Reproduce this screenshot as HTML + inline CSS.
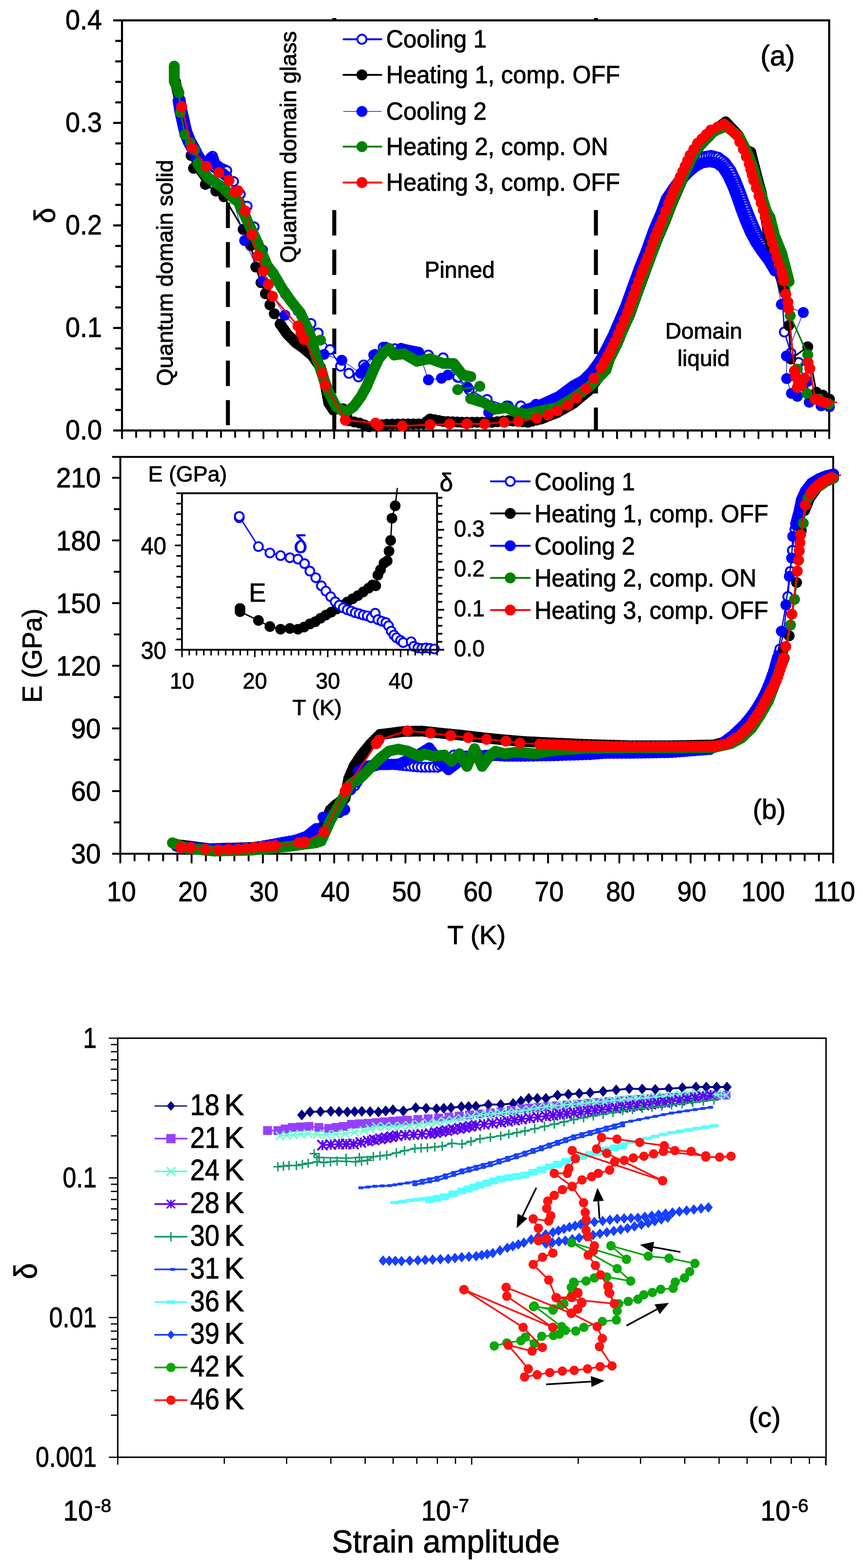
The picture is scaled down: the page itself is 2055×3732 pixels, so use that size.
<!DOCTYPE html>
<html><head><meta charset="utf-8"><title>Figure</title><style>
html,body{margin:0;padding:0;background:#fff;}
svg{display:block;}
text{font-family:'Liberation Sans',Arial,Helvetica,sans-serif;}
</style></head><body>
<svg xmlns="http://www.w3.org/2000/svg" width="2055" height="3732" viewBox="0 0 2055 3732">
<rect width="2055" height="3732" fill="#fff"/>
<line x1="269.5" y1="1024.6" x2="290.5" y2="1024.6" stroke="#000" stroke-width="5" />
<line x1="274.5" y1="975.8" x2="290.5" y2="975.8" stroke="#000" stroke-width="5" />
<line x1="274.5" y1="927.0" x2="290.5" y2="927.0" stroke="#000" stroke-width="5" />
<line x1="274.5" y1="878.2" x2="290.5" y2="878.2" stroke="#000" stroke-width="5" />
<line x1="274.5" y1="829.4" x2="290.5" y2="829.4" stroke="#000" stroke-width="5" />
<line x1="269.5" y1="780.6" x2="290.5" y2="780.6" stroke="#000" stroke-width="5" />
<line x1="274.5" y1="731.8" x2="290.5" y2="731.8" stroke="#000" stroke-width="5" />
<line x1="274.5" y1="683.0" x2="290.5" y2="683.0" stroke="#000" stroke-width="5" />
<line x1="274.5" y1="634.2" x2="290.5" y2="634.2" stroke="#000" stroke-width="5" />
<line x1="274.5" y1="585.4" x2="290.5" y2="585.4" stroke="#000" stroke-width="5" />
<line x1="269.5" y1="536.5" x2="290.5" y2="536.5" stroke="#000" stroke-width="5" />
<line x1="274.5" y1="487.7" x2="290.5" y2="487.7" stroke="#000" stroke-width="5" />
<line x1="274.5" y1="438.9" x2="290.5" y2="438.9" stroke="#000" stroke-width="5" />
<line x1="274.5" y1="390.1" x2="290.5" y2="390.1" stroke="#000" stroke-width="5" />
<line x1="274.5" y1="341.3" x2="290.5" y2="341.3" stroke="#000" stroke-width="5" />
<line x1="269.5" y1="292.5" x2="290.5" y2="292.5" stroke="#000" stroke-width="5" />
<line x1="274.5" y1="243.7" x2="290.5" y2="243.7" stroke="#000" stroke-width="5" />
<line x1="274.5" y1="194.9" x2="290.5" y2="194.9" stroke="#000" stroke-width="5" />
<line x1="274.5" y1="146.1" x2="290.5" y2="146.1" stroke="#000" stroke-width="5" />
<line x1="274.5" y1="97.3" x2="290.5" y2="97.3" stroke="#000" stroke-width="5" />
<line x1="269.5" y1="48.5" x2="290.5" y2="48.5" stroke="#000" stroke-width="5" />
<line x1="290.5" y1="1024.6" x2="290.5" y2="1043.0" stroke="#000" stroke-width="4.5" stroke-linecap="round"/>
<line x1="324.2" y1="1024.6" x2="324.2" y2="1040.0" stroke="#000" stroke-width="4.5" stroke-linecap="round"/>
<line x1="357.9" y1="1024.6" x2="357.9" y2="1040.0" stroke="#000" stroke-width="4.5" stroke-linecap="round"/>
<line x1="391.5" y1="1024.6" x2="391.5" y2="1040.0" stroke="#000" stroke-width="4.5" stroke-linecap="round"/>
<line x1="425.2" y1="1024.6" x2="425.2" y2="1040.0" stroke="#000" stroke-width="4.5" stroke-linecap="round"/>
<line x1="458.9" y1="1024.6" x2="458.9" y2="1043.0" stroke="#000" stroke-width="4.5" stroke-linecap="round"/>
<line x1="492.6" y1="1024.6" x2="492.6" y2="1040.0" stroke="#000" stroke-width="4.5" stroke-linecap="round"/>
<line x1="526.3" y1="1024.6" x2="526.3" y2="1040.0" stroke="#000" stroke-width="4.5" stroke-linecap="round"/>
<line x1="559.9" y1="1024.6" x2="559.9" y2="1040.0" stroke="#000" stroke-width="4.5" stroke-linecap="round"/>
<line x1="593.6" y1="1024.6" x2="593.6" y2="1040.0" stroke="#000" stroke-width="4.5" stroke-linecap="round"/>
<line x1="627.3" y1="1024.6" x2="627.3" y2="1043.0" stroke="#000" stroke-width="4.5" stroke-linecap="round"/>
<line x1="661.0" y1="1024.6" x2="661.0" y2="1040.0" stroke="#000" stroke-width="4.5" stroke-linecap="round"/>
<line x1="694.7" y1="1024.6" x2="694.7" y2="1040.0" stroke="#000" stroke-width="4.5" stroke-linecap="round"/>
<line x1="728.3" y1="1024.6" x2="728.3" y2="1040.0" stroke="#000" stroke-width="4.5" stroke-linecap="round"/>
<line x1="762.0" y1="1024.6" x2="762.0" y2="1040.0" stroke="#000" stroke-width="4.5" stroke-linecap="round"/>
<line x1="795.7" y1="1024.6" x2="795.7" y2="1043.0" stroke="#000" stroke-width="4.5" stroke-linecap="round"/>
<line x1="829.4" y1="1024.6" x2="829.4" y2="1040.0" stroke="#000" stroke-width="4.5" stroke-linecap="round"/>
<line x1="863.1" y1="1024.6" x2="863.1" y2="1040.0" stroke="#000" stroke-width="4.5" stroke-linecap="round"/>
<line x1="896.7" y1="1024.6" x2="896.7" y2="1040.0" stroke="#000" stroke-width="4.5" stroke-linecap="round"/>
<line x1="930.4" y1="1024.6" x2="930.4" y2="1040.0" stroke="#000" stroke-width="4.5" stroke-linecap="round"/>
<line x1="964.1" y1="1024.6" x2="964.1" y2="1043.0" stroke="#000" stroke-width="4.5" stroke-linecap="round"/>
<line x1="997.8" y1="1024.6" x2="997.8" y2="1040.0" stroke="#000" stroke-width="4.5" stroke-linecap="round"/>
<line x1="1031.5" y1="1024.6" x2="1031.5" y2="1040.0" stroke="#000" stroke-width="4.5" stroke-linecap="round"/>
<line x1="1065.1" y1="1024.6" x2="1065.1" y2="1040.0" stroke="#000" stroke-width="4.5" stroke-linecap="round"/>
<line x1="1098.8" y1="1024.6" x2="1098.8" y2="1040.0" stroke="#000" stroke-width="4.5" stroke-linecap="round"/>
<line x1="1132.5" y1="1024.6" x2="1132.5" y2="1043.0" stroke="#000" stroke-width="4.5" stroke-linecap="round"/>
<line x1="1166.2" y1="1024.6" x2="1166.2" y2="1040.0" stroke="#000" stroke-width="4.5" stroke-linecap="round"/>
<line x1="1199.9" y1="1024.6" x2="1199.9" y2="1040.0" stroke="#000" stroke-width="4.5" stroke-linecap="round"/>
<line x1="1233.5" y1="1024.6" x2="1233.5" y2="1040.0" stroke="#000" stroke-width="4.5" stroke-linecap="round"/>
<line x1="1267.2" y1="1024.6" x2="1267.2" y2="1040.0" stroke="#000" stroke-width="4.5" stroke-linecap="round"/>
<line x1="1300.9" y1="1024.6" x2="1300.9" y2="1043.0" stroke="#000" stroke-width="4.5" stroke-linecap="round"/>
<line x1="1334.6" y1="1024.6" x2="1334.6" y2="1040.0" stroke="#000" stroke-width="4.5" stroke-linecap="round"/>
<line x1="1368.3" y1="1024.6" x2="1368.3" y2="1040.0" stroke="#000" stroke-width="4.5" stroke-linecap="round"/>
<line x1="1401.9" y1="1024.6" x2="1401.9" y2="1040.0" stroke="#000" stroke-width="4.5" stroke-linecap="round"/>
<line x1="1435.6" y1="1024.6" x2="1435.6" y2="1040.0" stroke="#000" stroke-width="4.5" stroke-linecap="round"/>
<line x1="1469.3" y1="1024.6" x2="1469.3" y2="1043.0" stroke="#000" stroke-width="4.5" stroke-linecap="round"/>
<line x1="1503.0" y1="1024.6" x2="1503.0" y2="1040.0" stroke="#000" stroke-width="4.5" stroke-linecap="round"/>
<line x1="1536.7" y1="1024.6" x2="1536.7" y2="1040.0" stroke="#000" stroke-width="4.5" stroke-linecap="round"/>
<line x1="1570.3" y1="1024.6" x2="1570.3" y2="1040.0" stroke="#000" stroke-width="4.5" stroke-linecap="round"/>
<line x1="1604.0" y1="1024.6" x2="1604.0" y2="1040.0" stroke="#000" stroke-width="4.5" stroke-linecap="round"/>
<line x1="1637.7" y1="1024.6" x2="1637.7" y2="1043.0" stroke="#000" stroke-width="4.5" stroke-linecap="round"/>
<line x1="1671.4" y1="1024.6" x2="1671.4" y2="1040.0" stroke="#000" stroke-width="4.5" stroke-linecap="round"/>
<line x1="1705.1" y1="1024.6" x2="1705.1" y2="1040.0" stroke="#000" stroke-width="4.5" stroke-linecap="round"/>
<line x1="1738.7" y1="1024.6" x2="1738.7" y2="1040.0" stroke="#000" stroke-width="4.5" stroke-linecap="round"/>
<line x1="1772.4" y1="1024.6" x2="1772.4" y2="1040.0" stroke="#000" stroke-width="4.5" stroke-linecap="round"/>
<line x1="1806.1" y1="1024.6" x2="1806.1" y2="1043.0" stroke="#000" stroke-width="4.5" stroke-linecap="round"/>
<line x1="1839.8" y1="1024.6" x2="1839.8" y2="1040.0" stroke="#000" stroke-width="4.5" stroke-linecap="round"/>
<line x1="1873.5" y1="1024.6" x2="1873.5" y2="1040.0" stroke="#000" stroke-width="4.5" stroke-linecap="round"/>
<line x1="1907.1" y1="1024.6" x2="1907.1" y2="1040.0" stroke="#000" stroke-width="4.5" stroke-linecap="round"/>
<line x1="1940.8" y1="1024.6" x2="1940.8" y2="1040.0" stroke="#000" stroke-width="4.5" stroke-linecap="round"/>
<line x1="1974.5" y1="1024.6" x2="1974.5" y2="1043.0" stroke="#000" stroke-width="4.5" stroke-linecap="round"/>
<rect x="290.5" y="48.5" width="1684.0" height="976.0999999999999" fill="none" stroke="#000" stroke-width="5"/>
<line x1="542.7" y1="482.3" x2="542.7" y2="1012.0" stroke="#000" stroke-width="9.5" stroke-dasharray="60.5 33.5"/>
<line x1="796.0" y1="500.0" x2="796.0" y2="1024.0" stroke="#000" stroke-width="9.5" stroke-dasharray="60.5 33.5"/>
<line x1="1419.0" y1="500.0" x2="1419.0" y2="1024.0" stroke="#000" stroke-width="9.5" stroke-dasharray="60.5 33.5"/>
<rect x="791" y="43" width="10" height="5" fill="#000"/>
<rect x="1414" y="43" width="10" height="5" fill="#000"/>
<g id="dataA">
<polyline points="429.0,238.0 433.0,261.0 439.0,288.0 445.0,314.0 453.0,334.0 463.0,352.0 471.0,368.0 480.0,382.0 495.0,392.0 506.0,372.0 512.0,390.0 526.0,400.0 539.9,406.2 556.0,432.0 572.0,462.0 588.2,490.8 605.0,540.0 625.0,595.0 650.0,650.0 680.0,700.0 710.0,740.0 740.5,770.0 757.5,792.6 785.7,832.0 811.0,871.6 830.8,888.5 853.4,897.0 866.0,868.8 890.0,845.0 912.6,826.5 940.0,830.0 980.0,838.0 1020.0,845.0 1055.2,851.8 1090.0,898.3 1117.2,927.4 1159.9,950.7 1206.4,966.2 1240.0,966.0 1276.3,962.3 1307.3,956.5 1346.1,939.0 1384.9,911.9 1384.9,911.9 1412.0,882.0 1429.0,858.0 1444.0,830.0 1461.0,796.0 1475.0,763.0 1490.0,728.0 1505.0,686.0 1523.0,637.0 1539.0,597.0 1556.0,549.0 1574.0,507.0 1586.0,474.0 1604.0,447.0 1622.0,423.0 1640.0,402.0 1657.0,385.0 1675.0,373.0 1693.0,370.0 1710.0,374.0 1726.0,386.0 1740.0,405.0 1752.0,430.0 1763.0,458.0 1774.0,488.0 1786.0,518.0 1798.0,546.0 1810.0,572.0 1825.0,592.0 1845.0,600.0 1856.0,590.0 1867.7,790.2 1883.2,840.3 1901.6,862.8 1930.0,945.0 1960.0,960.0" fill="none" stroke="#0000ff" stroke-width="3" stroke-linejoin="round" stroke-linecap="round"/>
<g fill="#fff" stroke="#0000ff" stroke-width="4.5"><circle cx="429.0" cy="238.0" r="10.8"/><circle cx="430.0" cy="243.8" r="10.8"/><circle cx="431.0" cy="249.5" r="10.8"/><circle cx="432.0" cy="255.2" r="10.8"/><circle cx="433.0" cy="261.0" r="10.8"/><circle cx="434.5" cy="267.8" r="10.8"/><circle cx="436.0" cy="274.5" r="10.8"/><circle cx="437.5" cy="281.2" r="10.8"/><circle cx="439.0" cy="288.0" r="10.8"/><circle cx="440.5" cy="294.5" r="10.8"/><circle cx="442.0" cy="301.0" r="10.8"/><circle cx="443.5" cy="307.5" r="10.8"/><circle cx="445.0" cy="314.0" r="10.8"/><circle cx="447.0" cy="319.0" r="10.8"/><circle cx="449.0" cy="324.0" r="10.8"/><circle cx="451.0" cy="329.0" r="10.8"/><circle cx="453.0" cy="334.0" r="10.8"/><circle cx="456.3" cy="340.0" r="10.8"/><circle cx="459.7" cy="346.0" r="10.8"/><circle cx="463.0" cy="352.0" r="10.8"/><circle cx="465.7" cy="357.3" r="10.8"/><circle cx="468.3" cy="362.7" r="10.8"/><circle cx="471.0" cy="368.0" r="10.8"/><circle cx="474.0" cy="372.7" r="10.8"/><circle cx="477.0" cy="377.3" r="10.8"/><circle cx="480.0" cy="382.0" r="10.8"/><circle cx="485.0" cy="385.3" r="10.8"/><circle cx="490.0" cy="388.7" r="10.8"/><circle cx="495.0" cy="392.0" r="10.8"/><circle cx="497.8" cy="387.0" r="10.8"/><circle cx="500.5" cy="382.0" r="10.8"/><circle cx="503.2" cy="377.0" r="10.8"/><circle cx="506.0" cy="372.0" r="10.8"/><circle cx="508.0" cy="378.0" r="10.8"/><circle cx="510.0" cy="384.0" r="10.8"/><circle cx="512.0" cy="390.0" r="10.8"/><circle cx="516.7" cy="393.3" r="10.8"/><circle cx="521.3" cy="396.7" r="10.8"/><circle cx="526.0" cy="400.0" r="10.8"/><circle cx="530.6" cy="402.1" r="10.8"/><circle cx="535.3" cy="404.1" r="10.8"/><circle cx="539.9" cy="406.2" r="10.8"/><circle cx="556.0" cy="432.0" r="10.8"/><circle cx="572.0" cy="462.0" r="10.8"/><circle cx="588.2" cy="490.8" r="10.8"/><circle cx="605.0" cy="540.0" r="10.8"/><circle cx="625.0" cy="595.0" r="10.8"/><circle cx="650.0" cy="650.0" r="10.8"/><circle cx="680.0" cy="700.0" r="10.8"/><circle cx="710.0" cy="740.0" r="10.8"/><circle cx="740.5" cy="770.0" r="10.8"/><circle cx="757.5" cy="792.6" r="10.8"/><circle cx="785.7" cy="832.0" r="10.8"/><circle cx="811.0" cy="871.6" r="10.8"/><circle cx="830.8" cy="888.5" r="10.8"/><circle cx="853.4" cy="897.0" r="10.8"/><circle cx="866.0" cy="868.8" r="10.8"/><circle cx="890.0" cy="845.0" r="10.8"/><circle cx="912.6" cy="826.5" r="10.8"/><circle cx="940.0" cy="830.0" r="10.8"/><circle cx="980.0" cy="838.0" r="10.8"/><circle cx="1020.0" cy="845.0" r="10.8"/><circle cx="1055.2" cy="851.8" r="10.8"/><circle cx="1090.0" cy="898.3" r="10.8"/><circle cx="1117.2" cy="927.4" r="10.8"/><circle cx="1159.9" cy="950.7" r="10.8"/><circle cx="1206.4" cy="966.2" r="10.8"/><circle cx="1240.0" cy="966.0" r="10.8"/><circle cx="1276.3" cy="962.3" r="10.8"/><circle cx="1307.3" cy="956.5" r="10.8"/><circle cx="1346.1" cy="939.0" r="10.8"/><circle cx="1384.9" cy="911.9" r="10.8"/><circle cx="1384.9" cy="911.9" r="10.8"/><circle cx="1389.4" cy="906.9" r="10.8"/><circle cx="1393.9" cy="901.9" r="10.8"/><circle cx="1398.5" cy="897.0" r="10.8"/><circle cx="1403.0" cy="892.0" r="10.8"/><circle cx="1407.5" cy="887.0" r="10.8"/><circle cx="1412.0" cy="882.0" r="10.8"/><circle cx="1415.4" cy="877.2" r="10.8"/><circle cx="1418.8" cy="872.4" r="10.8"/><circle cx="1422.2" cy="867.6" r="10.8"/><circle cx="1425.6" cy="862.8" r="10.8"/><circle cx="1429.0" cy="858.0" r="10.8"/><circle cx="1432.0" cy="852.4" r="10.8"/><circle cx="1435.0" cy="846.8" r="10.8"/><circle cx="1438.0" cy="841.2" r="10.8"/><circle cx="1441.0" cy="835.6" r="10.8"/><circle cx="1444.0" cy="830.0" r="10.8"/><circle cx="1446.8" cy="824.3" r="10.8"/><circle cx="1449.7" cy="818.7" r="10.8"/><circle cx="1452.5" cy="813.0" r="10.8"/><circle cx="1455.3" cy="807.3" r="10.8"/><circle cx="1458.2" cy="801.7" r="10.8"/><circle cx="1461.0" cy="796.0" r="10.8"/><circle cx="1463.3" cy="790.5" r="10.8"/><circle cx="1465.7" cy="785.0" r="10.8"/><circle cx="1468.0" cy="779.5" r="10.8"/><circle cx="1470.3" cy="774.0" r="10.8"/><circle cx="1472.7" cy="768.5" r="10.8"/><circle cx="1475.0" cy="763.0" r="10.8"/><circle cx="1477.5" cy="757.2" r="10.8"/><circle cx="1480.0" cy="751.3" r="10.8"/><circle cx="1482.5" cy="745.5" r="10.8"/><circle cx="1485.0" cy="739.7" r="10.8"/><circle cx="1487.5" cy="733.8" r="10.8"/><circle cx="1490.0" cy="728.0" r="10.8"/><circle cx="1492.1" cy="722.0" r="10.8"/><circle cx="1494.3" cy="716.0" r="10.8"/><circle cx="1496.4" cy="710.0" r="10.8"/><circle cx="1498.6" cy="704.0" r="10.8"/><circle cx="1500.7" cy="698.0" r="10.8"/><circle cx="1502.9" cy="692.0" r="10.8"/><circle cx="1505.0" cy="686.0" r="10.8"/><circle cx="1507.2" cy="679.9" r="10.8"/><circle cx="1509.5" cy="673.8" r="10.8"/><circle cx="1511.8" cy="667.6" r="10.8"/><circle cx="1514.0" cy="661.5" r="10.8"/><circle cx="1516.2" cy="655.4" r="10.8"/><circle cx="1518.5" cy="649.2" r="10.8"/><circle cx="1520.8" cy="643.1" r="10.8"/><circle cx="1523.0" cy="637.0" r="10.8"/><circle cx="1525.3" cy="631.3" r="10.8"/><circle cx="1527.6" cy="625.6" r="10.8"/><circle cx="1529.9" cy="619.9" r="10.8"/><circle cx="1532.1" cy="614.1" r="10.8"/><circle cx="1534.4" cy="608.4" r="10.8"/><circle cx="1536.7" cy="602.7" r="10.8"/><circle cx="1539.0" cy="597.0" r="10.8"/><circle cx="1541.1" cy="591.0" r="10.8"/><circle cx="1543.2" cy="585.0" r="10.8"/><circle cx="1545.4" cy="579.0" r="10.8"/><circle cx="1547.5" cy="573.0" r="10.8"/><circle cx="1549.6" cy="567.0" r="10.8"/><circle cx="1551.8" cy="561.0" r="10.8"/><circle cx="1553.9" cy="555.0" r="10.8"/><circle cx="1556.0" cy="549.0" r="10.8"/><circle cx="1558.6" cy="543.0" r="10.8"/><circle cx="1561.1" cy="537.0" r="10.8"/><circle cx="1563.7" cy="531.0" r="10.8"/><circle cx="1566.3" cy="525.0" r="10.8"/><circle cx="1568.9" cy="519.0" r="10.8"/><circle cx="1571.4" cy="513.0" r="10.8"/><circle cx="1574.0" cy="507.0" r="10.8"/><circle cx="1576.0" cy="501.5" r="10.8"/><circle cx="1578.0" cy="496.0" r="10.8"/><circle cx="1580.0" cy="490.5" r="10.8"/><circle cx="1582.0" cy="485.0" r="10.8"/><circle cx="1584.0" cy="479.5" r="10.8"/><circle cx="1586.0" cy="474.0" r="10.8"/><circle cx="1589.6" cy="468.6" r="10.8"/><circle cx="1593.2" cy="463.2" r="10.8"/><circle cx="1596.8" cy="457.8" r="10.8"/><circle cx="1600.4" cy="452.4" r="10.8"/><circle cx="1604.0" cy="447.0" r="10.8"/><circle cx="1607.6" cy="442.2" r="10.8"/><circle cx="1611.2" cy="437.4" r="10.8"/><circle cx="1614.8" cy="432.6" r="10.8"/><circle cx="1618.4" cy="427.8" r="10.8"/><circle cx="1622.0" cy="423.0" r="10.8"/><circle cx="1626.5" cy="417.8" r="10.8"/><circle cx="1631.0" cy="412.5" r="10.8"/><circle cx="1635.5" cy="407.2" r="10.8"/><circle cx="1640.0" cy="402.0" r="10.8"/><circle cx="1644.2" cy="397.8" r="10.8"/><circle cx="1648.5" cy="393.5" r="10.8"/><circle cx="1652.8" cy="389.2" r="10.8"/><circle cx="1657.0" cy="385.0" r="10.8"/><circle cx="1661.5" cy="382.0" r="10.8"/><circle cx="1666.0" cy="379.0" r="10.8"/><circle cx="1670.5" cy="376.0" r="10.8"/><circle cx="1675.0" cy="373.0" r="10.8"/><circle cx="1681.0" cy="372.0" r="10.8"/><circle cx="1687.0" cy="371.0" r="10.8"/><circle cx="1693.0" cy="370.0" r="10.8"/><circle cx="1698.7" cy="371.3" r="10.8"/><circle cx="1704.3" cy="372.7" r="10.8"/><circle cx="1710.0" cy="374.0" r="10.8"/><circle cx="1715.3" cy="378.0" r="10.8"/><circle cx="1720.7" cy="382.0" r="10.8"/><circle cx="1726.0" cy="386.0" r="10.8"/><circle cx="1729.5" cy="390.8" r="10.8"/><circle cx="1733.0" cy="395.5" r="10.8"/><circle cx="1736.5" cy="400.2" r="10.8"/><circle cx="1740.0" cy="405.0" r="10.8"/><circle cx="1743.0" cy="411.2" r="10.8"/><circle cx="1746.0" cy="417.5" r="10.8"/><circle cx="1749.0" cy="423.8" r="10.8"/><circle cx="1752.0" cy="430.0" r="10.8"/><circle cx="1754.2" cy="435.6" r="10.8"/><circle cx="1756.4" cy="441.2" r="10.8"/><circle cx="1758.6" cy="446.8" r="10.8"/><circle cx="1760.8" cy="452.4" r="10.8"/><circle cx="1763.0" cy="458.0" r="10.8"/><circle cx="1765.2" cy="464.0" r="10.8"/><circle cx="1767.4" cy="470.0" r="10.8"/><circle cx="1769.6" cy="476.0" r="10.8"/><circle cx="1771.8" cy="482.0" r="10.8"/><circle cx="1774.0" cy="488.0" r="10.8"/><circle cx="1776.4" cy="494.0" r="10.8"/><circle cx="1778.8" cy="500.0" r="10.8"/><circle cx="1781.2" cy="506.0" r="10.8"/><circle cx="1783.6" cy="512.0" r="10.8"/><circle cx="1786.0" cy="518.0" r="10.8"/><circle cx="1788.4" cy="523.6" r="10.8"/><circle cx="1790.8" cy="529.2" r="10.8"/><circle cx="1793.2" cy="534.8" r="10.8"/><circle cx="1795.6" cy="540.4" r="10.8"/><circle cx="1798.0" cy="546.0" r="10.8"/><circle cx="1800.4" cy="551.2" r="10.8"/><circle cx="1802.8" cy="556.4" r="10.8"/><circle cx="1805.2" cy="561.6" r="10.8"/><circle cx="1807.6" cy="566.8" r="10.8"/><circle cx="1810.0" cy="572.0" r="10.8"/><circle cx="1813.8" cy="577.0" r="10.8"/><circle cx="1817.5" cy="582.0" r="10.8"/><circle cx="1821.2" cy="587.0" r="10.8"/><circle cx="1825.0" cy="592.0" r="10.8"/><circle cx="1830.0" cy="594.0" r="10.8"/><circle cx="1835.0" cy="596.0" r="10.8"/><circle cx="1840.0" cy="598.0" r="10.8"/><circle cx="1845.0" cy="600.0" r="10.8"/><circle cx="1848.7" cy="596.7" r="10.8"/><circle cx="1852.3" cy="593.3" r="10.8"/><circle cx="1856.0" cy="590.0" r="10.8"/><circle cx="1867.7" cy="790.2" r="10.8"/><circle cx="1883.2" cy="840.3" r="10.8"/><circle cx="1901.6" cy="862.8" r="10.8"/><circle cx="1930.0" cy="945.0" r="10.8"/><circle cx="1960.0" cy="960.0" r="10.8"/></g>
<polyline points="418.0,195.0 421.0,210.0 424.8,226.8 440.0,310.0 455.0,370.0 460.9,400.5 489.1,438.9 514.0,454.7 533.1,468.2 579.0,546.0 596.8,584.5 609.0,635.6 621.5,672.7 632.0,699.0 642.7,725.6 653.2,746.7 667.3,771.4 667.3,771.4 684.1,795.4 703.9,815.2 723.6,829.3 743.4,846.2 763.1,874.4 774.4,913.9 782.8,959.0 794.1,976.0 816.7,973.0 830.8,1001.4 856.2,1007.0 878.8,1015.5 900.0,1012.0 921.0,1009.8 960.0,1009.0 1008.6,1008.9 1024.1,997.2 1055.2,1003.0 1100.0,1005.0 1171.5,1005.0 1210.3,1001.0 1256.9,1005.0 1287.9,997.2 1287.9,997.2 1326.7,982.0 1365.5,960.0 1404.3,927.4 1437.0,882.0 1452.0,853.0 1470.0,817.0 1484.0,783.0 1500.0,748.0 1515.0,705.0 1533.0,656.0 1548.0,615.0 1566.0,568.0 1584.0,526.0 1598.0,489.0 1614.0,452.0 1631.0,413.0 1649.0,374.0 1667.0,346.0 1698.0,314.0 1727.9,290.0 1758.0,322.0 1776.0,357.0 1787.9,362.3 1796.0,395.0 1802.0,418.7 1812.5,457.5 1821.0,500.0 1830.2,563.2 1848.0,625.0 1865.4,679.6 1870.5,699.2 1878.3,774.7 1883.2,854.4 1923.4,825.5 1943.9,933.4 1959.4,940.4 1975.0,950.0" fill="none" stroke="#000" stroke-width="4" stroke-linejoin="round" stroke-linecap="round"/>
<g fill="#000"><circle cx="418.0" cy="195.0" r="13.0"/><circle cx="419.5" cy="202.5" r="13.0"/><circle cx="421.0" cy="210.0" r="13.0"/><circle cx="422.3" cy="215.6" r="13.0"/><circle cx="423.5" cy="221.2" r="13.0"/><circle cx="424.8" cy="226.8" r="13.0"/><circle cx="440.0" cy="310.0" r="13.0"/><circle cx="455.0" cy="370.0" r="13.0"/><circle cx="460.9" cy="400.5" r="13.0"/><circle cx="489.1" cy="438.9" r="13.0"/><circle cx="514.0" cy="454.7" r="13.0"/><circle cx="533.1" cy="468.2" r="13.0"/><circle cx="579.0" cy="546.0" r="13.0"/><circle cx="596.8" cy="584.5" r="13.0"/><circle cx="609.0" cy="635.6" r="13.0"/><circle cx="621.5" cy="672.7" r="13.0"/><circle cx="632.0" cy="699.0" r="13.0"/><circle cx="642.7" cy="725.6" r="13.0"/><circle cx="653.2" cy="746.7" r="13.0"/><circle cx="667.3" cy="771.4" r="13.0"/><circle cx="667.3" cy="771.4" r="13.0"/><circle cx="671.5" cy="777.4" r="13.0"/><circle cx="675.7" cy="783.4" r="13.0"/><circle cx="679.9" cy="789.4" r="13.0"/><circle cx="684.1" cy="795.4" r="13.0"/><circle cx="689.0" cy="800.4" r="13.0"/><circle cx="694.0" cy="805.3" r="13.0"/><circle cx="699.0" cy="810.2" r="13.0"/><circle cx="703.9" cy="815.2" r="13.0"/><circle cx="708.8" cy="818.7" r="13.0"/><circle cx="713.8" cy="822.2" r="13.0"/><circle cx="718.7" cy="825.8" r="13.0"/><circle cx="723.6" cy="829.3" r="13.0"/><circle cx="728.5" cy="833.5" r="13.0"/><circle cx="733.5" cy="837.8" r="13.0"/><circle cx="738.5" cy="842.0" r="13.0"/><circle cx="743.4" cy="846.2" r="13.0"/><circle cx="747.3" cy="851.8" r="13.0"/><circle cx="751.3" cy="857.5" r="13.0"/><circle cx="755.2" cy="863.1" r="13.0"/><circle cx="759.2" cy="868.8" r="13.0"/><circle cx="763.1" cy="874.4" r="13.0"/><circle cx="765.0" cy="881.0" r="13.0"/><circle cx="766.9" cy="887.6" r="13.0"/><circle cx="768.8" cy="894.1" r="13.0"/><circle cx="770.6" cy="900.7" r="13.0"/><circle cx="772.5" cy="907.3" r="13.0"/><circle cx="774.4" cy="913.9" r="13.0"/><circle cx="775.8" cy="921.4" r="13.0"/><circle cx="777.2" cy="928.9" r="13.0"/><circle cx="778.6" cy="936.5" r="13.0"/><circle cx="780.0" cy="944.0" r="13.0"/><circle cx="781.4" cy="951.5" r="13.0"/><circle cx="782.8" cy="959.0" r="13.0"/><circle cx="786.6" cy="964.7" r="13.0"/><circle cx="790.3" cy="970.3" r="13.0"/><circle cx="794.1" cy="976.0" r="13.0"/><circle cx="816.7" cy="973.0" r="13.0"/><circle cx="821.4" cy="982.5" r="13.0"/><circle cx="826.1" cy="991.9" r="13.0"/><circle cx="830.8" cy="1001.4" r="13.0"/><circle cx="843.5" cy="1004.2" r="13.0"/><circle cx="856.2" cy="1007.0" r="13.0"/><circle cx="867.5" cy="1011.2" r="13.0"/><circle cx="878.8" cy="1015.5" r="13.0"/><circle cx="889.4" cy="1013.8" r="13.0"/><circle cx="900.0" cy="1012.0" r="13.0"/><circle cx="910.5" cy="1010.9" r="13.0"/><circle cx="921.0" cy="1009.8" r="13.0"/><circle cx="934.0" cy="1009.5" r="13.0"/><circle cx="947.0" cy="1009.3" r="13.0"/><circle cx="960.0" cy="1009.0" r="13.0"/><circle cx="972.1" cy="1009.0" r="13.0"/><circle cx="984.3" cy="1009.0" r="13.0"/><circle cx="996.5" cy="1008.9" r="13.0"/><circle cx="1008.6" cy="1008.9" r="13.0"/><circle cx="1016.3" cy="1003.0" r="13.0"/><circle cx="1024.1" cy="997.2" r="13.0"/><circle cx="1034.5" cy="999.1" r="13.0"/><circle cx="1044.8" cy="1001.1" r="13.0"/><circle cx="1055.2" cy="1003.0" r="13.0"/><circle cx="1066.4" cy="1003.5" r="13.0"/><circle cx="1077.6" cy="1004.0" r="13.0"/><circle cx="1088.8" cy="1004.5" r="13.0"/><circle cx="1100.0" cy="1005.0" r="13.0"/><circle cx="1111.9" cy="1005.0" r="13.0"/><circle cx="1123.8" cy="1005.0" r="13.0"/><circle cx="1135.8" cy="1005.0" r="13.0"/><circle cx="1147.7" cy="1005.0" r="13.0"/><circle cx="1159.6" cy="1005.0" r="13.0"/><circle cx="1171.5" cy="1005.0" r="13.0"/><circle cx="1184.4" cy="1003.7" r="13.0"/><circle cx="1197.4" cy="1002.3" r="13.0"/><circle cx="1210.3" cy="1001.0" r="13.0"/><circle cx="1222.0" cy="1002.0" r="13.0"/><circle cx="1233.6" cy="1003.0" r="13.0"/><circle cx="1245.2" cy="1004.0" r="13.0"/><circle cx="1256.9" cy="1005.0" r="13.0"/><circle cx="1267.2" cy="1002.4" r="13.0"/><circle cx="1277.6" cy="999.8" r="13.0"/><circle cx="1287.9" cy="997.2" r="13.0"/><circle cx="1287.9" cy="997.2" r="13.0"/><circle cx="1294.4" cy="994.7" r="13.0"/><circle cx="1300.8" cy="992.1" r="13.0"/><circle cx="1307.3" cy="989.6" r="13.0"/><circle cx="1313.8" cy="987.1" r="13.0"/><circle cx="1320.2" cy="984.5" r="13.0"/><circle cx="1326.7" cy="982.0" r="13.0"/><circle cx="1333.2" cy="978.3" r="13.0"/><circle cx="1339.6" cy="974.7" r="13.0"/><circle cx="1346.1" cy="971.0" r="13.0"/><circle cx="1352.6" cy="967.3" r="13.0"/><circle cx="1359.0" cy="963.7" r="13.0"/><circle cx="1365.5" cy="960.0" r="13.0"/><circle cx="1371.0" cy="955.3" r="13.0"/><circle cx="1376.6" cy="950.7" r="13.0"/><circle cx="1382.1" cy="946.0" r="13.0"/><circle cx="1387.7" cy="941.4" r="13.0"/><circle cx="1393.2" cy="936.7" r="13.0"/><circle cx="1398.8" cy="932.1" r="13.0"/><circle cx="1404.3" cy="927.4" r="13.0"/><circle cx="1409.0" cy="920.9" r="13.0"/><circle cx="1413.6" cy="914.4" r="13.0"/><circle cx="1418.3" cy="907.9" r="13.0"/><circle cx="1423.0" cy="901.5" r="13.0"/><circle cx="1427.7" cy="895.0" r="13.0"/><circle cx="1432.3" cy="888.5" r="13.0"/><circle cx="1437.0" cy="882.0" r="13.0"/><circle cx="1440.0" cy="876.2" r="13.0"/><circle cx="1443.0" cy="870.4" r="13.0"/><circle cx="1446.0" cy="864.6" r="13.0"/><circle cx="1449.0" cy="858.8" r="13.0"/><circle cx="1452.0" cy="853.0" r="13.0"/><circle cx="1455.0" cy="847.0" r="13.0"/><circle cx="1458.0" cy="841.0" r="13.0"/><circle cx="1461.0" cy="835.0" r="13.0"/><circle cx="1464.0" cy="829.0" r="13.0"/><circle cx="1467.0" cy="823.0" r="13.0"/><circle cx="1470.0" cy="817.0" r="13.0"/><circle cx="1472.8" cy="810.2" r="13.0"/><circle cx="1475.6" cy="803.4" r="13.0"/><circle cx="1478.4" cy="796.6" r="13.0"/><circle cx="1481.2" cy="789.8" r="13.0"/><circle cx="1484.0" cy="783.0" r="13.0"/><circle cx="1487.2" cy="776.0" r="13.0"/><circle cx="1490.4" cy="769.0" r="13.0"/><circle cx="1493.6" cy="762.0" r="13.0"/><circle cx="1496.8" cy="755.0" r="13.0"/><circle cx="1500.0" cy="748.0" r="13.0"/><circle cx="1502.5" cy="740.8" r="13.0"/><circle cx="1505.0" cy="733.7" r="13.0"/><circle cx="1507.5" cy="726.5" r="13.0"/><circle cx="1510.0" cy="719.3" r="13.0"/><circle cx="1512.5" cy="712.2" r="13.0"/><circle cx="1515.0" cy="705.0" r="13.0"/><circle cx="1517.6" cy="698.0" r="13.0"/><circle cx="1520.1" cy="691.0" r="13.0"/><circle cx="1522.7" cy="684.0" r="13.0"/><circle cx="1525.3" cy="677.0" r="13.0"/><circle cx="1527.9" cy="670.0" r="13.0"/><circle cx="1530.4" cy="663.0" r="13.0"/><circle cx="1533.0" cy="656.0" r="13.0"/><circle cx="1535.5" cy="649.2" r="13.0"/><circle cx="1538.0" cy="642.3" r="13.0"/><circle cx="1540.5" cy="635.5" r="13.0"/><circle cx="1543.0" cy="628.7" r="13.0"/><circle cx="1545.5" cy="621.8" r="13.0"/><circle cx="1548.0" cy="615.0" r="13.0"/><circle cx="1550.6" cy="608.3" r="13.0"/><circle cx="1553.1" cy="601.6" r="13.0"/><circle cx="1555.7" cy="594.9" r="13.0"/><circle cx="1558.3" cy="588.1" r="13.0"/><circle cx="1560.9" cy="581.4" r="13.0"/><circle cx="1563.4" cy="574.7" r="13.0"/><circle cx="1566.0" cy="568.0" r="13.0"/><circle cx="1569.0" cy="561.0" r="13.0"/><circle cx="1572.0" cy="554.0" r="13.0"/><circle cx="1575.0" cy="547.0" r="13.0"/><circle cx="1578.0" cy="540.0" r="13.0"/><circle cx="1581.0" cy="533.0" r="13.0"/><circle cx="1584.0" cy="526.0" r="13.0"/><circle cx="1586.8" cy="518.6" r="13.0"/><circle cx="1589.6" cy="511.2" r="13.0"/><circle cx="1592.4" cy="503.8" r="13.0"/><circle cx="1595.2" cy="496.4" r="13.0"/><circle cx="1598.0" cy="489.0" r="13.0"/><circle cx="1600.7" cy="482.8" r="13.0"/><circle cx="1603.3" cy="476.7" r="13.0"/><circle cx="1606.0" cy="470.5" r="13.0"/><circle cx="1608.7" cy="464.3" r="13.0"/><circle cx="1611.3" cy="458.2" r="13.0"/><circle cx="1614.0" cy="452.0" r="13.0"/><circle cx="1616.8" cy="445.5" r="13.0"/><circle cx="1619.7" cy="439.0" r="13.0"/><circle cx="1622.5" cy="432.5" r="13.0"/><circle cx="1625.3" cy="426.0" r="13.0"/><circle cx="1628.2" cy="419.5" r="13.0"/><circle cx="1631.0" cy="413.0" r="13.0"/><circle cx="1634.0" cy="406.5" r="13.0"/><circle cx="1637.0" cy="400.0" r="13.0"/><circle cx="1640.0" cy="393.5" r="13.0"/><circle cx="1643.0" cy="387.0" r="13.0"/><circle cx="1646.0" cy="380.5" r="13.0"/><circle cx="1649.0" cy="374.0" r="13.0"/><circle cx="1652.6" cy="368.4" r="13.0"/><circle cx="1656.2" cy="362.8" r="13.0"/><circle cx="1659.8" cy="357.2" r="13.0"/><circle cx="1663.4" cy="351.6" r="13.0"/><circle cx="1667.0" cy="346.0" r="13.0"/><circle cx="1672.2" cy="340.7" r="13.0"/><circle cx="1677.3" cy="335.3" r="13.0"/><circle cx="1682.5" cy="330.0" r="13.0"/><circle cx="1687.7" cy="324.7" r="13.0"/><circle cx="1692.8" cy="319.3" r="13.0"/><circle cx="1698.0" cy="314.0" r="13.0"/><circle cx="1704.0" cy="309.2" r="13.0"/><circle cx="1710.0" cy="304.4" r="13.0"/><circle cx="1715.9" cy="299.6" r="13.0"/><circle cx="1721.9" cy="294.8" r="13.0"/><circle cx="1727.9" cy="290.0" r="13.0"/><circle cx="1732.9" cy="295.3" r="13.0"/><circle cx="1737.9" cy="300.7" r="13.0"/><circle cx="1743.0" cy="306.0" r="13.0"/><circle cx="1748.0" cy="311.3" r="13.0"/><circle cx="1753.0" cy="316.7" r="13.0"/><circle cx="1758.0" cy="322.0" r="13.0"/><circle cx="1761.6" cy="329.0" r="13.0"/><circle cx="1765.2" cy="336.0" r="13.0"/><circle cx="1768.8" cy="343.0" r="13.0"/><circle cx="1772.4" cy="350.0" r="13.0"/><circle cx="1776.0" cy="357.0" r="13.0"/><circle cx="1782.0" cy="359.6" r="13.0"/><circle cx="1787.9" cy="362.3" r="13.0"/><circle cx="1789.5" cy="368.8" r="13.0"/><circle cx="1791.1" cy="375.4" r="13.0"/><circle cx="1792.8" cy="381.9" r="13.0"/><circle cx="1794.4" cy="388.5" r="13.0"/><circle cx="1796.0" cy="395.0" r="13.0"/><circle cx="1797.5" cy="400.9" r="13.0"/><circle cx="1799.0" cy="406.9" r="13.0"/><circle cx="1800.5" cy="412.8" r="13.0"/><circle cx="1802.0" cy="418.7" r="13.0"/><circle cx="1803.8" cy="425.2" r="13.0"/><circle cx="1805.5" cy="431.6" r="13.0"/><circle cx="1807.2" cy="438.1" r="13.0"/><circle cx="1809.0" cy="444.6" r="13.0"/><circle cx="1810.8" cy="451.0" r="13.0"/><circle cx="1812.5" cy="457.5" r="13.0"/><circle cx="1813.9" cy="464.6" r="13.0"/><circle cx="1815.3" cy="471.7" r="13.0"/><circle cx="1816.8" cy="478.8" r="13.0"/><circle cx="1818.2" cy="485.8" r="13.0"/><circle cx="1819.6" cy="492.9" r="13.0"/><circle cx="1821.0" cy="500.0" r="13.0"/><circle cx="1822.2" cy="507.9" r="13.0"/><circle cx="1823.3" cy="515.8" r="13.0"/><circle cx="1824.5" cy="523.7" r="13.0"/><circle cx="1825.6" cy="531.6" r="13.0"/><circle cx="1826.8" cy="539.5" r="13.0"/><circle cx="1827.9" cy="547.4" r="13.0"/><circle cx="1829.0" cy="555.3" r="13.0"/><circle cx="1830.2" cy="563.2" r="13.0"/><circle cx="1832.2" cy="570.1" r="13.0"/><circle cx="1834.2" cy="576.9" r="13.0"/><circle cx="1836.1" cy="583.8" r="13.0"/><circle cx="1838.1" cy="590.7" r="13.0"/><circle cx="1840.1" cy="597.5" r="13.0"/><circle cx="1842.1" cy="604.4" r="13.0"/><circle cx="1844.0" cy="611.3" r="13.0"/><circle cx="1846.0" cy="618.1" r="13.0"/><circle cx="1848.0" cy="625.0" r="13.0"/><circle cx="1850.2" cy="631.8" r="13.0"/><circle cx="1852.3" cy="638.6" r="13.0"/><circle cx="1854.5" cy="645.5" r="13.0"/><circle cx="1856.7" cy="652.3" r="13.0"/><circle cx="1858.9" cy="659.1" r="13.0"/><circle cx="1861.1" cy="666.0" r="13.0"/><circle cx="1863.2" cy="672.8" r="13.0"/><circle cx="1865.4" cy="679.6" r="13.0"/><circle cx="1867.1" cy="686.1" r="13.0"/><circle cx="1868.8" cy="692.7" r="13.0"/><circle cx="1870.5" cy="699.2" r="13.0"/><circle cx="1878.3" cy="774.7" r="13.0"/><circle cx="1883.2" cy="854.4" r="13.0"/><circle cx="1923.4" cy="825.5" r="13.0"/><circle cx="1943.9" cy="933.4" r="13.0"/><circle cx="1959.4" cy="940.4" r="13.0"/><circle cx="1975.0" cy="950.0" r="13.0"/></g>
<polyline points="424.0,240.0 428.0,265.0 434.0,292.0 440.0,318.0 448.0,338.0 458.0,356.0 466.0,372.0 475.0,386.0 490.0,398.0 501.6,375.7 505.0,395.0 520.0,405.0 540.0,420.0 582.6,572.6 626.3,668.5 678.5,750.3 725.0,800.0 771.6,843.4 813.9,857.5 859.0,888.5 870.3,874.4 892.9,843.4 918.3,826.5 954.9,829.3 954.9,829.3 975.0,834.0 997.0,838.2 1020.2,904.0 1051.3,900.2 1066.8,892.5 1113.3,921.6 1163.8,981.7 1210.3,966.2 1249.1,975.9 1249.1,975.9 1290.0,962.0 1330.0,944.0 1365.0,918.0 1389.0,905.0 1409.0,885.0 1426.0,862.0 1442.0,836.0 1460.0,800.0 1474.0,767.0 1489.0,732.0 1504.0,690.0 1522.0,641.0 1538.0,600.0 1555.0,553.0 1573.0,511.0 1585.0,480.0 1602.0,455.0 1620.0,432.0 1638.0,412.0 1655.0,397.0 1672.0,388.0 1690.0,385.0 1706.0,388.0 1720.0,398.0 1733.0,418.0 1744.0,442.0 1754.0,468.0 1764.0,497.0 1775.0,526.0 1787.0,554.0 1800.0,578.0 1815.0,600.0 1830.0,620.0 1845.0,645.0 1860.6,724.6 1912.8,743.7 1872.6,847.3 1873.3,901.0 1884.6,936.2 1898.7,943.2 1922.7,908.0 1927.0,957.4 1955.1,965.8 1975.0,968.0" fill="none" stroke="#0000ff" stroke-width="1.5" stroke-linejoin="round" stroke-linecap="round"/>
<g fill="#0000ff"><circle cx="424.0" cy="240.0" r="13.0"/><circle cx="425.0" cy="246.2" r="13.0"/><circle cx="426.0" cy="252.5" r="13.0"/><circle cx="427.0" cy="258.8" r="13.0"/><circle cx="428.0" cy="265.0" r="13.0"/><circle cx="429.5" cy="271.8" r="13.0"/><circle cx="431.0" cy="278.5" r="13.0"/><circle cx="432.5" cy="285.2" r="13.0"/><circle cx="434.0" cy="292.0" r="13.0"/><circle cx="435.5" cy="298.5" r="13.0"/><circle cx="437.0" cy="305.0" r="13.0"/><circle cx="438.5" cy="311.5" r="13.0"/><circle cx="440.0" cy="318.0" r="13.0"/><circle cx="442.0" cy="323.0" r="13.0"/><circle cx="444.0" cy="328.0" r="13.0"/><circle cx="446.0" cy="333.0" r="13.0"/><circle cx="448.0" cy="338.0" r="13.0"/><circle cx="451.3" cy="344.0" r="13.0"/><circle cx="454.7" cy="350.0" r="13.0"/><circle cx="458.0" cy="356.0" r="13.0"/><circle cx="460.7" cy="361.3" r="13.0"/><circle cx="463.3" cy="366.7" r="13.0"/><circle cx="466.0" cy="372.0" r="13.0"/><circle cx="469.0" cy="376.7" r="13.0"/><circle cx="472.0" cy="381.3" r="13.0"/><circle cx="475.0" cy="386.0" r="13.0"/><circle cx="480.0" cy="390.0" r="13.0"/><circle cx="485.0" cy="394.0" r="13.0"/><circle cx="490.0" cy="398.0" r="13.0"/><circle cx="492.9" cy="392.4" r="13.0"/><circle cx="495.8" cy="386.9" r="13.0"/><circle cx="498.7" cy="381.3" r="13.0"/><circle cx="501.6" cy="375.7" r="13.0"/><circle cx="502.7" cy="382.1" r="13.0"/><circle cx="503.9" cy="388.6" r="13.0"/><circle cx="505.0" cy="395.0" r="13.0"/><circle cx="510.0" cy="398.3" r="13.0"/><circle cx="515.0" cy="401.7" r="13.0"/><circle cx="520.0" cy="405.0" r="13.0"/><circle cx="525.0" cy="408.8" r="13.0"/><circle cx="530.0" cy="412.5" r="13.0"/><circle cx="535.0" cy="416.2" r="13.0"/><circle cx="540.0" cy="420.0" r="13.0"/><circle cx="582.6" cy="572.6" r="13.0"/><circle cx="626.3" cy="668.5" r="13.0"/><circle cx="678.5" cy="750.3" r="13.0"/><circle cx="725.0" cy="800.0" r="13.0"/><circle cx="771.6" cy="843.4" r="13.0"/><circle cx="813.9" cy="857.5" r="13.0"/><circle cx="859.0" cy="888.5" r="13.0"/><circle cx="870.3" cy="874.4" r="13.0"/><circle cx="892.9" cy="843.4" r="13.0"/><circle cx="918.3" cy="826.5" r="13.0"/><circle cx="954.9" cy="829.3" r="13.0"/><circle cx="954.9" cy="829.3" r="13.0"/><circle cx="961.6" cy="830.9" r="13.0"/><circle cx="968.3" cy="832.4" r="13.0"/><circle cx="975.0" cy="834.0" r="13.0"/><circle cx="982.3" cy="835.4" r="13.0"/><circle cx="989.7" cy="836.8" r="13.0"/><circle cx="997.0" cy="838.2" r="13.0"/><circle cx="1020.2" cy="904.0" r="13.0"/><circle cx="1051.3" cy="900.2" r="13.0"/><circle cx="1066.8" cy="892.5" r="13.0"/><circle cx="1113.3" cy="921.6" r="13.0"/><circle cx="1163.8" cy="981.7" r="13.0"/><circle cx="1210.3" cy="966.2" r="13.0"/><circle cx="1249.1" cy="975.9" r="13.0"/><circle cx="1249.1" cy="975.9" r="13.0"/><circle cx="1254.9" cy="973.9" r="13.0"/><circle cx="1260.8" cy="971.9" r="13.0"/><circle cx="1266.6" cy="969.9" r="13.0"/><circle cx="1272.5" cy="968.0" r="13.0"/><circle cx="1278.3" cy="966.0" r="13.0"/><circle cx="1284.2" cy="964.0" r="13.0"/><circle cx="1290.0" cy="962.0" r="13.0"/><circle cx="1295.7" cy="959.4" r="13.0"/><circle cx="1301.4" cy="956.9" r="13.0"/><circle cx="1307.1" cy="954.3" r="13.0"/><circle cx="1312.9" cy="951.7" r="13.0"/><circle cx="1318.6" cy="949.1" r="13.0"/><circle cx="1324.3" cy="946.6" r="13.0"/><circle cx="1330.0" cy="944.0" r="13.0"/><circle cx="1335.0" cy="940.3" r="13.0"/><circle cx="1340.0" cy="936.6" r="13.0"/><circle cx="1345.0" cy="932.9" r="13.0"/><circle cx="1350.0" cy="929.1" r="13.0"/><circle cx="1355.0" cy="925.4" r="13.0"/><circle cx="1360.0" cy="921.7" r="13.0"/><circle cx="1365.0" cy="918.0" r="13.0"/><circle cx="1371.0" cy="914.8" r="13.0"/><circle cx="1377.0" cy="911.5" r="13.0"/><circle cx="1383.0" cy="908.2" r="13.0"/><circle cx="1389.0" cy="905.0" r="13.0"/><circle cx="1393.0" cy="901.0" r="13.0"/><circle cx="1397.0" cy="897.0" r="13.0"/><circle cx="1401.0" cy="893.0" r="13.0"/><circle cx="1405.0" cy="889.0" r="13.0"/><circle cx="1409.0" cy="885.0" r="13.0"/><circle cx="1412.4" cy="880.4" r="13.0"/><circle cx="1415.8" cy="875.8" r="13.0"/><circle cx="1419.2" cy="871.2" r="13.0"/><circle cx="1422.6" cy="866.6" r="13.0"/><circle cx="1426.0" cy="862.0" r="13.0"/><circle cx="1429.2" cy="856.8" r="13.0"/><circle cx="1432.4" cy="851.6" r="13.0"/><circle cx="1435.6" cy="846.4" r="13.0"/><circle cx="1438.8" cy="841.2" r="13.0"/><circle cx="1442.0" cy="836.0" r="13.0"/><circle cx="1445.0" cy="830.0" r="13.0"/><circle cx="1448.0" cy="824.0" r="13.0"/><circle cx="1451.0" cy="818.0" r="13.0"/><circle cx="1454.0" cy="812.0" r="13.0"/><circle cx="1457.0" cy="806.0" r="13.0"/><circle cx="1460.0" cy="800.0" r="13.0"/><circle cx="1462.3" cy="794.5" r="13.0"/><circle cx="1464.7" cy="789.0" r="13.0"/><circle cx="1467.0" cy="783.5" r="13.0"/><circle cx="1469.3" cy="778.0" r="13.0"/><circle cx="1471.7" cy="772.5" r="13.0"/><circle cx="1474.0" cy="767.0" r="13.0"/><circle cx="1476.5" cy="761.2" r="13.0"/><circle cx="1479.0" cy="755.3" r="13.0"/><circle cx="1481.5" cy="749.5" r="13.0"/><circle cx="1484.0" cy="743.7" r="13.0"/><circle cx="1486.5" cy="737.8" r="13.0"/><circle cx="1489.0" cy="732.0" r="13.0"/><circle cx="1491.1" cy="726.0" r="13.0"/><circle cx="1493.3" cy="720.0" r="13.0"/><circle cx="1495.4" cy="714.0" r="13.0"/><circle cx="1497.6" cy="708.0" r="13.0"/><circle cx="1499.7" cy="702.0" r="13.0"/><circle cx="1501.9" cy="696.0" r="13.0"/><circle cx="1504.0" cy="690.0" r="13.0"/><circle cx="1506.2" cy="683.9" r="13.0"/><circle cx="1508.5" cy="677.8" r="13.0"/><circle cx="1510.8" cy="671.6" r="13.0"/><circle cx="1513.0" cy="665.5" r="13.0"/><circle cx="1515.2" cy="659.4" r="13.0"/><circle cx="1517.5" cy="653.2" r="13.0"/><circle cx="1519.8" cy="647.1" r="13.0"/><circle cx="1522.0" cy="641.0" r="13.0"/><circle cx="1524.3" cy="635.1" r="13.0"/><circle cx="1526.6" cy="629.3" r="13.0"/><circle cx="1528.9" cy="623.4" r="13.0"/><circle cx="1531.1" cy="617.6" r="13.0"/><circle cx="1533.4" cy="611.7" r="13.0"/><circle cx="1535.7" cy="605.9" r="13.0"/><circle cx="1538.0" cy="600.0" r="13.0"/><circle cx="1540.1" cy="594.1" r="13.0"/><circle cx="1542.2" cy="588.2" r="13.0"/><circle cx="1544.4" cy="582.4" r="13.0"/><circle cx="1546.5" cy="576.5" r="13.0"/><circle cx="1548.6" cy="570.6" r="13.0"/><circle cx="1550.8" cy="564.8" r="13.0"/><circle cx="1552.9" cy="558.9" r="13.0"/><circle cx="1555.0" cy="553.0" r="13.0"/><circle cx="1557.6" cy="547.0" r="13.0"/><circle cx="1560.1" cy="541.0" r="13.0"/><circle cx="1562.7" cy="535.0" r="13.0"/><circle cx="1565.3" cy="529.0" r="13.0"/><circle cx="1567.9" cy="523.0" r="13.0"/><circle cx="1570.4" cy="517.0" r="13.0"/><circle cx="1573.0" cy="511.0" r="13.0"/><circle cx="1575.4" cy="504.8" r="13.0"/><circle cx="1577.8" cy="498.6" r="13.0"/><circle cx="1580.2" cy="492.4" r="13.0"/><circle cx="1582.6" cy="486.2" r="13.0"/><circle cx="1585.0" cy="480.0" r="13.0"/><circle cx="1588.4" cy="475.0" r="13.0"/><circle cx="1591.8" cy="470.0" r="13.0"/><circle cx="1595.2" cy="465.0" r="13.0"/><circle cx="1598.6" cy="460.0" r="13.0"/><circle cx="1602.0" cy="455.0" r="13.0"/><circle cx="1605.6" cy="450.4" r="13.0"/><circle cx="1609.2" cy="445.8" r="13.0"/><circle cx="1612.8" cy="441.2" r="13.0"/><circle cx="1616.4" cy="436.6" r="13.0"/><circle cx="1620.0" cy="432.0" r="13.0"/><circle cx="1624.5" cy="427.0" r="13.0"/><circle cx="1629.0" cy="422.0" r="13.0"/><circle cx="1633.5" cy="417.0" r="13.0"/><circle cx="1638.0" cy="412.0" r="13.0"/><circle cx="1642.2" cy="408.2" r="13.0"/><circle cx="1646.5" cy="404.5" r="13.0"/><circle cx="1650.8" cy="400.8" r="13.0"/><circle cx="1655.0" cy="397.0" r="13.0"/><circle cx="1660.7" cy="394.0" r="13.0"/><circle cx="1666.3" cy="391.0" r="13.0"/><circle cx="1672.0" cy="388.0" r="13.0"/><circle cx="1678.0" cy="387.0" r="13.0"/><circle cx="1684.0" cy="386.0" r="13.0"/><circle cx="1690.0" cy="385.0" r="13.0"/><circle cx="1695.3" cy="386.0" r="13.0"/><circle cx="1700.7" cy="387.0" r="13.0"/><circle cx="1706.0" cy="388.0" r="13.0"/><circle cx="1710.7" cy="391.3" r="13.0"/><circle cx="1715.3" cy="394.7" r="13.0"/><circle cx="1720.0" cy="398.0" r="13.0"/><circle cx="1723.2" cy="403.0" r="13.0"/><circle cx="1726.5" cy="408.0" r="13.0"/><circle cx="1729.8" cy="413.0" r="13.0"/><circle cx="1733.0" cy="418.0" r="13.0"/><circle cx="1735.8" cy="424.0" r="13.0"/><circle cx="1738.5" cy="430.0" r="13.0"/><circle cx="1741.2" cy="436.0" r="13.0"/><circle cx="1744.0" cy="442.0" r="13.0"/><circle cx="1746.5" cy="448.5" r="13.0"/><circle cx="1749.0" cy="455.0" r="13.0"/><circle cx="1751.5" cy="461.5" r="13.0"/><circle cx="1754.0" cy="468.0" r="13.0"/><circle cx="1756.0" cy="473.8" r="13.0"/><circle cx="1758.0" cy="479.6" r="13.0"/><circle cx="1760.0" cy="485.4" r="13.0"/><circle cx="1762.0" cy="491.2" r="13.0"/><circle cx="1764.0" cy="497.0" r="13.0"/><circle cx="1766.2" cy="502.8" r="13.0"/><circle cx="1768.4" cy="508.6" r="13.0"/><circle cx="1770.6" cy="514.4" r="13.0"/><circle cx="1772.8" cy="520.2" r="13.0"/><circle cx="1775.0" cy="526.0" r="13.0"/><circle cx="1777.4" cy="531.6" r="13.0"/><circle cx="1779.8" cy="537.2" r="13.0"/><circle cx="1782.2" cy="542.8" r="13.0"/><circle cx="1784.6" cy="548.4" r="13.0"/><circle cx="1787.0" cy="554.0" r="13.0"/><circle cx="1790.2" cy="560.0" r="13.0"/><circle cx="1793.5" cy="566.0" r="13.0"/><circle cx="1796.8" cy="572.0" r="13.0"/><circle cx="1800.0" cy="578.0" r="13.0"/><circle cx="1803.8" cy="583.5" r="13.0"/><circle cx="1807.5" cy="589.0" r="13.0"/><circle cx="1811.2" cy="594.5" r="13.0"/><circle cx="1815.0" cy="600.0" r="13.0"/><circle cx="1818.8" cy="605.0" r="13.0"/><circle cx="1822.5" cy="610.0" r="13.0"/><circle cx="1826.2" cy="615.0" r="13.0"/><circle cx="1830.0" cy="620.0" r="13.0"/><circle cx="1833.0" cy="625.0" r="13.0"/><circle cx="1836.0" cy="630.0" r="13.0"/><circle cx="1839.0" cy="635.0" r="13.0"/><circle cx="1842.0" cy="640.0" r="13.0"/><circle cx="1845.0" cy="645.0" r="13.0"/><circle cx="1860.6" cy="724.6" r="13.0"/><circle cx="1912.8" cy="743.7" r="13.0"/><circle cx="1872.6" cy="847.3" r="13.0"/><circle cx="1873.3" cy="901.0" r="13.0"/><circle cx="1884.6" cy="936.2" r="13.0"/><circle cx="1898.7" cy="943.2" r="13.0"/><circle cx="1922.7" cy="908.0" r="13.0"/><circle cx="1927.0" cy="957.4" r="13.0"/><circle cx="1955.1" cy="965.8" r="13.0"/><circle cx="1975.0" cy="968.0" r="13.0"/></g>
<polyline points="414.9,157.5 414.9,175.0 414.9,193.5 420.0,205.0 426.0,221.0 429.9,267.4 440.0,320.4 453.0,339.6 463.2,356.5 471.1,389.3 474.5,394.9 485.0,410.0 495.9,423.1 512.8,434.4 529.8,445.7 546.7,462.6 558.0,473.9 567.0,479.5 591.0,530.3 613.6,578.2 636.2,631.8 653.0,654.4 672.8,688.2 692.6,716.4 715.2,744.7 734.9,787.0 743.4,812.4 763.1,809.5 743.4,812.4 750.0,840.0 767.3,891.3 782.8,933.7 799.8,967.5 822.3,981.6 842.1,967.5 859.0,944.9 873.1,919.6 887.2,885.7 901.3,854.7 915.0,838.0 926.7,829.3 938.8,845.0 962.0,842.0 993.0,860.0 1024.0,853.7 1055.2,865.0 1080.4,865.3 1101.7,892.5 1121.0,896.4 1090.0,927.4 1142.4,919.6 1121.0,948.7 1121.0,948.7 1152.1,958.4 1179.3,974.0 1206.4,970.0 1229.7,981.7 1256.9,985.6 1287.9,977.8 1326.7,970.0 1365.5,946.8 1404.3,919.6 1443.0,880.9 1452.0,853.0 1470.0,817.0 1484.0,783.0 1499.0,748.0 1514.0,706.0 1532.0,656.0 1548.0,616.0 1565.0,568.0 1583.0,526.0 1597.0,489.0 1613.0,452.0 1630.0,413.0 1648.0,374.0 1666.0,346.0 1697.0,314.0 1729.0,300.0 1760.0,325.0 1778.0,360.0 1792.0,395.0 1803.0,434.0 1815.0,471.0 1826.0,505.0 1833.7,517.4 1844.3,559.7 1861.9,603.8 1874.3,651.4 1879.0,670.0 1881.8,751.4 1923.4,844.5 1898.7,878.4 1921.3,936.2 1950.0,950.0 1973.5,961.6" fill="none" stroke="#008000" stroke-width="4" stroke-linejoin="round" stroke-linecap="round"/>
<g fill="#008000"><circle cx="414.9" cy="157.5" r="13.0"/><circle cx="414.9" cy="163.3" r="13.0"/><circle cx="414.9" cy="169.2" r="13.0"/><circle cx="414.9" cy="175.0" r="13.0"/><circle cx="414.9" cy="181.2" r="13.0"/><circle cx="414.9" cy="187.3" r="13.0"/><circle cx="414.9" cy="193.5" r="13.0"/><circle cx="417.4" cy="199.2" r="13.0"/><circle cx="420.0" cy="205.0" r="13.0"/><circle cx="422.0" cy="210.3" r="13.0"/><circle cx="424.0" cy="215.7" r="13.0"/><circle cx="426.0" cy="221.0" r="13.0"/><circle cx="429.9" cy="267.4" r="13.0"/><circle cx="440.0" cy="320.4" r="13.0"/><circle cx="453.0" cy="339.6" r="13.0"/><circle cx="463.2" cy="356.5" r="13.0"/><circle cx="471.1" cy="389.3" r="13.0"/><circle cx="474.5" cy="394.9" r="13.0"/><circle cx="478.0" cy="399.9" r="13.0"/><circle cx="481.5" cy="405.0" r="13.0"/><circle cx="485.0" cy="410.0" r="13.0"/><circle cx="488.6" cy="414.4" r="13.0"/><circle cx="492.3" cy="418.7" r="13.0"/><circle cx="495.9" cy="423.1" r="13.0"/><circle cx="501.5" cy="426.9" r="13.0"/><circle cx="507.2" cy="430.6" r="13.0"/><circle cx="512.8" cy="434.4" r="13.0"/><circle cx="518.5" cy="438.2" r="13.0"/><circle cx="524.1" cy="441.9" r="13.0"/><circle cx="529.8" cy="445.7" r="13.0"/><circle cx="535.4" cy="451.3" r="13.0"/><circle cx="541.1" cy="457.0" r="13.0"/><circle cx="546.7" cy="462.6" r="13.0"/><circle cx="552.4" cy="468.2" r="13.0"/><circle cx="558.0" cy="473.9" r="13.0"/><circle cx="562.5" cy="476.7" r="13.0"/><circle cx="567.0" cy="479.5" r="13.0"/><circle cx="570.0" cy="485.9" r="13.0"/><circle cx="573.0" cy="492.2" r="13.0"/><circle cx="576.0" cy="498.5" r="13.0"/><circle cx="579.0" cy="504.9" r="13.0"/><circle cx="582.0" cy="511.2" r="13.0"/><circle cx="585.0" cy="517.6" r="13.0"/><circle cx="588.0" cy="523.9" r="13.0"/><circle cx="591.0" cy="530.3" r="13.0"/><circle cx="594.2" cy="537.1" r="13.0"/><circle cx="597.5" cy="544.0" r="13.0"/><circle cx="600.7" cy="550.8" r="13.0"/><circle cx="603.9" cy="557.7" r="13.0"/><circle cx="607.1" cy="564.5" r="13.0"/><circle cx="610.4" cy="571.4" r="13.0"/><circle cx="613.6" cy="578.2" r="13.0"/><circle cx="616.4" cy="584.9" r="13.0"/><circle cx="619.2" cy="591.6" r="13.0"/><circle cx="622.1" cy="598.3" r="13.0"/><circle cx="624.9" cy="605.0" r="13.0"/><circle cx="627.7" cy="611.7" r="13.0"/><circle cx="630.6" cy="618.4" r="13.0"/><circle cx="633.4" cy="625.1" r="13.0"/><circle cx="636.2" cy="631.8" r="13.0"/><circle cx="640.4" cy="637.4" r="13.0"/><circle cx="644.6" cy="643.1" r="13.0"/><circle cx="648.8" cy="648.8" r="13.0"/><circle cx="653.0" cy="654.4" r="13.0"/><circle cx="657.0" cy="661.2" r="13.0"/><circle cx="660.9" cy="667.9" r="13.0"/><circle cx="664.9" cy="674.7" r="13.0"/><circle cx="668.8" cy="681.4" r="13.0"/><circle cx="672.8" cy="688.2" r="13.0"/><circle cx="676.8" cy="693.8" r="13.0"/><circle cx="680.7" cy="699.5" r="13.0"/><circle cx="684.7" cy="705.1" r="13.0"/><circle cx="688.6" cy="710.8" r="13.0"/><circle cx="692.6" cy="716.4" r="13.0"/><circle cx="697.1" cy="722.1" r="13.0"/><circle cx="701.6" cy="727.7" r="13.0"/><circle cx="706.2" cy="733.4" r="13.0"/><circle cx="710.7" cy="739.0" r="13.0"/><circle cx="715.2" cy="744.7" r="13.0"/><circle cx="718.5" cy="751.8" r="13.0"/><circle cx="721.8" cy="758.8" r="13.0"/><circle cx="725.0" cy="765.9" r="13.0"/><circle cx="728.3" cy="772.9" r="13.0"/><circle cx="731.6" cy="780.0" r="13.0"/><circle cx="734.9" cy="787.0" r="13.0"/><circle cx="737.0" cy="793.4" r="13.0"/><circle cx="739.1" cy="799.7" r="13.0"/><circle cx="741.3" cy="806.0" r="13.0"/><circle cx="743.4" cy="812.4" r="13.0"/><circle cx="763.1" cy="809.5" r="13.0"/><circle cx="743.4" cy="812.4" r="13.0"/><circle cx="745.0" cy="819.3" r="13.0"/><circle cx="746.7" cy="826.2" r="13.0"/><circle cx="748.4" cy="833.1" r="13.0"/><circle cx="750.0" cy="840.0" r="13.0"/><circle cx="752.5" cy="847.3" r="13.0"/><circle cx="754.9" cy="854.7" r="13.0"/><circle cx="757.4" cy="862.0" r="13.0"/><circle cx="759.9" cy="869.3" r="13.0"/><circle cx="762.4" cy="876.6" r="13.0"/><circle cx="764.8" cy="884.0" r="13.0"/><circle cx="767.3" cy="891.3" r="13.0"/><circle cx="769.9" cy="898.4" r="13.0"/><circle cx="772.5" cy="905.4" r="13.0"/><circle cx="775.0" cy="912.5" r="13.0"/><circle cx="777.6" cy="919.6" r="13.0"/><circle cx="780.2" cy="926.6" r="13.0"/><circle cx="782.8" cy="933.7" r="13.0"/><circle cx="786.2" cy="940.5" r="13.0"/><circle cx="789.6" cy="947.2" r="13.0"/><circle cx="793.0" cy="954.0" r="13.0"/><circle cx="796.4" cy="960.7" r="13.0"/><circle cx="799.8" cy="967.5" r="13.0"/><circle cx="805.4" cy="971.0" r="13.0"/><circle cx="811.0" cy="974.5" r="13.0"/><circle cx="816.7" cy="978.1" r="13.0"/><circle cx="822.3" cy="981.6" r="13.0"/><circle cx="827.2" cy="978.1" r="13.0"/><circle cx="832.2" cy="974.5" r="13.0"/><circle cx="837.1" cy="971.0" r="13.0"/><circle cx="842.1" cy="967.5" r="13.0"/><circle cx="846.3" cy="961.9" r="13.0"/><circle cx="850.5" cy="956.2" r="13.0"/><circle cx="854.8" cy="950.5" r="13.0"/><circle cx="859.0" cy="944.9" r="13.0"/><circle cx="862.5" cy="938.6" r="13.0"/><circle cx="866.0" cy="932.2" r="13.0"/><circle cx="869.6" cy="925.9" r="13.0"/><circle cx="873.1" cy="919.6" r="13.0"/><circle cx="875.9" cy="912.8" r="13.0"/><circle cx="878.7" cy="906.0" r="13.0"/><circle cx="881.6" cy="899.3" r="13.0"/><circle cx="884.4" cy="892.5" r="13.0"/><circle cx="887.2" cy="885.7" r="13.0"/><circle cx="890.0" cy="879.5" r="13.0"/><circle cx="892.8" cy="873.3" r="13.0"/><circle cx="895.7" cy="867.1" r="13.0"/><circle cx="898.5" cy="860.9" r="13.0"/><circle cx="901.3" cy="854.7" r="13.0"/><circle cx="905.9" cy="849.1" r="13.0"/><circle cx="910.4" cy="843.6" r="13.0"/><circle cx="915.0" cy="838.0" r="13.0"/><circle cx="920.9" cy="833.6" r="13.0"/><circle cx="926.7" cy="829.3" r="13.0"/><circle cx="930.7" cy="834.5" r="13.0"/><circle cx="934.8" cy="839.8" r="13.0"/><circle cx="938.8" cy="845.0" r="13.0"/><circle cx="946.5" cy="844.0" r="13.0"/><circle cx="954.3" cy="843.0" r="13.0"/><circle cx="962.0" cy="842.0" r="13.0"/><circle cx="968.2" cy="845.6" r="13.0"/><circle cx="974.4" cy="849.2" r="13.0"/><circle cx="980.6" cy="852.8" r="13.0"/><circle cx="986.8" cy="856.4" r="13.0"/><circle cx="993.0" cy="860.0" r="13.0"/><circle cx="1000.8" cy="858.4" r="13.0"/><circle cx="1008.5" cy="856.9" r="13.0"/><circle cx="1016.2" cy="855.3" r="13.0"/><circle cx="1024.0" cy="853.7" r="13.0"/><circle cx="1030.2" cy="856.0" r="13.0"/><circle cx="1036.5" cy="858.2" r="13.0"/><circle cx="1042.7" cy="860.5" r="13.0"/><circle cx="1049.0" cy="862.7" r="13.0"/><circle cx="1055.2" cy="865.0" r="13.0"/><circle cx="1061.5" cy="865.1" r="13.0"/><circle cx="1067.8" cy="865.1" r="13.0"/><circle cx="1074.1" cy="865.2" r="13.0"/><circle cx="1080.4" cy="865.3" r="13.0"/><circle cx="1084.7" cy="870.7" r="13.0"/><circle cx="1088.9" cy="876.2" r="13.0"/><circle cx="1093.2" cy="881.6" r="13.0"/><circle cx="1097.4" cy="887.1" r="13.0"/><circle cx="1101.7" cy="892.5" r="13.0"/><circle cx="1108.1" cy="893.8" r="13.0"/><circle cx="1114.6" cy="895.1" r="13.0"/><circle cx="1121.0" cy="896.4" r="13.0"/><circle cx="1090.0" cy="927.4" r="13.0"/><circle cx="1142.4" cy="919.6" r="13.0"/><circle cx="1121.0" cy="948.7" r="13.0"/><circle cx="1121.0" cy="948.7" r="13.0"/><circle cx="1127.2" cy="950.6" r="13.0"/><circle cx="1133.4" cy="952.6" r="13.0"/><circle cx="1139.7" cy="954.5" r="13.0"/><circle cx="1145.9" cy="956.5" r="13.0"/><circle cx="1152.1" cy="958.4" r="13.0"/><circle cx="1158.9" cy="962.3" r="13.0"/><circle cx="1165.7" cy="966.2" r="13.0"/><circle cx="1172.5" cy="970.1" r="13.0"/><circle cx="1179.3" cy="974.0" r="13.0"/><circle cx="1186.1" cy="973.0" r="13.0"/><circle cx="1192.8" cy="972.0" r="13.0"/><circle cx="1199.6" cy="971.0" r="13.0"/><circle cx="1206.4" cy="970.0" r="13.0"/><circle cx="1212.2" cy="972.9" r="13.0"/><circle cx="1218.1" cy="975.9" r="13.0"/><circle cx="1223.9" cy="978.8" r="13.0"/><circle cx="1229.7" cy="981.7" r="13.0"/><circle cx="1236.5" cy="982.7" r="13.0"/><circle cx="1243.3" cy="983.7" r="13.0"/><circle cx="1250.1" cy="984.6" r="13.0"/><circle cx="1256.9" cy="985.6" r="13.0"/><circle cx="1264.7" cy="983.6" r="13.0"/><circle cx="1272.4" cy="981.7" r="13.0"/><circle cx="1280.2" cy="979.8" r="13.0"/><circle cx="1287.9" cy="977.8" r="13.0"/><circle cx="1295.7" cy="976.2" r="13.0"/><circle cx="1303.4" cy="974.7" r="13.0"/><circle cx="1311.2" cy="973.1" r="13.0"/><circle cx="1318.9" cy="971.6" r="13.0"/><circle cx="1326.7" cy="970.0" r="13.0"/><circle cx="1333.2" cy="966.1" r="13.0"/><circle cx="1339.6" cy="962.3" r="13.0"/><circle cx="1346.1" cy="958.4" r="13.0"/><circle cx="1352.6" cy="954.5" r="13.0"/><circle cx="1359.0" cy="950.7" r="13.0"/><circle cx="1365.5" cy="946.8" r="13.0"/><circle cx="1372.0" cy="942.3" r="13.0"/><circle cx="1378.4" cy="937.7" r="13.0"/><circle cx="1384.9" cy="933.2" r="13.0"/><circle cx="1391.4" cy="928.7" r="13.0"/><circle cx="1397.8" cy="924.1" r="13.0"/><circle cx="1404.3" cy="919.6" r="13.0"/><circle cx="1409.8" cy="914.1" r="13.0"/><circle cx="1415.4" cy="908.5" r="13.0"/><circle cx="1420.9" cy="903.0" r="13.0"/><circle cx="1426.4" cy="897.5" r="13.0"/><circle cx="1431.9" cy="892.0" r="13.0"/><circle cx="1437.5" cy="886.4" r="13.0"/><circle cx="1443.0" cy="880.9" r="13.0"/><circle cx="1445.2" cy="873.9" r="13.0"/><circle cx="1447.5" cy="867.0" r="13.0"/><circle cx="1449.8" cy="860.0" r="13.0"/><circle cx="1452.0" cy="853.0" r="13.0"/><circle cx="1455.0" cy="847.0" r="13.0"/><circle cx="1458.0" cy="841.0" r="13.0"/><circle cx="1461.0" cy="835.0" r="13.0"/><circle cx="1464.0" cy="829.0" r="13.0"/><circle cx="1467.0" cy="823.0" r="13.0"/><circle cx="1470.0" cy="817.0" r="13.0"/><circle cx="1472.8" cy="810.2" r="13.0"/><circle cx="1475.6" cy="803.4" r="13.0"/><circle cx="1478.4" cy="796.6" r="13.0"/><circle cx="1481.2" cy="789.8" r="13.0"/><circle cx="1484.0" cy="783.0" r="13.0"/><circle cx="1487.0" cy="776.0" r="13.0"/><circle cx="1490.0" cy="769.0" r="13.0"/><circle cx="1493.0" cy="762.0" r="13.0"/><circle cx="1496.0" cy="755.0" r="13.0"/><circle cx="1499.0" cy="748.0" r="13.0"/><circle cx="1501.5" cy="741.0" r="13.0"/><circle cx="1504.0" cy="734.0" r="13.0"/><circle cx="1506.5" cy="727.0" r="13.0"/><circle cx="1509.0" cy="720.0" r="13.0"/><circle cx="1511.5" cy="713.0" r="13.0"/><circle cx="1514.0" cy="706.0" r="13.0"/><circle cx="1516.6" cy="698.9" r="13.0"/><circle cx="1519.1" cy="691.7" r="13.0"/><circle cx="1521.7" cy="684.6" r="13.0"/><circle cx="1524.3" cy="677.4" r="13.0"/><circle cx="1526.9" cy="670.3" r="13.0"/><circle cx="1529.4" cy="663.1" r="13.0"/><circle cx="1532.0" cy="656.0" r="13.0"/><circle cx="1534.7" cy="649.3" r="13.0"/><circle cx="1537.3" cy="642.7" r="13.0"/><circle cx="1540.0" cy="636.0" r="13.0"/><circle cx="1542.7" cy="629.3" r="13.0"/><circle cx="1545.3" cy="622.7" r="13.0"/><circle cx="1548.0" cy="616.0" r="13.0"/><circle cx="1550.4" cy="609.1" r="13.0"/><circle cx="1552.9" cy="602.3" r="13.0"/><circle cx="1555.3" cy="595.4" r="13.0"/><circle cx="1557.7" cy="588.6" r="13.0"/><circle cx="1560.1" cy="581.7" r="13.0"/><circle cx="1562.6" cy="574.9" r="13.0"/><circle cx="1565.0" cy="568.0" r="13.0"/><circle cx="1568.0" cy="561.0" r="13.0"/><circle cx="1571.0" cy="554.0" r="13.0"/><circle cx="1574.0" cy="547.0" r="13.0"/><circle cx="1577.0" cy="540.0" r="13.0"/><circle cx="1580.0" cy="533.0" r="13.0"/><circle cx="1583.0" cy="526.0" r="13.0"/><circle cx="1585.8" cy="518.6" r="13.0"/><circle cx="1588.6" cy="511.2" r="13.0"/><circle cx="1591.4" cy="503.8" r="13.0"/><circle cx="1594.2" cy="496.4" r="13.0"/><circle cx="1597.0" cy="489.0" r="13.0"/><circle cx="1599.7" cy="482.8" r="13.0"/><circle cx="1602.3" cy="476.7" r="13.0"/><circle cx="1605.0" cy="470.5" r="13.0"/><circle cx="1607.7" cy="464.3" r="13.0"/><circle cx="1610.3" cy="458.2" r="13.0"/><circle cx="1613.0" cy="452.0" r="13.0"/><circle cx="1615.8" cy="445.5" r="13.0"/><circle cx="1618.7" cy="439.0" r="13.0"/><circle cx="1621.5" cy="432.5" r="13.0"/><circle cx="1624.3" cy="426.0" r="13.0"/><circle cx="1627.2" cy="419.5" r="13.0"/><circle cx="1630.0" cy="413.0" r="13.0"/><circle cx="1633.0" cy="406.5" r="13.0"/><circle cx="1636.0" cy="400.0" r="13.0"/><circle cx="1639.0" cy="393.5" r="13.0"/><circle cx="1642.0" cy="387.0" r="13.0"/><circle cx="1645.0" cy="380.5" r="13.0"/><circle cx="1648.0" cy="374.0" r="13.0"/><circle cx="1651.6" cy="368.4" r="13.0"/><circle cx="1655.2" cy="362.8" r="13.0"/><circle cx="1658.8" cy="357.2" r="13.0"/><circle cx="1662.4" cy="351.6" r="13.0"/><circle cx="1666.0" cy="346.0" r="13.0"/><circle cx="1671.2" cy="340.7" r="13.0"/><circle cx="1676.3" cy="335.3" r="13.0"/><circle cx="1681.5" cy="330.0" r="13.0"/><circle cx="1686.7" cy="324.7" r="13.0"/><circle cx="1691.8" cy="319.3" r="13.0"/><circle cx="1697.0" cy="314.0" r="13.0"/><circle cx="1703.4" cy="311.2" r="13.0"/><circle cx="1709.8" cy="308.4" r="13.0"/><circle cx="1716.2" cy="305.6" r="13.0"/><circle cx="1722.6" cy="302.8" r="13.0"/><circle cx="1729.0" cy="300.0" r="13.0"/><circle cx="1735.2" cy="305.0" r="13.0"/><circle cx="1741.4" cy="310.0" r="13.0"/><circle cx="1747.6" cy="315.0" r="13.0"/><circle cx="1753.8" cy="320.0" r="13.0"/><circle cx="1760.0" cy="325.0" r="13.0"/><circle cx="1763.6" cy="332.0" r="13.0"/><circle cx="1767.2" cy="339.0" r="13.0"/><circle cx="1770.8" cy="346.0" r="13.0"/><circle cx="1774.4" cy="353.0" r="13.0"/><circle cx="1778.0" cy="360.0" r="13.0"/><circle cx="1780.8" cy="367.0" r="13.0"/><circle cx="1783.6" cy="374.0" r="13.0"/><circle cx="1786.4" cy="381.0" r="13.0"/><circle cx="1789.2" cy="388.0" r="13.0"/><circle cx="1792.0" cy="395.0" r="13.0"/><circle cx="1793.8" cy="401.5" r="13.0"/><circle cx="1795.7" cy="408.0" r="13.0"/><circle cx="1797.5" cy="414.5" r="13.0"/><circle cx="1799.3" cy="421.0" r="13.0"/><circle cx="1801.2" cy="427.5" r="13.0"/><circle cx="1803.0" cy="434.0" r="13.0"/><circle cx="1805.4" cy="441.4" r="13.0"/><circle cx="1807.8" cy="448.8" r="13.0"/><circle cx="1810.2" cy="456.2" r="13.0"/><circle cx="1812.6" cy="463.6" r="13.0"/><circle cx="1815.0" cy="471.0" r="13.0"/><circle cx="1817.2" cy="477.8" r="13.0"/><circle cx="1819.4" cy="484.6" r="13.0"/><circle cx="1821.6" cy="491.4" r="13.0"/><circle cx="1823.8" cy="498.2" r="13.0"/><circle cx="1826.0" cy="505.0" r="13.0"/><circle cx="1829.8" cy="511.2" r="13.0"/><circle cx="1833.7" cy="517.4" r="13.0"/><circle cx="1835.5" cy="524.5" r="13.0"/><circle cx="1837.2" cy="531.5" r="13.0"/><circle cx="1839.0" cy="538.5" r="13.0"/><circle cx="1840.8" cy="545.6" r="13.0"/><circle cx="1842.5" cy="552.7" r="13.0"/><circle cx="1844.3" cy="559.7" r="13.0"/><circle cx="1847.2" cy="567.1" r="13.0"/><circle cx="1850.2" cy="574.4" r="13.0"/><circle cx="1853.1" cy="581.8" r="13.0"/><circle cx="1856.0" cy="589.1" r="13.0"/><circle cx="1859.0" cy="596.4" r="13.0"/><circle cx="1861.9" cy="603.8" r="13.0"/><circle cx="1863.7" cy="610.6" r="13.0"/><circle cx="1865.4" cy="617.4" r="13.0"/><circle cx="1867.2" cy="624.2" r="13.0"/><circle cx="1869.0" cy="631.0" r="13.0"/><circle cx="1870.8" cy="637.8" r="13.0"/><circle cx="1872.5" cy="644.6" r="13.0"/><circle cx="1874.3" cy="651.4" r="13.0"/><circle cx="1875.9" cy="657.6" r="13.0"/><circle cx="1877.4" cy="663.8" r="13.0"/><circle cx="1879.0" cy="670.0" r="13.0"/><circle cx="1881.8" cy="751.4" r="13.0"/><circle cx="1923.4" cy="844.5" r="13.0"/><circle cx="1898.7" cy="878.4" r="13.0"/><circle cx="1921.3" cy="936.2" r="13.0"/><circle cx="1950.0" cy="950.0" r="13.0"/><circle cx="1973.5" cy="961.6" r="13.0"/></g>
<polyline points="432.5,253.8 457.0,352.0 492.0,396.0 521.3,410.7 545.6,429.3 558.0,457.0 567.0,454.1 584.0,502.0 599.5,558.5 613.6,609.3 627.1,645.0 639.0,677.0 648.9,705.2 709.5,775.7 716.6,792.6 723.6,808.1 767.3,888.5 774.4,916.7 822.3,1000.0 894.3,1007.0 901.3,1012.6 957.7,1014.0 1024.1,1010.8 1070.7,1008.9 1111.4,1008.9 1154.1,1008.9 1200.6,1005.0 1234.4,1003.0 1278.2,995.3 1305.3,987.5 1326.7,977.8 1351.9,964.3 1373.2,946.8 1394.6,925.5 1414.0,900.2 1431.4,875.0 1431.4,875.0 1446.9,847.9 1465.2,811.8 1479.3,778.3 1494.5,743.0 1509.3,700.8 1527.0,651.4 1542.8,610.8 1560.4,563.2 1578.0,521.0 1592.2,483.9 1608.0,446.9 1625.7,408.1 1643.3,369.3 1661.0,341.1 1692.7,309.4 1724.4,295.3 1752.6,320.0 1770.2,355.2 1784.3,390.5 1794.9,429.3 1807.3,466.3 1817.8,499.8 1826.7,535.0 1839.0,577.4 1849.6,612.6 1861.9,647.9 1866.0,668.0 1871.0,700.0 1876.2,719.0 1877.6,734.5 1891.7,882.6 1895.0,897.0 1901.6,910.0 1898.7,922.0 1908.0,918.0 1916.0,900.0 1924.1,862.8 1928.3,877.0 1941.0,950.3 1955.0,955.0 1966.4,958.8 1991.8,957.4" fill="none" stroke="#ff0000" stroke-width="4" stroke-linejoin="round" stroke-linecap="round"/>
<g fill="#ff0000"><circle cx="432.5" cy="253.8" r="13.0"/><circle cx="457.0" cy="352.0" r="13.0"/><circle cx="492.0" cy="396.0" r="13.0"/><circle cx="521.3" cy="410.7" r="13.0"/><circle cx="545.6" cy="429.3" r="13.0"/><circle cx="558.0" cy="457.0" r="13.0"/><circle cx="567.0" cy="454.1" r="13.0"/><circle cx="584.0" cy="502.0" r="13.0"/><circle cx="599.5" cy="558.5" r="13.0"/><circle cx="613.6" cy="609.3" r="13.0"/><circle cx="627.1" cy="645.0" r="13.0"/><circle cx="639.0" cy="677.0" r="13.0"/><circle cx="648.9" cy="705.2" r="13.0"/><circle cx="709.5" cy="775.7" r="13.0"/><circle cx="716.6" cy="792.6" r="13.0"/><circle cx="723.6" cy="808.1" r="13.0"/><circle cx="767.3" cy="888.5" r="13.0"/><circle cx="774.4" cy="916.7" r="13.0"/><circle cx="822.3" cy="1000.0" r="13.0"/><circle cx="894.3" cy="1007.0" r="13.0"/><circle cx="901.3" cy="1012.6" r="13.0"/><circle cx="957.7" cy="1014.0" r="13.0"/><circle cx="1024.1" cy="1010.8" r="13.0"/><circle cx="1070.7" cy="1008.9" r="13.0"/><circle cx="1111.4" cy="1008.9" r="13.0"/><circle cx="1154.1" cy="1008.9" r="13.0"/><circle cx="1200.6" cy="1005.0" r="13.0"/><circle cx="1234.4" cy="1003.0" r="13.0"/><circle cx="1278.2" cy="995.3" r="13.0"/><circle cx="1305.3" cy="987.5" r="13.0"/><circle cx="1326.7" cy="977.8" r="13.0"/><circle cx="1351.9" cy="964.3" r="13.0"/><circle cx="1373.2" cy="946.8" r="13.0"/><circle cx="1394.6" cy="925.5" r="13.0"/><circle cx="1414.0" cy="900.2" r="13.0"/><circle cx="1431.4" cy="875.0" r="13.0"/><circle cx="1431.4" cy="875.0" r="13.0"/><circle cx="1439.2" cy="861.5" r="13.0"/><circle cx="1446.9" cy="847.9" r="13.0"/><circle cx="1453.0" cy="835.9" r="13.0"/><circle cx="1459.1" cy="823.8" r="13.0"/><circle cx="1465.2" cy="811.8" r="13.0"/><circle cx="1472.2" cy="795.0" r="13.0"/><circle cx="1479.3" cy="778.3" r="13.0"/><circle cx="1486.9" cy="760.6" r="13.0"/><circle cx="1494.5" cy="743.0" r="13.0"/><circle cx="1499.4" cy="728.9" r="13.0"/><circle cx="1504.4" cy="714.9" r="13.0"/><circle cx="1509.3" cy="700.8" r="13.0"/><circle cx="1515.2" cy="684.3" r="13.0"/><circle cx="1521.1" cy="667.9" r="13.0"/><circle cx="1527.0" cy="651.4" r="13.0"/><circle cx="1532.3" cy="637.9" r="13.0"/><circle cx="1537.5" cy="624.3" r="13.0"/><circle cx="1542.8" cy="610.8" r="13.0"/><circle cx="1548.7" cy="594.9" r="13.0"/><circle cx="1554.5" cy="579.1" r="13.0"/><circle cx="1560.4" cy="563.2" r="13.0"/><circle cx="1566.3" cy="549.1" r="13.0"/><circle cx="1572.1" cy="535.1" r="13.0"/><circle cx="1578.0" cy="521.0" r="13.0"/><circle cx="1585.1" cy="502.4" r="13.0"/><circle cx="1592.2" cy="483.9" r="13.0"/><circle cx="1597.5" cy="471.6" r="13.0"/><circle cx="1602.7" cy="459.2" r="13.0"/><circle cx="1608.0" cy="446.9" r="13.0"/><circle cx="1613.9" cy="434.0" r="13.0"/><circle cx="1619.8" cy="421.0" r="13.0"/><circle cx="1625.7" cy="408.1" r="13.0"/><circle cx="1631.6" cy="395.2" r="13.0"/><circle cx="1637.4" cy="382.2" r="13.0"/><circle cx="1643.3" cy="369.3" r="13.0"/><circle cx="1652.2" cy="355.2" r="13.0"/><circle cx="1661.0" cy="341.1" r="13.0"/><circle cx="1671.6" cy="330.5" r="13.0"/><circle cx="1682.1" cy="320.0" r="13.0"/><circle cx="1692.7" cy="309.4" r="13.0"/><circle cx="1708.6" cy="302.4" r="13.0"/><circle cx="1724.4" cy="295.3" r="13.0"/><circle cx="1738.5" cy="307.6" r="13.0"/><circle cx="1752.6" cy="320.0" r="13.0"/><circle cx="1761.4" cy="337.6" r="13.0"/><circle cx="1770.2" cy="355.2" r="13.0"/><circle cx="1777.2" cy="372.9" r="13.0"/><circle cx="1784.3" cy="390.5" r="13.0"/><circle cx="1787.8" cy="403.4" r="13.0"/><circle cx="1791.4" cy="416.4" r="13.0"/><circle cx="1794.9" cy="429.3" r="13.0"/><circle cx="1801.1" cy="447.8" r="13.0"/><circle cx="1807.3" cy="466.3" r="13.0"/><circle cx="1812.5" cy="483.1" r="13.0"/><circle cx="1817.8" cy="499.8" r="13.0"/><circle cx="1822.2" cy="517.4" r="13.0"/><circle cx="1826.7" cy="535.0" r="13.0"/><circle cx="1830.8" cy="549.1" r="13.0"/><circle cx="1834.9" cy="563.3" r="13.0"/><circle cx="1839.0" cy="577.4" r="13.0"/><circle cx="1844.3" cy="595.0" r="13.0"/><circle cx="1849.6" cy="612.6" r="13.0"/><circle cx="1855.8" cy="630.2" r="13.0"/><circle cx="1861.9" cy="647.9" r="13.0"/><circle cx="1864.0" cy="658.0" r="13.0"/><circle cx="1866.0" cy="668.0" r="13.0"/><circle cx="1871.0" cy="700.0" r="13.0"/><circle cx="1876.2" cy="719.0" r="13.0"/><circle cx="1877.6" cy="734.5" r="13.0"/><circle cx="1891.7" cy="882.6" r="13.0"/><circle cx="1895.0" cy="897.0" r="13.0"/><circle cx="1901.6" cy="910.0" r="13.0"/><circle cx="1898.7" cy="922.0" r="13.0"/><circle cx="1908.0" cy="918.0" r="13.0"/><circle cx="1916.0" cy="900.0" r="13.0"/><circle cx="1924.1" cy="862.8" r="13.0"/><circle cx="1928.3" cy="877.0" r="13.0"/><circle cx="1941.0" cy="950.3" r="13.0"/><circle cx="1955.0" cy="955.0" r="13.0"/><circle cx="1966.4" cy="958.8" r="13.0"/></g>
</g>
<text transform="translate(242.8,1045.9) scale(0.9515,1)" font-size="65.9" text-anchor="end" stroke="#000" stroke-width="1.1">0.0</text>
<text transform="translate(242.8,801.9) scale(0.9515,1)" font-size="65.9" text-anchor="end" stroke="#000" stroke-width="1.1">0.1</text>
<text transform="translate(242.8,557.8) scale(0.9515,1)" font-size="65.9" text-anchor="end" stroke="#000" stroke-width="1.1">0.2</text>
<text transform="translate(242.8,313.8) scale(0.9515,1)" font-size="65.9" text-anchor="end" stroke="#000" stroke-width="1.1">0.3</text>
<text transform="translate(242.8,69.8) scale(0.9515,1)" font-size="65.9" text-anchor="end" stroke="#000" stroke-width="1.1">0.4</text>
<text transform="translate(130.8,513.0) rotate(-90) scale(0.9445,1)" font-size="69.8" text-anchor="middle" font-family="'DejaVu Serif',serif" stroke="#000" stroke-width="1.1">δ</text>
<text transform="translate(410.9,918.8) rotate(-90) scale(0.9970,1)" font-size="54.0" stroke="#000" stroke-width="1.1">Quantum domain solid</text>
<text transform="translate(704.8,625.9) rotate(-90) scale(0.9940,1)" font-size="54.0" stroke="#000" stroke-width="1.1">Quantum domain glass</text>
<text transform="translate(1010.9,660.9) scale(0.9840,1)" font-size="54.6" stroke="#000" stroke-width="1.1">Pinned</text>
<text transform="translate(1583.9,805.9) scale(0.9860,1)" font-size="54.0" stroke="#000" stroke-width="1.1">Domain</text>
<text transform="translate(1613.0,871.1)" font-size="53.4" stroke="#000" stroke-width="1.1">liquid</text>
<text transform="translate(1893.0,155.9) scale(0.9850,1)" font-size="68.3" text-anchor="end" stroke="#000" stroke-width="1.1">(a)</text>
<line x1="818.0" y1="93.4" x2="908.0" y2="93.4" stroke="#0000ff" stroke-width="4.5" stroke-linecap="round"/>
<circle cx="861.8" cy="93.4" r="10.8" fill="#fff" stroke="#0000ff" stroke-width="4.5"/>
<text transform="translate(919.5,113.2) scale(0.9680,1)" font-size="58.5" stroke="#000" stroke-width="1.1">Cooling 1</text>
<line x1="818.0" y1="178.3" x2="908.0" y2="178.3" stroke="#000" stroke-width="4.5" stroke-linecap="round"/>
<circle cx="861.8" cy="178.3" r="13" fill="#000"/>
<text transform="translate(919.5,198.1) scale(0.9680,1)" font-size="58.5" stroke="#000" stroke-width="1.1">Heating 1, comp. OFF</text>
<line x1="818.0" y1="265.3" x2="908.0" y2="265.3" stroke="#0000ff" stroke-width="1.5" stroke-linecap="round"/>
<circle cx="861.8" cy="265.3" r="13" fill="#0000ff"/>
<text transform="translate(919.5,285.1) scale(0.9680,1)" font-size="58.5" stroke="#000" stroke-width="1.1">Cooling 2</text>
<line x1="818.0" y1="349.1" x2="908.0" y2="349.1" stroke="#008000" stroke-width="4.5" stroke-linecap="round"/>
<circle cx="861.8" cy="349.1" r="13" fill="#008000"/>
<text transform="translate(919.5,368.9) scale(0.9680,1)" font-size="58.5" stroke="#000" stroke-width="1.1">Heating 2, comp. ON</text>
<line x1="818.0" y1="434.5" x2="908.0" y2="434.5" stroke="#ff0000" stroke-width="4.5" stroke-linecap="round"/>
<circle cx="861.8" cy="434.5" r="13" fill="#ff0000"/>
<text transform="translate(919.5,454.3) scale(0.9680,1)" font-size="58.5" stroke="#000" stroke-width="1.1">Heating 3, comp. OFF</text>
<line x1="267.0" y1="2032.0" x2="286.5" y2="2032.0" stroke="#000" stroke-width="4.5" />
<line x1="271.0" y1="1957.4" x2="286.5" y2="1957.4" stroke="#000" stroke-width="4.5" />
<line x1="267.0" y1="1882.9" x2="286.5" y2="1882.9" stroke="#000" stroke-width="4.5" />
<line x1="271.0" y1="1808.3" x2="286.5" y2="1808.3" stroke="#000" stroke-width="4.5" />
<line x1="267.0" y1="1733.7" x2="286.5" y2="1733.7" stroke="#000" stroke-width="4.5" />
<line x1="271.0" y1="1659.2" x2="286.5" y2="1659.2" stroke="#000" stroke-width="4.5" />
<line x1="267.0" y1="1584.6" x2="286.5" y2="1584.6" stroke="#000" stroke-width="4.5" />
<line x1="271.0" y1="1510.0" x2="286.5" y2="1510.0" stroke="#000" stroke-width="4.5" />
<line x1="267.0" y1="1435.5" x2="286.5" y2="1435.5" stroke="#000" stroke-width="4.5" />
<line x1="271.0" y1="1360.9" x2="286.5" y2="1360.9" stroke="#000" stroke-width="4.5" />
<line x1="267.0" y1="1286.3" x2="286.5" y2="1286.3" stroke="#000" stroke-width="4.5" />
<line x1="271.0" y1="1211.8" x2="286.5" y2="1211.8" stroke="#000" stroke-width="4.5" />
<line x1="267.0" y1="1137.2" x2="286.5" y2="1137.2" stroke="#000" stroke-width="4.5" />
<line x1="267.0" y1="1087.5" x2="286.5" y2="1087.5" stroke="#000" stroke-width="4.5" />
<line x1="286.5" y1="2032.0" x2="286.5" y2="2053.0" stroke="#000" stroke-width="4.5" stroke-linecap="round"/>
<line x1="320.4" y1="2032.0" x2="320.4" y2="2048.0" stroke="#000" stroke-width="4.5" stroke-linecap="round"/>
<line x1="354.4" y1="2032.0" x2="354.4" y2="2048.0" stroke="#000" stroke-width="4.5" stroke-linecap="round"/>
<line x1="388.4" y1="2032.0" x2="388.4" y2="2048.0" stroke="#000" stroke-width="4.5" stroke-linecap="round"/>
<line x1="422.3" y1="2032.0" x2="422.3" y2="2048.0" stroke="#000" stroke-width="4.5" stroke-linecap="round"/>
<line x1="456.2" y1="2032.0" x2="456.2" y2="2053.0" stroke="#000" stroke-width="4.5" stroke-linecap="round"/>
<line x1="490.2" y1="2032.0" x2="490.2" y2="2048.0" stroke="#000" stroke-width="4.5" stroke-linecap="round"/>
<line x1="524.1" y1="2032.0" x2="524.1" y2="2048.0" stroke="#000" stroke-width="4.5" stroke-linecap="round"/>
<line x1="558.1" y1="2032.0" x2="558.1" y2="2048.0" stroke="#000" stroke-width="4.5" stroke-linecap="round"/>
<line x1="592.0" y1="2032.0" x2="592.0" y2="2048.0" stroke="#000" stroke-width="4.5" stroke-linecap="round"/>
<line x1="626.0" y1="2032.0" x2="626.0" y2="2053.0" stroke="#000" stroke-width="4.5" stroke-linecap="round"/>
<line x1="660.0" y1="2032.0" x2="660.0" y2="2048.0" stroke="#000" stroke-width="4.5" stroke-linecap="round"/>
<line x1="693.9" y1="2032.0" x2="693.9" y2="2048.0" stroke="#000" stroke-width="4.5" stroke-linecap="round"/>
<line x1="727.9" y1="2032.0" x2="727.9" y2="2048.0" stroke="#000" stroke-width="4.5" stroke-linecap="round"/>
<line x1="761.8" y1="2032.0" x2="761.8" y2="2048.0" stroke="#000" stroke-width="4.5" stroke-linecap="round"/>
<line x1="795.8" y1="2032.0" x2="795.8" y2="2053.0" stroke="#000" stroke-width="4.5" stroke-linecap="round"/>
<line x1="829.7" y1="2032.0" x2="829.7" y2="2048.0" stroke="#000" stroke-width="4.5" stroke-linecap="round"/>
<line x1="863.6" y1="2032.0" x2="863.6" y2="2048.0" stroke="#000" stroke-width="4.5" stroke-linecap="round"/>
<line x1="897.6" y1="2032.0" x2="897.6" y2="2048.0" stroke="#000" stroke-width="4.5" stroke-linecap="round"/>
<line x1="931.5" y1="2032.0" x2="931.5" y2="2048.0" stroke="#000" stroke-width="4.5" stroke-linecap="round"/>
<line x1="965.5" y1="2032.0" x2="965.5" y2="2053.0" stroke="#000" stroke-width="4.5" stroke-linecap="round"/>
<line x1="999.5" y1="2032.0" x2="999.5" y2="2048.0" stroke="#000" stroke-width="4.5" stroke-linecap="round"/>
<line x1="1033.4" y1="2032.0" x2="1033.4" y2="2048.0" stroke="#000" stroke-width="4.5" stroke-linecap="round"/>
<line x1="1067.3" y1="2032.0" x2="1067.3" y2="2048.0" stroke="#000" stroke-width="4.5" stroke-linecap="round"/>
<line x1="1101.3" y1="2032.0" x2="1101.3" y2="2048.0" stroke="#000" stroke-width="4.5" stroke-linecap="round"/>
<line x1="1135.2" y1="2032.0" x2="1135.2" y2="2053.0" stroke="#000" stroke-width="4.5" stroke-linecap="round"/>
<line x1="1169.2" y1="2032.0" x2="1169.2" y2="2048.0" stroke="#000" stroke-width="4.5" stroke-linecap="round"/>
<line x1="1203.2" y1="2032.0" x2="1203.2" y2="2048.0" stroke="#000" stroke-width="4.5" stroke-linecap="round"/>
<line x1="1237.1" y1="2032.0" x2="1237.1" y2="2048.0" stroke="#000" stroke-width="4.5" stroke-linecap="round"/>
<line x1="1271.0" y1="2032.0" x2="1271.0" y2="2048.0" stroke="#000" stroke-width="4.5" stroke-linecap="round"/>
<line x1="1305.0" y1="2032.0" x2="1305.0" y2="2053.0" stroke="#000" stroke-width="4.5" stroke-linecap="round"/>
<line x1="1339.0" y1="2032.0" x2="1339.0" y2="2048.0" stroke="#000" stroke-width="4.5" stroke-linecap="round"/>
<line x1="1372.9" y1="2032.0" x2="1372.9" y2="2048.0" stroke="#000" stroke-width="4.5" stroke-linecap="round"/>
<line x1="1406.8" y1="2032.0" x2="1406.8" y2="2048.0" stroke="#000" stroke-width="4.5" stroke-linecap="round"/>
<line x1="1440.8" y1="2032.0" x2="1440.8" y2="2048.0" stroke="#000" stroke-width="4.5" stroke-linecap="round"/>
<line x1="1474.8" y1="2032.0" x2="1474.8" y2="2053.0" stroke="#000" stroke-width="4.5" stroke-linecap="round"/>
<line x1="1508.7" y1="2032.0" x2="1508.7" y2="2048.0" stroke="#000" stroke-width="4.5" stroke-linecap="round"/>
<line x1="1542.7" y1="2032.0" x2="1542.7" y2="2048.0" stroke="#000" stroke-width="4.5" stroke-linecap="round"/>
<line x1="1576.6" y1="2032.0" x2="1576.6" y2="2048.0" stroke="#000" stroke-width="4.5" stroke-linecap="round"/>
<line x1="1610.5" y1="2032.0" x2="1610.5" y2="2048.0" stroke="#000" stroke-width="4.5" stroke-linecap="round"/>
<line x1="1644.5" y1="2032.0" x2="1644.5" y2="2053.0" stroke="#000" stroke-width="4.5" stroke-linecap="round"/>
<line x1="1678.5" y1="2032.0" x2="1678.5" y2="2048.0" stroke="#000" stroke-width="4.5" stroke-linecap="round"/>
<line x1="1712.4" y1="2032.0" x2="1712.4" y2="2048.0" stroke="#000" stroke-width="4.5" stroke-linecap="round"/>
<line x1="1746.3" y1="2032.0" x2="1746.3" y2="2048.0" stroke="#000" stroke-width="4.5" stroke-linecap="round"/>
<line x1="1780.3" y1="2032.0" x2="1780.3" y2="2048.0" stroke="#000" stroke-width="4.5" stroke-linecap="round"/>
<line x1="1814.2" y1="2032.0" x2="1814.2" y2="2053.0" stroke="#000" stroke-width="4.5" stroke-linecap="round"/>
<line x1="1848.2" y1="2032.0" x2="1848.2" y2="2048.0" stroke="#000" stroke-width="4.5" stroke-linecap="round"/>
<line x1="1882.2" y1="2032.0" x2="1882.2" y2="2048.0" stroke="#000" stroke-width="4.5" stroke-linecap="round"/>
<line x1="1916.1" y1="2032.0" x2="1916.1" y2="2048.0" stroke="#000" stroke-width="4.5" stroke-linecap="round"/>
<line x1="1950.0" y1="2032.0" x2="1950.0" y2="2048.0" stroke="#000" stroke-width="4.5" stroke-linecap="round"/>
<line x1="1984.0" y1="2032.0" x2="1984.0" y2="2053.0" stroke="#000" stroke-width="4.5" stroke-linecap="round"/>
<rect x="286.5" y="1087.5" width="1697.5" height="944.5" fill="none" stroke="#000" stroke-width="4.5"/>
<g id="dataB">
<polyline points="425.0,2016.0 500.0,2022.0 600.0,2018.0 700.0,2000.0 760.0,1972.0 790.0,1945.0 820.0,1928.0 845.0,1870.0 870.0,1830.0 912.0,1817.0 960.0,1822.0 1003.0,1826.0 1042.0,1826.0 1060.0,1815.0 1081.0,1797.0 1120.0,1800.0 1165.0,1797.0 1201.8,1800.0 1250.0,1800.0 1309.7,1799.0 1405.6,1796.0 1441.6,1793.0 1500.0,1793.0 1600.0,1791.0 1690.0,1784.0 1722.0,1768.0 1752.0,1745.0 1780.0,1716.0 1803.0,1684.0 1822.0,1650.0 1836.0,1615.0 1848.0,1580.0 1857.0,1545.0 1866.0,1505.0 1876.0,1420.0 1882.0,1360.0 1887.0,1310.0 1893.0,1260.0 1903.0,1222.0 1910.0,1195.0 1922.0,1165.0 1940.0,1146.0 1960.0,1136.0 1980.0,1130.0" fill="none" stroke="#0000ff" stroke-width="3" stroke-linejoin="round" stroke-linecap="round"/>
<g fill="#fff" stroke="#0000ff" stroke-width="4.5"><circle cx="425.0" cy="2016.0" r="10.8"/><circle cx="434.4" cy="2016.8" r="10.8"/><circle cx="443.8" cy="2017.5" r="10.8"/><circle cx="453.1" cy="2018.2" r="10.8"/><circle cx="462.5" cy="2019.0" r="10.8"/><circle cx="471.9" cy="2019.8" r="10.8"/><circle cx="481.2" cy="2020.5" r="10.8"/><circle cx="490.6" cy="2021.2" r="10.8"/><circle cx="500.0" cy="2022.0" r="10.8"/><circle cx="509.1" cy="2021.6" r="10.8"/><circle cx="518.2" cy="2021.3" r="10.8"/><circle cx="527.3" cy="2020.9" r="10.8"/><circle cx="536.4" cy="2020.5" r="10.8"/><circle cx="545.5" cy="2020.2" r="10.8"/><circle cx="554.5" cy="2019.8" r="10.8"/><circle cx="563.6" cy="2019.5" r="10.8"/><circle cx="572.7" cy="2019.1" r="10.8"/><circle cx="581.8" cy="2018.7" r="10.8"/><circle cx="590.9" cy="2018.4" r="10.8"/><circle cx="600.0" cy="2018.0" r="10.8"/><circle cx="609.1" cy="2016.4" r="10.8"/><circle cx="618.2" cy="2014.7" r="10.8"/><circle cx="627.3" cy="2013.1" r="10.8"/><circle cx="636.4" cy="2011.5" r="10.8"/><circle cx="645.5" cy="2009.8" r="10.8"/><circle cx="654.5" cy="2008.2" r="10.8"/><circle cx="663.6" cy="2006.5" r="10.8"/><circle cx="672.7" cy="2004.9" r="10.8"/><circle cx="681.8" cy="2003.3" r="10.8"/><circle cx="690.9" cy="2001.6" r="10.8"/><circle cx="700.0" cy="2000.0" r="10.8"/><circle cx="760.0" cy="1972.0" r="10.8"/><circle cx="790.0" cy="1945.0" r="10.8"/><circle cx="820.0" cy="1928.0" r="10.8"/><circle cx="845.0" cy="1870.0" r="10.8"/><circle cx="850.0" cy="1862.0" r="10.8"/><circle cx="855.0" cy="1854.0" r="10.8"/><circle cx="860.0" cy="1846.0" r="10.8"/><circle cx="865.0" cy="1838.0" r="10.8"/><circle cx="870.0" cy="1830.0" r="10.8"/><circle cx="878.4" cy="1827.4" r="10.8"/><circle cx="886.8" cy="1824.8" r="10.8"/><circle cx="895.2" cy="1822.2" r="10.8"/><circle cx="903.6" cy="1819.6" r="10.8"/><circle cx="912.0" cy="1817.0" r="10.8"/><circle cx="921.6" cy="1818.0" r="10.8"/><circle cx="931.2" cy="1819.0" r="10.8"/><circle cx="940.8" cy="1820.0" r="10.8"/><circle cx="950.4" cy="1821.0" r="10.8"/><circle cx="960.0" cy="1822.0" r="10.8"/><circle cx="968.6" cy="1822.8" r="10.8"/><circle cx="977.2" cy="1823.6" r="10.8"/><circle cx="985.8" cy="1824.4" r="10.8"/><circle cx="994.4" cy="1825.2" r="10.8"/><circle cx="1003.0" cy="1826.0" r="10.8"/><circle cx="1012.8" cy="1826.0" r="10.8"/><circle cx="1022.5" cy="1826.0" r="10.8"/><circle cx="1032.2" cy="1826.0" r="10.8"/><circle cx="1042.0" cy="1826.0" r="10.8"/><circle cx="1048.0" cy="1822.3" r="10.8"/><circle cx="1054.0" cy="1818.7" r="10.8"/><circle cx="1060.0" cy="1815.0" r="10.8"/><circle cx="1067.0" cy="1809.0" r="10.8"/><circle cx="1074.0" cy="1803.0" r="10.8"/><circle cx="1081.0" cy="1797.0" r="10.8"/><circle cx="1090.8" cy="1797.8" r="10.8"/><circle cx="1100.5" cy="1798.5" r="10.8"/><circle cx="1110.2" cy="1799.2" r="10.8"/><circle cx="1120.0" cy="1800.0" r="10.8"/><circle cx="1129.0" cy="1799.4" r="10.8"/><circle cx="1138.0" cy="1798.8" r="10.8"/><circle cx="1147.0" cy="1798.2" r="10.8"/><circle cx="1156.0" cy="1797.6" r="10.8"/><circle cx="1165.0" cy="1797.0" r="10.8"/><circle cx="1174.2" cy="1797.8" r="10.8"/><circle cx="1183.4" cy="1798.5" r="10.8"/><circle cx="1192.6" cy="1799.2" r="10.8"/><circle cx="1201.8" cy="1800.0" r="10.8"/><circle cx="1211.4" cy="1800.0" r="10.8"/><circle cx="1221.1" cy="1800.0" r="10.8"/><circle cx="1230.7" cy="1800.0" r="10.8"/><circle cx="1240.4" cy="1800.0" r="10.8"/><circle cx="1250.0" cy="1800.0" r="10.8"/><circle cx="1260.0" cy="1799.8" r="10.8"/><circle cx="1269.9" cy="1799.7" r="10.8"/><circle cx="1279.8" cy="1799.5" r="10.8"/><circle cx="1289.8" cy="1799.3" r="10.8"/><circle cx="1299.8" cy="1799.2" r="10.8"/><circle cx="1309.7" cy="1799.0" r="10.8"/><circle cx="1319.3" cy="1798.7" r="10.8"/><circle cx="1328.9" cy="1798.4" r="10.8"/><circle cx="1338.5" cy="1798.1" r="10.8"/><circle cx="1348.1" cy="1797.8" r="10.8"/><circle cx="1357.7" cy="1797.5" r="10.8"/><circle cx="1367.2" cy="1797.2" r="10.8"/><circle cx="1376.8" cy="1796.9" r="10.8"/><circle cx="1386.4" cy="1796.6" r="10.8"/><circle cx="1396.0" cy="1796.3" r="10.8"/><circle cx="1405.6" cy="1796.0" r="10.8"/><circle cx="1414.6" cy="1795.2" r="10.8"/><circle cx="1423.6" cy="1794.5" r="10.8"/><circle cx="1432.6" cy="1793.8" r="10.8"/><circle cx="1441.6" cy="1793.0" r="10.8"/><circle cx="1451.3" cy="1793.0" r="10.8"/><circle cx="1461.1" cy="1793.0" r="10.8"/><circle cx="1470.8" cy="1793.0" r="10.8"/><circle cx="1480.5" cy="1793.0" r="10.8"/><circle cx="1490.3" cy="1793.0" r="10.8"/><circle cx="1500.0" cy="1793.0" r="10.8"/><circle cx="1509.1" cy="1792.8" r="10.8"/><circle cx="1518.2" cy="1792.6" r="10.8"/><circle cx="1527.3" cy="1792.5" r="10.8"/><circle cx="1536.4" cy="1792.3" r="10.8"/><circle cx="1545.5" cy="1792.1" r="10.8"/><circle cx="1554.5" cy="1791.9" r="10.8"/><circle cx="1563.6" cy="1791.7" r="10.8"/><circle cx="1572.7" cy="1791.5" r="10.8"/><circle cx="1581.8" cy="1791.4" r="10.8"/><circle cx="1590.9" cy="1791.2" r="10.8"/><circle cx="1600.0" cy="1791.0" r="10.8"/><circle cx="1609.0" cy="1790.3" r="10.8"/><circle cx="1618.0" cy="1789.6" r="10.8"/><circle cx="1627.0" cy="1788.9" r="10.8"/><circle cx="1636.0" cy="1788.2" r="10.8"/><circle cx="1645.0" cy="1787.5" r="10.8"/><circle cx="1654.0" cy="1786.8" r="10.8"/><circle cx="1663.0" cy="1786.1" r="10.8"/><circle cx="1672.0" cy="1785.4" r="10.8"/><circle cx="1681.0" cy="1784.7" r="10.8"/><circle cx="1690.0" cy="1784.0" r="10.8"/><circle cx="1698.0" cy="1780.0" r="10.8"/><circle cx="1706.0" cy="1776.0" r="10.8"/><circle cx="1714.0" cy="1772.0" r="10.8"/><circle cx="1722.0" cy="1768.0" r="10.8"/><circle cx="1729.5" cy="1762.2" r="10.8"/><circle cx="1737.0" cy="1756.5" r="10.8"/><circle cx="1744.5" cy="1750.8" r="10.8"/><circle cx="1752.0" cy="1745.0" r="10.8"/><circle cx="1757.6" cy="1739.2" r="10.8"/><circle cx="1763.2" cy="1733.4" r="10.8"/><circle cx="1768.8" cy="1727.6" r="10.8"/><circle cx="1774.4" cy="1721.8" r="10.8"/><circle cx="1780.0" cy="1716.0" r="10.8"/><circle cx="1785.8" cy="1708.0" r="10.8"/><circle cx="1791.5" cy="1700.0" r="10.8"/><circle cx="1797.2" cy="1692.0" r="10.8"/><circle cx="1803.0" cy="1684.0" r="10.8"/><circle cx="1807.8" cy="1675.5" r="10.8"/><circle cx="1812.5" cy="1667.0" r="10.8"/><circle cx="1817.2" cy="1658.5" r="10.8"/><circle cx="1822.0" cy="1650.0" r="10.8"/><circle cx="1825.5" cy="1641.2" r="10.8"/><circle cx="1829.0" cy="1632.5" r="10.8"/><circle cx="1832.5" cy="1623.8" r="10.8"/><circle cx="1836.0" cy="1615.0" r="10.8"/><circle cx="1839.0" cy="1606.2" r="10.8"/><circle cx="1842.0" cy="1597.5" r="10.8"/><circle cx="1845.0" cy="1588.8" r="10.8"/><circle cx="1848.0" cy="1580.0" r="10.8"/><circle cx="1850.2" cy="1571.2" r="10.8"/><circle cx="1852.5" cy="1562.5" r="10.8"/><circle cx="1854.8" cy="1553.8" r="10.8"/><circle cx="1857.0" cy="1545.0" r="10.8"/><circle cx="1866.0" cy="1505.0" r="10.8"/><circle cx="1876.0" cy="1420.0" r="10.8"/><circle cx="1882.0" cy="1360.0" r="10.8"/><circle cx="1887.0" cy="1310.0" r="10.8"/><circle cx="1893.0" cy="1260.0" r="10.8"/><circle cx="1895.5" cy="1250.5" r="10.8"/><circle cx="1898.0" cy="1241.0" r="10.8"/><circle cx="1900.5" cy="1231.5" r="10.8"/><circle cx="1903.0" cy="1222.0" r="10.8"/><circle cx="1905.3" cy="1213.0" r="10.8"/><circle cx="1907.7" cy="1204.0" r="10.8"/><circle cx="1910.0" cy="1195.0" r="10.8"/><circle cx="1913.0" cy="1187.5" r="10.8"/><circle cx="1916.0" cy="1180.0" r="10.8"/><circle cx="1919.0" cy="1172.5" r="10.8"/><circle cx="1922.0" cy="1165.0" r="10.8"/><circle cx="1928.0" cy="1158.7" r="10.8"/><circle cx="1934.0" cy="1152.3" r="10.8"/><circle cx="1940.0" cy="1146.0" r="10.8"/><circle cx="1946.7" cy="1142.7" r="10.8"/><circle cx="1953.3" cy="1139.3" r="10.8"/><circle cx="1960.0" cy="1136.0" r="10.8"/><circle cx="1966.7" cy="1134.0" r="10.8"/><circle cx="1973.3" cy="1132.0" r="10.8"/><circle cx="1980.0" cy="1130.0" r="10.8"/></g>
<polyline points="420.0,2010.0 500.0,2020.0 600.0,2017.0 700.0,2008.0 760.0,1990.0 786.6,1927.4 800.0,1915.0 821.6,1900.0 830.4,1853.0 843.5,1822.4 861.0,1796.2 882.8,1770.0 904.7,1748.1 922.2,1746.0 960.0,1741.0 1004.0,1740.0 1050.0,1745.0 1100.0,1750.0 1150.0,1756.0 1200.0,1761.0 1250.0,1765.0 1309.7,1768.0 1400.0,1772.0 1500.0,1775.0 1600.0,1775.0 1700.0,1773.0 1740.0,1762.0 1770.0,1740.0 1795.0,1712.0 1815.0,1680.0 1833.0,1645.0 1846.0,1608.0 1856.0,1575.0 1865.0,1545.0 1879.2,1513.2 1896.8,1386.4 1908.0,1263.0 1916.0,1215.0 1928.0,1185.0 1946.0,1160.0 1966.0,1146.0 1985.0,1138.0" fill="none" stroke="#000" stroke-width="4" stroke-linejoin="round" stroke-linecap="round"/>
<g fill="#000"><circle cx="420.0" cy="2010.0" r="13.0"/><circle cx="427.3" cy="2010.9" r="13.0"/><circle cx="434.5" cy="2011.8" r="13.0"/><circle cx="441.8" cy="2012.7" r="13.0"/><circle cx="449.1" cy="2013.6" r="13.0"/><circle cx="456.4" cy="2014.5" r="13.0"/><circle cx="463.6" cy="2015.5" r="13.0"/><circle cx="470.9" cy="2016.4" r="13.0"/><circle cx="478.2" cy="2017.3" r="13.0"/><circle cx="485.5" cy="2018.2" r="13.0"/><circle cx="492.7" cy="2019.1" r="13.0"/><circle cx="500.0" cy="2020.0" r="13.0"/><circle cx="507.7" cy="2019.8" r="13.0"/><circle cx="515.4" cy="2019.5" r="13.0"/><circle cx="523.1" cy="2019.3" r="13.0"/><circle cx="530.8" cy="2019.1" r="13.0"/><circle cx="538.5" cy="2018.8" r="13.0"/><circle cx="546.2" cy="2018.6" r="13.0"/><circle cx="553.8" cy="2018.4" r="13.0"/><circle cx="561.5" cy="2018.2" r="13.0"/><circle cx="569.2" cy="2017.9" r="13.0"/><circle cx="576.9" cy="2017.7" r="13.0"/><circle cx="584.6" cy="2017.5" r="13.0"/><circle cx="592.3" cy="2017.2" r="13.0"/><circle cx="600.0" cy="2017.0" r="13.0"/><circle cx="607.7" cy="2016.3" r="13.0"/><circle cx="615.4" cy="2015.6" r="13.0"/><circle cx="623.1" cy="2014.9" r="13.0"/><circle cx="630.8" cy="2014.2" r="13.0"/><circle cx="638.5" cy="2013.5" r="13.0"/><circle cx="646.2" cy="2012.8" r="13.0"/><circle cx="653.8" cy="2012.2" r="13.0"/><circle cx="661.5" cy="2011.5" r="13.0"/><circle cx="669.2" cy="2010.8" r="13.0"/><circle cx="676.9" cy="2010.1" r="13.0"/><circle cx="684.6" cy="2009.4" r="13.0"/><circle cx="692.3" cy="2008.7" r="13.0"/><circle cx="700.0" cy="2008.0" r="13.0"/><circle cx="707.5" cy="2005.8" r="13.0"/><circle cx="715.0" cy="2003.5" r="13.0"/><circle cx="722.5" cy="2001.2" r="13.0"/><circle cx="730.0" cy="1999.0" r="13.0"/><circle cx="737.5" cy="1996.8" r="13.0"/><circle cx="745.0" cy="1994.5" r="13.0"/><circle cx="752.5" cy="1992.2" r="13.0"/><circle cx="760.0" cy="1990.0" r="13.0"/><circle cx="763.0" cy="1983.0" r="13.0"/><circle cx="765.9" cy="1976.1" r="13.0"/><circle cx="768.9" cy="1969.1" r="13.0"/><circle cx="771.8" cy="1962.2" r="13.0"/><circle cx="774.8" cy="1955.2" r="13.0"/><circle cx="777.7" cy="1948.3" r="13.0"/><circle cx="780.7" cy="1941.3" r="13.0"/><circle cx="783.6" cy="1934.4" r="13.0"/><circle cx="786.6" cy="1927.4" r="13.0"/><circle cx="791.1" cy="1923.3" r="13.0"/><circle cx="795.5" cy="1919.1" r="13.0"/><circle cx="800.0" cy="1915.0" r="13.0"/><circle cx="805.4" cy="1911.2" r="13.0"/><circle cx="810.8" cy="1907.5" r="13.0"/><circle cx="816.2" cy="1903.8" r="13.0"/><circle cx="821.6" cy="1900.0" r="13.0"/><circle cx="823.1" cy="1892.2" r="13.0"/><circle cx="824.5" cy="1884.3" r="13.0"/><circle cx="826.0" cy="1876.5" r="13.0"/><circle cx="827.5" cy="1868.7" r="13.0"/><circle cx="828.9" cy="1860.8" r="13.0"/><circle cx="830.4" cy="1853.0" r="13.0"/><circle cx="833.0" cy="1846.9" r="13.0"/><circle cx="835.6" cy="1840.8" r="13.0"/><circle cx="838.3" cy="1834.6" r="13.0"/><circle cx="840.9" cy="1828.5" r="13.0"/><circle cx="843.5" cy="1822.4" r="13.0"/><circle cx="847.9" cy="1815.9" r="13.0"/><circle cx="852.2" cy="1809.3" r="13.0"/><circle cx="856.6" cy="1802.8" r="13.0"/><circle cx="861.0" cy="1796.2" r="13.0"/><circle cx="865.4" cy="1791.0" r="13.0"/><circle cx="869.7" cy="1785.7" r="13.0"/><circle cx="874.1" cy="1780.5" r="13.0"/><circle cx="878.4" cy="1775.2" r="13.0"/><circle cx="882.8" cy="1770.0" r="13.0"/><circle cx="888.3" cy="1764.5" r="13.0"/><circle cx="893.8" cy="1759.0" r="13.0"/><circle cx="899.2" cy="1753.6" r="13.0"/><circle cx="904.7" cy="1748.1" r="13.0"/><circle cx="910.5" cy="1747.4" r="13.0"/><circle cx="916.4" cy="1746.7" r="13.0"/><circle cx="922.2" cy="1746.0" r="13.0"/><circle cx="929.8" cy="1745.0" r="13.0"/><circle cx="937.3" cy="1744.0" r="13.0"/><circle cx="944.9" cy="1743.0" r="13.0"/><circle cx="952.4" cy="1742.0" r="13.0"/><circle cx="960.0" cy="1741.0" r="13.0"/><circle cx="967.3" cy="1740.8" r="13.0"/><circle cx="974.7" cy="1740.7" r="13.0"/><circle cx="982.0" cy="1740.5" r="13.0"/><circle cx="989.3" cy="1740.3" r="13.0"/><circle cx="996.7" cy="1740.2" r="13.0"/><circle cx="1004.0" cy="1740.0" r="13.0"/><circle cx="1011.7" cy="1740.8" r="13.0"/><circle cx="1019.3" cy="1741.7" r="13.0"/><circle cx="1027.0" cy="1742.5" r="13.0"/><circle cx="1034.7" cy="1743.3" r="13.0"/><circle cx="1042.3" cy="1744.2" r="13.0"/><circle cx="1050.0" cy="1745.0" r="13.0"/><circle cx="1057.1" cy="1745.7" r="13.0"/><circle cx="1064.3" cy="1746.4" r="13.0"/><circle cx="1071.4" cy="1747.1" r="13.0"/><circle cx="1078.6" cy="1747.9" r="13.0"/><circle cx="1085.7" cy="1748.6" r="13.0"/><circle cx="1092.9" cy="1749.3" r="13.0"/><circle cx="1100.0" cy="1750.0" r="13.0"/><circle cx="1107.1" cy="1750.9" r="13.0"/><circle cx="1114.3" cy="1751.7" r="13.0"/><circle cx="1121.4" cy="1752.6" r="13.0"/><circle cx="1128.6" cy="1753.4" r="13.0"/><circle cx="1135.7" cy="1754.3" r="13.0"/><circle cx="1142.9" cy="1755.1" r="13.0"/><circle cx="1150.0" cy="1756.0" r="13.0"/><circle cx="1157.1" cy="1756.7" r="13.0"/><circle cx="1164.3" cy="1757.4" r="13.0"/><circle cx="1171.4" cy="1758.1" r="13.0"/><circle cx="1178.6" cy="1758.9" r="13.0"/><circle cx="1185.7" cy="1759.6" r="13.0"/><circle cx="1192.9" cy="1760.3" r="13.0"/><circle cx="1200.0" cy="1761.0" r="13.0"/><circle cx="1207.1" cy="1761.6" r="13.0"/><circle cx="1214.3" cy="1762.1" r="13.0"/><circle cx="1221.4" cy="1762.7" r="13.0"/><circle cx="1228.6" cy="1763.3" r="13.0"/><circle cx="1235.7" cy="1763.9" r="13.0"/><circle cx="1242.9" cy="1764.4" r="13.0"/><circle cx="1250.0" cy="1765.0" r="13.0"/><circle cx="1257.5" cy="1765.4" r="13.0"/><circle cx="1264.9" cy="1765.8" r="13.0"/><circle cx="1272.4" cy="1766.1" r="13.0"/><circle cx="1279.8" cy="1766.5" r="13.0"/><circle cx="1287.3" cy="1766.9" r="13.0"/><circle cx="1294.8" cy="1767.2" r="13.0"/><circle cx="1302.2" cy="1767.6" r="13.0"/><circle cx="1309.7" cy="1768.0" r="13.0"/><circle cx="1317.2" cy="1768.3" r="13.0"/><circle cx="1324.8" cy="1768.7" r="13.0"/><circle cx="1332.3" cy="1769.0" r="13.0"/><circle cx="1339.8" cy="1769.3" r="13.0"/><circle cx="1347.3" cy="1769.7" r="13.0"/><circle cx="1354.8" cy="1770.0" r="13.0"/><circle cx="1362.4" cy="1770.3" r="13.0"/><circle cx="1369.9" cy="1770.7" r="13.0"/><circle cx="1377.4" cy="1771.0" r="13.0"/><circle cx="1385.0" cy="1771.3" r="13.0"/><circle cx="1392.5" cy="1771.7" r="13.0"/><circle cx="1400.0" cy="1772.0" r="13.0"/><circle cx="1407.7" cy="1772.2" r="13.0"/><circle cx="1415.4" cy="1772.5" r="13.0"/><circle cx="1423.1" cy="1772.7" r="13.0"/><circle cx="1430.8" cy="1772.9" r="13.0"/><circle cx="1438.5" cy="1773.2" r="13.0"/><circle cx="1446.2" cy="1773.4" r="13.0"/><circle cx="1453.8" cy="1773.6" r="13.0"/><circle cx="1461.5" cy="1773.8" r="13.0"/><circle cx="1469.2" cy="1774.1" r="13.0"/><circle cx="1476.9" cy="1774.3" r="13.0"/><circle cx="1484.6" cy="1774.5" r="13.0"/><circle cx="1492.3" cy="1774.8" r="13.0"/><circle cx="1500.0" cy="1775.0" r="13.0"/><circle cx="1507.7" cy="1775.0" r="13.0"/><circle cx="1515.4" cy="1775.0" r="13.0"/><circle cx="1523.1" cy="1775.0" r="13.0"/><circle cx="1530.8" cy="1775.0" r="13.0"/><circle cx="1538.5" cy="1775.0" r="13.0"/><circle cx="1546.2" cy="1775.0" r="13.0"/><circle cx="1553.8" cy="1775.0" r="13.0"/><circle cx="1561.5" cy="1775.0" r="13.0"/><circle cx="1569.2" cy="1775.0" r="13.0"/><circle cx="1576.9" cy="1775.0" r="13.0"/><circle cx="1584.6" cy="1775.0" r="13.0"/><circle cx="1592.3" cy="1775.0" r="13.0"/><circle cx="1600.0" cy="1775.0" r="13.0"/><circle cx="1607.7" cy="1774.8" r="13.0"/><circle cx="1615.4" cy="1774.7" r="13.0"/><circle cx="1623.1" cy="1774.5" r="13.0"/><circle cx="1630.8" cy="1774.4" r="13.0"/><circle cx="1638.5" cy="1774.2" r="13.0"/><circle cx="1646.2" cy="1774.1" r="13.0"/><circle cx="1653.8" cy="1773.9" r="13.0"/><circle cx="1661.5" cy="1773.8" r="13.0"/><circle cx="1669.2" cy="1773.6" r="13.0"/><circle cx="1676.9" cy="1773.5" r="13.0"/><circle cx="1684.6" cy="1773.3" r="13.0"/><circle cx="1692.3" cy="1773.2" r="13.0"/><circle cx="1700.0" cy="1773.0" r="13.0"/><circle cx="1706.7" cy="1771.2" r="13.0"/><circle cx="1713.3" cy="1769.3" r="13.0"/><circle cx="1720.0" cy="1767.5" r="13.0"/><circle cx="1726.7" cy="1765.7" r="13.0"/><circle cx="1733.3" cy="1763.8" r="13.0"/><circle cx="1740.0" cy="1762.0" r="13.0"/><circle cx="1746.0" cy="1757.6" r="13.0"/><circle cx="1752.0" cy="1753.2" r="13.0"/><circle cx="1758.0" cy="1748.8" r="13.0"/><circle cx="1764.0" cy="1744.4" r="13.0"/><circle cx="1770.0" cy="1740.0" r="13.0"/><circle cx="1775.0" cy="1734.4" r="13.0"/><circle cx="1780.0" cy="1728.8" r="13.0"/><circle cx="1785.0" cy="1723.2" r="13.0"/><circle cx="1790.0" cy="1717.6" r="13.0"/><circle cx="1795.0" cy="1712.0" r="13.0"/><circle cx="1799.0" cy="1705.6" r="13.0"/><circle cx="1803.0" cy="1699.2" r="13.0"/><circle cx="1807.0" cy="1692.8" r="13.0"/><circle cx="1811.0" cy="1686.4" r="13.0"/><circle cx="1815.0" cy="1680.0" r="13.0"/><circle cx="1818.6" cy="1673.0" r="13.0"/><circle cx="1822.2" cy="1666.0" r="13.0"/><circle cx="1825.8" cy="1659.0" r="13.0"/><circle cx="1829.4" cy="1652.0" r="13.0"/><circle cx="1833.0" cy="1645.0" r="13.0"/><circle cx="1835.6" cy="1637.6" r="13.0"/><circle cx="1838.2" cy="1630.2" r="13.0"/><circle cx="1840.8" cy="1622.8" r="13.0"/><circle cx="1843.4" cy="1615.4" r="13.0"/><circle cx="1846.0" cy="1608.0" r="13.0"/><circle cx="1848.0" cy="1601.4" r="13.0"/><circle cx="1850.0" cy="1594.8" r="13.0"/><circle cx="1852.0" cy="1588.2" r="13.0"/><circle cx="1854.0" cy="1581.6" r="13.0"/><circle cx="1856.0" cy="1575.0" r="13.0"/><circle cx="1858.2" cy="1567.5" r="13.0"/><circle cx="1860.5" cy="1560.0" r="13.0"/><circle cx="1862.8" cy="1552.5" r="13.0"/><circle cx="1865.0" cy="1545.0" r="13.0"/><circle cx="1879.2" cy="1513.2" r="13.0"/><circle cx="1896.8" cy="1386.4" r="13.0"/><circle cx="1908.0" cy="1263.0" r="13.0"/><circle cx="1916.0" cy="1215.0" r="13.0"/><circle cx="1918.4" cy="1209.0" r="13.0"/><circle cx="1920.8" cy="1203.0" r="13.0"/><circle cx="1923.2" cy="1197.0" r="13.0"/><circle cx="1925.6" cy="1191.0" r="13.0"/><circle cx="1928.0" cy="1185.0" r="13.0"/><circle cx="1932.5" cy="1178.8" r="13.0"/><circle cx="1937.0" cy="1172.5" r="13.0"/><circle cx="1941.5" cy="1166.2" r="13.0"/><circle cx="1946.0" cy="1160.0" r="13.0"/><circle cx="1951.0" cy="1156.5" r="13.0"/><circle cx="1956.0" cy="1153.0" r="13.0"/><circle cx="1961.0" cy="1149.5" r="13.0"/><circle cx="1966.0" cy="1146.0" r="13.0"/><circle cx="1972.3" cy="1143.3" r="13.0"/><circle cx="1978.7" cy="1140.7" r="13.0"/><circle cx="1985.0" cy="1138.0" r="13.0"/></g>
<polyline points="420.0,2014.0 500.0,2020.0 600.0,2018.0 686.0,2006.0 730.0,1990.0 753.0,1972.0 769.0,1945.0 790.0,1938.0 808.0,1934.0 821.0,1927.0 835.0,1880.0 853.0,1835.0 875.0,1823.0 899.0,1820.0 925.0,1820.0 951.0,1818.0 990.0,1800.0 1022.0,1780.0 1045.0,1810.0 1068.0,1832.0 1090.0,1815.0 1113.0,1804.0 1150.0,1800.0 1204.0,1797.0 1250.0,1795.0 1309.7,1797.0 1405.6,1794.0 1500.0,1791.0 1600.0,1789.0 1680.0,1784.0 1715.0,1772.0 1745.0,1750.0 1772.0,1724.0 1796.0,1695.0 1816.0,1662.0 1831.0,1630.0 1842.0,1598.0 1851.0,1565.0 1860.6,1502.3 1871.4,1439.8 1879.6,1371.8 1885.0,1328.3 1887.8,1276.7 1894.5,1246.8 1903.0,1215.0 1908.0,1190.0 1918.0,1168.0 1932.0,1150.0 1950.0,1139.0 1968.0,1132.0 1985.0,1128.0" fill="none" stroke="#0000ff" stroke-width="3" stroke-linejoin="round" stroke-linecap="round"/>
<g fill="#0000ff"><circle cx="420.0" cy="2014.0" r="13.0"/><circle cx="427.3" cy="2014.5" r="13.0"/><circle cx="434.5" cy="2015.1" r="13.0"/><circle cx="441.8" cy="2015.6" r="13.0"/><circle cx="449.1" cy="2016.2" r="13.0"/><circle cx="456.4" cy="2016.7" r="13.0"/><circle cx="463.6" cy="2017.3" r="13.0"/><circle cx="470.9" cy="2017.8" r="13.0"/><circle cx="478.2" cy="2018.4" r="13.0"/><circle cx="485.5" cy="2018.9" r="13.0"/><circle cx="492.7" cy="2019.5" r="13.0"/><circle cx="500.0" cy="2020.0" r="13.0"/><circle cx="507.7" cy="2019.8" r="13.0"/><circle cx="515.4" cy="2019.7" r="13.0"/><circle cx="523.1" cy="2019.5" r="13.0"/><circle cx="530.8" cy="2019.4" r="13.0"/><circle cx="538.5" cy="2019.2" r="13.0"/><circle cx="546.2" cy="2019.1" r="13.0"/><circle cx="553.8" cy="2018.9" r="13.0"/><circle cx="561.5" cy="2018.8" r="13.0"/><circle cx="569.2" cy="2018.6" r="13.0"/><circle cx="576.9" cy="2018.5" r="13.0"/><circle cx="584.6" cy="2018.3" r="13.0"/><circle cx="592.3" cy="2018.2" r="13.0"/><circle cx="600.0" cy="2018.0" r="13.0"/><circle cx="607.8" cy="2016.9" r="13.0"/><circle cx="615.6" cy="2015.8" r="13.0"/><circle cx="623.5" cy="2014.7" r="13.0"/><circle cx="631.3" cy="2013.6" r="13.0"/><circle cx="639.1" cy="2012.5" r="13.0"/><circle cx="646.9" cy="2011.5" r="13.0"/><circle cx="654.7" cy="2010.4" r="13.0"/><circle cx="662.5" cy="2009.3" r="13.0"/><circle cx="670.4" cy="2008.2" r="13.0"/><circle cx="678.2" cy="2007.1" r="13.0"/><circle cx="686.0" cy="2006.0" r="13.0"/><circle cx="693.3" cy="2003.3" r="13.0"/><circle cx="700.7" cy="2000.7" r="13.0"/><circle cx="708.0" cy="1998.0" r="13.0"/><circle cx="715.3" cy="1995.3" r="13.0"/><circle cx="722.7" cy="1992.7" r="13.0"/><circle cx="730.0" cy="1990.0" r="13.0"/><circle cx="735.8" cy="1985.5" r="13.0"/><circle cx="741.5" cy="1981.0" r="13.0"/><circle cx="747.2" cy="1976.5" r="13.0"/><circle cx="753.0" cy="1972.0" r="13.0"/><circle cx="769.0" cy="1945.0" r="13.0"/><circle cx="790.0" cy="1938.0" r="13.0"/><circle cx="808.0" cy="1934.0" r="13.0"/><circle cx="821.0" cy="1927.0" r="13.0"/><circle cx="835.0" cy="1880.0" r="13.0"/><circle cx="853.0" cy="1835.0" r="13.0"/><circle cx="858.5" cy="1832.0" r="13.0"/><circle cx="864.0" cy="1829.0" r="13.0"/><circle cx="869.5" cy="1826.0" r="13.0"/><circle cx="875.0" cy="1823.0" r="13.0"/><circle cx="881.0" cy="1822.2" r="13.0"/><circle cx="887.0" cy="1821.5" r="13.0"/><circle cx="893.0" cy="1820.8" r="13.0"/><circle cx="899.0" cy="1820.0" r="13.0"/><circle cx="905.5" cy="1820.0" r="13.0"/><circle cx="912.0" cy="1820.0" r="13.0"/><circle cx="918.5" cy="1820.0" r="13.0"/><circle cx="925.0" cy="1820.0" r="13.0"/><circle cx="931.5" cy="1819.5" r="13.0"/><circle cx="938.0" cy="1819.0" r="13.0"/><circle cx="944.5" cy="1818.5" r="13.0"/><circle cx="951.0" cy="1818.0" r="13.0"/><circle cx="957.5" cy="1815.0" r="13.0"/><circle cx="964.0" cy="1812.0" r="13.0"/><circle cx="970.5" cy="1809.0" r="13.0"/><circle cx="977.0" cy="1806.0" r="13.0"/><circle cx="983.5" cy="1803.0" r="13.0"/><circle cx="990.0" cy="1800.0" r="13.0"/><circle cx="996.4" cy="1796.0" r="13.0"/><circle cx="1002.8" cy="1792.0" r="13.0"/><circle cx="1009.2" cy="1788.0" r="13.0"/><circle cx="1015.6" cy="1784.0" r="13.0"/><circle cx="1022.0" cy="1780.0" r="13.0"/><circle cx="1026.6" cy="1786.0" r="13.0"/><circle cx="1031.2" cy="1792.0" r="13.0"/><circle cx="1035.8" cy="1798.0" r="13.0"/><circle cx="1040.4" cy="1804.0" r="13.0"/><circle cx="1045.0" cy="1810.0" r="13.0"/><circle cx="1050.8" cy="1815.5" r="13.0"/><circle cx="1056.5" cy="1821.0" r="13.0"/><circle cx="1062.2" cy="1826.5" r="13.0"/><circle cx="1068.0" cy="1832.0" r="13.0"/><circle cx="1073.5" cy="1827.8" r="13.0"/><circle cx="1079.0" cy="1823.5" r="13.0"/><circle cx="1084.5" cy="1819.2" r="13.0"/><circle cx="1090.0" cy="1815.0" r="13.0"/><circle cx="1095.8" cy="1812.2" r="13.0"/><circle cx="1101.5" cy="1809.5" r="13.0"/><circle cx="1107.2" cy="1806.8" r="13.0"/><circle cx="1113.0" cy="1804.0" r="13.0"/><circle cx="1120.4" cy="1803.2" r="13.0"/><circle cx="1127.8" cy="1802.4" r="13.0"/><circle cx="1135.2" cy="1801.6" r="13.0"/><circle cx="1142.6" cy="1800.8" r="13.0"/><circle cx="1150.0" cy="1800.0" r="13.0"/><circle cx="1157.7" cy="1799.6" r="13.0"/><circle cx="1165.4" cy="1799.1" r="13.0"/><circle cx="1173.1" cy="1798.7" r="13.0"/><circle cx="1180.9" cy="1798.3" r="13.0"/><circle cx="1188.6" cy="1797.9" r="13.0"/><circle cx="1196.3" cy="1797.4" r="13.0"/><circle cx="1204.0" cy="1797.0" r="13.0"/><circle cx="1211.7" cy="1796.7" r="13.0"/><circle cx="1219.3" cy="1796.3" r="13.0"/><circle cx="1227.0" cy="1796.0" r="13.0"/><circle cx="1234.7" cy="1795.7" r="13.0"/><circle cx="1242.3" cy="1795.3" r="13.0"/><circle cx="1250.0" cy="1795.0" r="13.0"/><circle cx="1257.5" cy="1795.2" r="13.0"/><circle cx="1264.9" cy="1795.5" r="13.0"/><circle cx="1272.4" cy="1795.8" r="13.0"/><circle cx="1279.8" cy="1796.0" r="13.0"/><circle cx="1287.3" cy="1796.2" r="13.0"/><circle cx="1294.8" cy="1796.5" r="13.0"/><circle cx="1302.2" cy="1796.8" r="13.0"/><circle cx="1309.7" cy="1797.0" r="13.0"/><circle cx="1317.7" cy="1796.8" r="13.0"/><circle cx="1325.7" cy="1796.5" r="13.0"/><circle cx="1333.7" cy="1796.2" r="13.0"/><circle cx="1341.7" cy="1796.0" r="13.0"/><circle cx="1349.7" cy="1795.8" r="13.0"/><circle cx="1357.7" cy="1795.5" r="13.0"/><circle cx="1365.6" cy="1795.2" r="13.0"/><circle cx="1373.6" cy="1795.0" r="13.0"/><circle cx="1381.6" cy="1794.8" r="13.0"/><circle cx="1389.6" cy="1794.5" r="13.0"/><circle cx="1397.6" cy="1794.2" r="13.0"/><circle cx="1405.6" cy="1794.0" r="13.0"/><circle cx="1413.5" cy="1793.8" r="13.0"/><circle cx="1421.3" cy="1793.5" r="13.0"/><circle cx="1429.2" cy="1793.2" r="13.0"/><circle cx="1437.1" cy="1793.0" r="13.0"/><circle cx="1444.9" cy="1792.8" r="13.0"/><circle cx="1452.8" cy="1792.5" r="13.0"/><circle cx="1460.7" cy="1792.2" r="13.0"/><circle cx="1468.5" cy="1792.0" r="13.0"/><circle cx="1476.4" cy="1791.8" r="13.0"/><circle cx="1484.3" cy="1791.5" r="13.0"/><circle cx="1492.1" cy="1791.2" r="13.0"/><circle cx="1500.0" cy="1791.0" r="13.0"/><circle cx="1507.7" cy="1790.8" r="13.0"/><circle cx="1515.4" cy="1790.7" r="13.0"/><circle cx="1523.1" cy="1790.5" r="13.0"/><circle cx="1530.8" cy="1790.4" r="13.0"/><circle cx="1538.5" cy="1790.2" r="13.0"/><circle cx="1546.2" cy="1790.1" r="13.0"/><circle cx="1553.8" cy="1789.9" r="13.0"/><circle cx="1561.5" cy="1789.8" r="13.0"/><circle cx="1569.2" cy="1789.6" r="13.0"/><circle cx="1576.9" cy="1789.5" r="13.0"/><circle cx="1584.6" cy="1789.3" r="13.0"/><circle cx="1592.3" cy="1789.2" r="13.0"/><circle cx="1600.0" cy="1789.0" r="13.0"/><circle cx="1607.3" cy="1788.5" r="13.0"/><circle cx="1614.5" cy="1788.1" r="13.0"/><circle cx="1621.8" cy="1787.6" r="13.0"/><circle cx="1629.1" cy="1787.2" r="13.0"/><circle cx="1636.4" cy="1786.7" r="13.0"/><circle cx="1643.6" cy="1786.3" r="13.0"/><circle cx="1650.9" cy="1785.8" r="13.0"/><circle cx="1658.2" cy="1785.4" r="13.0"/><circle cx="1665.5" cy="1784.9" r="13.0"/><circle cx="1672.7" cy="1784.5" r="13.0"/><circle cx="1680.0" cy="1784.0" r="13.0"/><circle cx="1687.0" cy="1781.6" r="13.0"/><circle cx="1694.0" cy="1779.2" r="13.0"/><circle cx="1701.0" cy="1776.8" r="13.0"/><circle cx="1708.0" cy="1774.4" r="13.0"/><circle cx="1715.0" cy="1772.0" r="13.0"/><circle cx="1721.0" cy="1767.6" r="13.0"/><circle cx="1727.0" cy="1763.2" r="13.0"/><circle cx="1733.0" cy="1758.8" r="13.0"/><circle cx="1739.0" cy="1754.4" r="13.0"/><circle cx="1745.0" cy="1750.0" r="13.0"/><circle cx="1750.4" cy="1744.8" r="13.0"/><circle cx="1755.8" cy="1739.6" r="13.0"/><circle cx="1761.2" cy="1734.4" r="13.0"/><circle cx="1766.6" cy="1729.2" r="13.0"/><circle cx="1772.0" cy="1724.0" r="13.0"/><circle cx="1776.8" cy="1718.2" r="13.0"/><circle cx="1781.6" cy="1712.4" r="13.0"/><circle cx="1786.4" cy="1706.6" r="13.0"/><circle cx="1791.2" cy="1700.8" r="13.0"/><circle cx="1796.0" cy="1695.0" r="13.0"/><circle cx="1800.0" cy="1688.4" r="13.0"/><circle cx="1804.0" cy="1681.8" r="13.0"/><circle cx="1808.0" cy="1675.2" r="13.0"/><circle cx="1812.0" cy="1668.6" r="13.0"/><circle cx="1816.0" cy="1662.0" r="13.0"/><circle cx="1819.0" cy="1655.6" r="13.0"/><circle cx="1822.0" cy="1649.2" r="13.0"/><circle cx="1825.0" cy="1642.8" r="13.0"/><circle cx="1828.0" cy="1636.4" r="13.0"/><circle cx="1831.0" cy="1630.0" r="13.0"/><circle cx="1833.2" cy="1623.6" r="13.0"/><circle cx="1835.4" cy="1617.2" r="13.0"/><circle cx="1837.6" cy="1610.8" r="13.0"/><circle cx="1839.8" cy="1604.4" r="13.0"/><circle cx="1842.0" cy="1598.0" r="13.0"/><circle cx="1843.8" cy="1591.4" r="13.0"/><circle cx="1845.6" cy="1584.8" r="13.0"/><circle cx="1847.4" cy="1578.2" r="13.0"/><circle cx="1849.2" cy="1571.6" r="13.0"/><circle cx="1851.0" cy="1565.0" r="13.0"/><circle cx="1860.6" cy="1502.3" r="13.0"/><circle cx="1871.4" cy="1439.8" r="13.0"/><circle cx="1879.6" cy="1371.8" r="13.0"/><circle cx="1885.0" cy="1328.3" r="13.0"/><circle cx="1887.8" cy="1276.7" r="13.0"/><circle cx="1894.5" cy="1246.8" r="13.0"/><circle cx="1896.2" cy="1240.4" r="13.0"/><circle cx="1897.9" cy="1234.1" r="13.0"/><circle cx="1899.6" cy="1227.7" r="13.0"/><circle cx="1901.3" cy="1221.4" r="13.0"/><circle cx="1903.0" cy="1215.0" r="13.0"/><circle cx="1904.2" cy="1208.8" r="13.0"/><circle cx="1905.5" cy="1202.5" r="13.0"/><circle cx="1906.8" cy="1196.2" r="13.0"/><circle cx="1908.0" cy="1190.0" r="13.0"/><circle cx="1910.5" cy="1184.5" r="13.0"/><circle cx="1913.0" cy="1179.0" r="13.0"/><circle cx="1915.5" cy="1173.5" r="13.0"/><circle cx="1918.0" cy="1168.0" r="13.0"/><circle cx="1922.7" cy="1162.0" r="13.0"/><circle cx="1927.3" cy="1156.0" r="13.0"/><circle cx="1932.0" cy="1150.0" r="13.0"/><circle cx="1938.0" cy="1146.3" r="13.0"/><circle cx="1944.0" cy="1142.7" r="13.0"/><circle cx="1950.0" cy="1139.0" r="13.0"/><circle cx="1956.0" cy="1136.7" r="13.0"/><circle cx="1962.0" cy="1134.3" r="13.0"/><circle cx="1968.0" cy="1132.0" r="13.0"/><circle cx="1973.7" cy="1130.7" r="13.0"/><circle cx="1979.3" cy="1129.3" r="13.0"/><circle cx="1985.0" cy="1128.0" r="13.0"/></g>
<polyline points="410.6,2006.0 445.6,2019.2 511.2,2025.7 598.6,2023.6 686.1,2014.8 751.7,2006.0 764.8,2001.7 786.6,1953.6 808.5,1914.3 834.7,1866.2 861.0,1848.7 882.8,1826.8 904.7,1805.0 926.6,1787.5 948.4,1783.0 970.3,1787.5 1000.0,1800.6 1010.0,1794.0 1030.0,1800.0 1058.0,1797.0 1075.0,1812.0 1094.0,1794.0 1112.0,1824.0 1130.0,1782.0 1148.0,1824.0 1165.0,1800.0 1180.0,1788.0 1201.8,1794.0 1230.0,1790.0 1273.7,1794.0 1300.0,1789.0 1333.7,1785.0 1400.0,1781.0 1500.0,1780.0 1600.0,1780.0 1700.0,1779.0 1740.0,1770.0 1765.0,1757.0 1790.0,1733.0 1810.0,1703.0 1830.0,1668.0 1845.0,1628.0 1858.0,1590.0 1867.9,1566.1 1882.4,1487.5 1892.0,1426.5 1912.8,1245.2 1924.0,1186.0 1942.0,1162.0 1962.0,1148.0 1984.0,1138.0" fill="none" stroke="#008000" stroke-width="4" stroke-linejoin="round" stroke-linecap="round"/>
<g fill="#008000"><circle cx="410.6" cy="2006.0" r="13.0"/><circle cx="417.6" cy="2008.6" r="13.0"/><circle cx="424.6" cy="2011.3" r="13.0"/><circle cx="431.6" cy="2013.9" r="13.0"/><circle cx="438.6" cy="2016.6" r="13.0"/><circle cx="445.6" cy="2019.2" r="13.0"/><circle cx="452.9" cy="2019.9" r="13.0"/><circle cx="460.2" cy="2020.6" r="13.0"/><circle cx="467.5" cy="2021.4" r="13.0"/><circle cx="474.8" cy="2022.1" r="13.0"/><circle cx="482.0" cy="2022.8" r="13.0"/><circle cx="489.3" cy="2023.5" r="13.0"/><circle cx="496.6" cy="2024.3" r="13.0"/><circle cx="503.9" cy="2025.0" r="13.0"/><circle cx="511.2" cy="2025.7" r="13.0"/><circle cx="519.1" cy="2025.5" r="13.0"/><circle cx="527.1" cy="2025.3" r="13.0"/><circle cx="535.0" cy="2025.1" r="13.0"/><circle cx="543.0" cy="2024.9" r="13.0"/><circle cx="550.9" cy="2024.7" r="13.0"/><circle cx="558.9" cy="2024.6" r="13.0"/><circle cx="566.8" cy="2024.4" r="13.0"/><circle cx="574.8" cy="2024.2" r="13.0"/><circle cx="582.7" cy="2024.0" r="13.0"/><circle cx="590.7" cy="2023.8" r="13.0"/><circle cx="598.6" cy="2023.6" r="13.0"/><circle cx="606.6" cy="2022.8" r="13.0"/><circle cx="614.5" cy="2022.0" r="13.0"/><circle cx="622.5" cy="2021.2" r="13.0"/><circle cx="630.4" cy="2020.4" r="13.0"/><circle cx="638.4" cy="2019.6" r="13.0"/><circle cx="646.3" cy="2018.8" r="13.0"/><circle cx="654.3" cy="2018.0" r="13.0"/><circle cx="662.2" cy="2017.2" r="13.0"/><circle cx="670.2" cy="2016.4" r="13.0"/><circle cx="678.1" cy="2015.6" r="13.0"/><circle cx="686.1" cy="2014.8" r="13.0"/><circle cx="693.4" cy="2013.8" r="13.0"/><circle cx="700.7" cy="2012.8" r="13.0"/><circle cx="708.0" cy="2011.9" r="13.0"/><circle cx="715.3" cy="2010.9" r="13.0"/><circle cx="722.5" cy="2009.9" r="13.0"/><circle cx="729.8" cy="2008.9" r="13.0"/><circle cx="737.1" cy="2008.0" r="13.0"/><circle cx="744.4" cy="2007.0" r="13.0"/><circle cx="751.7" cy="2006.0" r="13.0"/><circle cx="758.2" cy="2003.8" r="13.0"/><circle cx="764.8" cy="2001.7" r="13.0"/><circle cx="767.9" cy="1994.8" r="13.0"/><circle cx="771.0" cy="1988.0" r="13.0"/><circle cx="774.1" cy="1981.1" r="13.0"/><circle cx="777.3" cy="1974.2" r="13.0"/><circle cx="780.4" cy="1967.3" r="13.0"/><circle cx="783.5" cy="1960.5" r="13.0"/><circle cx="786.6" cy="1953.6" r="13.0"/><circle cx="790.2" cy="1947.0" r="13.0"/><circle cx="793.9" cy="1940.5" r="13.0"/><circle cx="797.5" cy="1933.9" r="13.0"/><circle cx="801.2" cy="1927.4" r="13.0"/><circle cx="804.9" cy="1920.8" r="13.0"/><circle cx="808.5" cy="1914.3" r="13.0"/><circle cx="812.2" cy="1907.4" r="13.0"/><circle cx="816.0" cy="1900.6" r="13.0"/><circle cx="819.7" cy="1893.7" r="13.0"/><circle cx="823.5" cy="1886.8" r="13.0"/><circle cx="827.2" cy="1879.9" r="13.0"/><circle cx="831.0" cy="1873.1" r="13.0"/><circle cx="834.7" cy="1866.2" r="13.0"/><circle cx="841.3" cy="1861.8" r="13.0"/><circle cx="847.9" cy="1857.5" r="13.0"/><circle cx="854.4" cy="1853.1" r="13.0"/><circle cx="861.0" cy="1848.7" r="13.0"/><circle cx="866.5" cy="1843.2" r="13.0"/><circle cx="871.9" cy="1837.8" r="13.0"/><circle cx="877.3" cy="1832.3" r="13.0"/><circle cx="882.8" cy="1826.8" r="13.0"/><circle cx="888.3" cy="1821.3" r="13.0"/><circle cx="893.8" cy="1815.9" r="13.0"/><circle cx="899.2" cy="1810.5" r="13.0"/><circle cx="904.7" cy="1805.0" r="13.0"/><circle cx="910.2" cy="1800.6" r="13.0"/><circle cx="915.7" cy="1796.2" r="13.0"/><circle cx="921.1" cy="1791.9" r="13.0"/><circle cx="926.6" cy="1787.5" r="13.0"/><circle cx="933.9" cy="1786.0" r="13.0"/><circle cx="941.1" cy="1784.5" r="13.0"/><circle cx="948.4" cy="1783.0" r="13.0"/><circle cx="955.7" cy="1784.5" r="13.0"/><circle cx="963.0" cy="1786.0" r="13.0"/><circle cx="970.3" cy="1787.5" r="13.0"/><circle cx="976.2" cy="1790.1" r="13.0"/><circle cx="982.2" cy="1792.7" r="13.0"/><circle cx="988.1" cy="1795.4" r="13.0"/><circle cx="994.1" cy="1798.0" r="13.0"/><circle cx="1000.0" cy="1800.6" r="13.0"/><circle cx="1005.0" cy="1797.3" r="13.0"/><circle cx="1010.0" cy="1794.0" r="13.0"/><circle cx="1016.7" cy="1796.0" r="13.0"/><circle cx="1023.3" cy="1798.0" r="13.0"/><circle cx="1030.0" cy="1800.0" r="13.0"/><circle cx="1037.0" cy="1799.2" r="13.0"/><circle cx="1044.0" cy="1798.5" r="13.0"/><circle cx="1051.0" cy="1797.8" r="13.0"/><circle cx="1058.0" cy="1797.0" r="13.0"/><circle cx="1063.7" cy="1802.0" r="13.0"/><circle cx="1069.3" cy="1807.0" r="13.0"/><circle cx="1075.0" cy="1812.0" r="13.0"/><circle cx="1079.8" cy="1807.5" r="13.0"/><circle cx="1084.5" cy="1803.0" r="13.0"/><circle cx="1089.2" cy="1798.5" r="13.0"/><circle cx="1094.0" cy="1794.0" r="13.0"/><circle cx="1097.6" cy="1800.0" r="13.0"/><circle cx="1101.2" cy="1806.0" r="13.0"/><circle cx="1104.8" cy="1812.0" r="13.0"/><circle cx="1108.4" cy="1818.0" r="13.0"/><circle cx="1112.0" cy="1824.0" r="13.0"/><circle cx="1115.0" cy="1817.0" r="13.0"/><circle cx="1118.0" cy="1810.0" r="13.0"/><circle cx="1121.0" cy="1803.0" r="13.0"/><circle cx="1124.0" cy="1796.0" r="13.0"/><circle cx="1127.0" cy="1789.0" r="13.0"/><circle cx="1130.0" cy="1782.0" r="13.0"/><circle cx="1133.0" cy="1789.0" r="13.0"/><circle cx="1136.0" cy="1796.0" r="13.0"/><circle cx="1139.0" cy="1803.0" r="13.0"/><circle cx="1142.0" cy="1810.0" r="13.0"/><circle cx="1145.0" cy="1817.0" r="13.0"/><circle cx="1148.0" cy="1824.0" r="13.0"/><circle cx="1152.2" cy="1818.0" r="13.0"/><circle cx="1156.5" cy="1812.0" r="13.0"/><circle cx="1160.8" cy="1806.0" r="13.0"/><circle cx="1165.0" cy="1800.0" r="13.0"/><circle cx="1170.0" cy="1796.0" r="13.0"/><circle cx="1175.0" cy="1792.0" r="13.0"/><circle cx="1180.0" cy="1788.0" r="13.0"/><circle cx="1187.3" cy="1790.0" r="13.0"/><circle cx="1194.5" cy="1792.0" r="13.0"/><circle cx="1201.8" cy="1794.0" r="13.0"/><circle cx="1208.8" cy="1793.0" r="13.0"/><circle cx="1215.9" cy="1792.0" r="13.0"/><circle cx="1223.0" cy="1791.0" r="13.0"/><circle cx="1230.0" cy="1790.0" r="13.0"/><circle cx="1237.3" cy="1790.7" r="13.0"/><circle cx="1244.6" cy="1791.3" r="13.0"/><circle cx="1251.8" cy="1792.0" r="13.0"/><circle cx="1259.1" cy="1792.7" r="13.0"/><circle cx="1266.4" cy="1793.3" r="13.0"/><circle cx="1273.7" cy="1794.0" r="13.0"/><circle cx="1280.3" cy="1792.8" r="13.0"/><circle cx="1286.8" cy="1791.5" r="13.0"/><circle cx="1293.4" cy="1790.2" r="13.0"/><circle cx="1300.0" cy="1789.0" r="13.0"/><circle cx="1306.7" cy="1788.2" r="13.0"/><circle cx="1313.5" cy="1787.4" r="13.0"/><circle cx="1320.2" cy="1786.6" r="13.0"/><circle cx="1327.0" cy="1785.8" r="13.0"/><circle cx="1333.7" cy="1785.0" r="13.0"/><circle cx="1341.1" cy="1784.6" r="13.0"/><circle cx="1348.4" cy="1784.1" r="13.0"/><circle cx="1355.8" cy="1783.7" r="13.0"/><circle cx="1363.2" cy="1783.2" r="13.0"/><circle cx="1370.5" cy="1782.8" r="13.0"/><circle cx="1377.9" cy="1782.3" r="13.0"/><circle cx="1385.3" cy="1781.9" r="13.0"/><circle cx="1392.6" cy="1781.4" r="13.0"/><circle cx="1400.0" cy="1781.0" r="13.0"/><circle cx="1407.7" cy="1780.9" r="13.0"/><circle cx="1415.4" cy="1780.8" r="13.0"/><circle cx="1423.1" cy="1780.8" r="13.0"/><circle cx="1430.8" cy="1780.7" r="13.0"/><circle cx="1438.5" cy="1780.6" r="13.0"/><circle cx="1446.2" cy="1780.5" r="13.0"/><circle cx="1453.8" cy="1780.5" r="13.0"/><circle cx="1461.5" cy="1780.4" r="13.0"/><circle cx="1469.2" cy="1780.3" r="13.0"/><circle cx="1476.9" cy="1780.2" r="13.0"/><circle cx="1484.6" cy="1780.2" r="13.0"/><circle cx="1492.3" cy="1780.1" r="13.0"/><circle cx="1500.0" cy="1780.0" r="13.0"/><circle cx="1507.7" cy="1780.0" r="13.0"/><circle cx="1515.4" cy="1780.0" r="13.0"/><circle cx="1523.1" cy="1780.0" r="13.0"/><circle cx="1530.8" cy="1780.0" r="13.0"/><circle cx="1538.5" cy="1780.0" r="13.0"/><circle cx="1546.2" cy="1780.0" r="13.0"/><circle cx="1553.8" cy="1780.0" r="13.0"/><circle cx="1561.5" cy="1780.0" r="13.0"/><circle cx="1569.2" cy="1780.0" r="13.0"/><circle cx="1576.9" cy="1780.0" r="13.0"/><circle cx="1584.6" cy="1780.0" r="13.0"/><circle cx="1592.3" cy="1780.0" r="13.0"/><circle cx="1600.0" cy="1780.0" r="13.0"/><circle cx="1607.7" cy="1779.9" r="13.0"/><circle cx="1615.4" cy="1779.8" r="13.0"/><circle cx="1623.1" cy="1779.8" r="13.0"/><circle cx="1630.8" cy="1779.7" r="13.0"/><circle cx="1638.5" cy="1779.6" r="13.0"/><circle cx="1646.2" cy="1779.5" r="13.0"/><circle cx="1653.8" cy="1779.5" r="13.0"/><circle cx="1661.5" cy="1779.4" r="13.0"/><circle cx="1669.2" cy="1779.3" r="13.0"/><circle cx="1676.9" cy="1779.2" r="13.0"/><circle cx="1684.6" cy="1779.2" r="13.0"/><circle cx="1692.3" cy="1779.1" r="13.0"/><circle cx="1700.0" cy="1779.0" r="13.0"/><circle cx="1706.7" cy="1777.5" r="13.0"/><circle cx="1713.3" cy="1776.0" r="13.0"/><circle cx="1720.0" cy="1774.5" r="13.0"/><circle cx="1726.7" cy="1773.0" r="13.0"/><circle cx="1733.3" cy="1771.5" r="13.0"/><circle cx="1740.0" cy="1770.0" r="13.0"/><circle cx="1746.2" cy="1766.8" r="13.0"/><circle cx="1752.5" cy="1763.5" r="13.0"/><circle cx="1758.8" cy="1760.2" r="13.0"/><circle cx="1765.0" cy="1757.0" r="13.0"/><circle cx="1770.0" cy="1752.2" r="13.0"/><circle cx="1775.0" cy="1747.4" r="13.0"/><circle cx="1780.0" cy="1742.6" r="13.0"/><circle cx="1785.0" cy="1737.8" r="13.0"/><circle cx="1790.0" cy="1733.0" r="13.0"/><circle cx="1794.0" cy="1727.0" r="13.0"/><circle cx="1798.0" cy="1721.0" r="13.0"/><circle cx="1802.0" cy="1715.0" r="13.0"/><circle cx="1806.0" cy="1709.0" r="13.0"/><circle cx="1810.0" cy="1703.0" r="13.0"/><circle cx="1813.3" cy="1697.2" r="13.0"/><circle cx="1816.7" cy="1691.3" r="13.0"/><circle cx="1820.0" cy="1685.5" r="13.0"/><circle cx="1823.3" cy="1679.7" r="13.0"/><circle cx="1826.7" cy="1673.8" r="13.0"/><circle cx="1830.0" cy="1668.0" r="13.0"/><circle cx="1832.5" cy="1661.3" r="13.0"/><circle cx="1835.0" cy="1654.7" r="13.0"/><circle cx="1837.5" cy="1648.0" r="13.0"/><circle cx="1840.0" cy="1641.3" r="13.0"/><circle cx="1842.5" cy="1634.7" r="13.0"/><circle cx="1845.0" cy="1628.0" r="13.0"/><circle cx="1847.2" cy="1621.7" r="13.0"/><circle cx="1849.3" cy="1615.3" r="13.0"/><circle cx="1851.5" cy="1609.0" r="13.0"/><circle cx="1853.7" cy="1602.7" r="13.0"/><circle cx="1855.8" cy="1596.3" r="13.0"/><circle cx="1858.0" cy="1590.0" r="13.0"/><circle cx="1860.5" cy="1584.0" r="13.0"/><circle cx="1863.0" cy="1578.0" r="13.0"/><circle cx="1865.4" cy="1572.1" r="13.0"/><circle cx="1867.9" cy="1566.1" r="13.0"/><circle cx="1882.4" cy="1487.5" r="13.0"/><circle cx="1892.0" cy="1426.5" r="13.0"/><circle cx="1912.8" cy="1245.2" r="13.0"/><circle cx="1924.0" cy="1186.0" r="13.0"/><circle cx="1928.5" cy="1180.0" r="13.0"/><circle cx="1933.0" cy="1174.0" r="13.0"/><circle cx="1937.5" cy="1168.0" r="13.0"/><circle cx="1942.0" cy="1162.0" r="13.0"/><circle cx="1947.0" cy="1158.5" r="13.0"/><circle cx="1952.0" cy="1155.0" r="13.0"/><circle cx="1957.0" cy="1151.5" r="13.0"/><circle cx="1962.0" cy="1148.0" r="13.0"/><circle cx="1967.5" cy="1145.5" r="13.0"/><circle cx="1973.0" cy="1143.0" r="13.0"/><circle cx="1978.5" cy="1140.5" r="13.0"/><circle cx="1984.0" cy="1138.0" r="13.0"/></g>
<polyline points="430.3,2017.0 454.3,2017.0 489.3,2021.4 519.9,2022.7 544.0,2021.4 565.8,2021.4 585.5,2019.2 605.2,2017.0 624.9,2014.8 642.4,2014.0 655.5,2012.6 712.3,2006.0 725.4,2003.9 771.3,1979.8 821.6,1883.6 826.0,1874.9 896.0,1770.0 902.5,1761.2 970.3,1739.4 1025.0,1744.7 1073.0,1750.7 1115.0,1755.5 1158.6,1759.7 1204.8,1764.0 1237.8,1768.7 1285.7,1771.0 1369.7,1774.7 1489.6,1777.0 1609.5,1777.0 1699.4,1776.0 1729.4,1771.0 1760.0,1752.4 1787.2,1725.2 1806.2,1698.0 1822.0,1670.0 1835.0,1645.0 1848.7,1620.0 1858.0,1593.0 1866.0,1565.0 1871.1,1538.8 1885.6,1461.8 1898.4,1359.2 1901.6,1333.5 1903.2,1311.0 1904.8,1291.8 1906.4,1272.5 1917.7,1201.9 1930.0,1175.0 1940.0,1162.0 1958.0,1147.0 1979.9,1136.3 2001.0,1131.0" fill="none" stroke="#ff0000" stroke-width="4" stroke-linejoin="round" stroke-linecap="round"/>
<g fill="#ff0000"><circle cx="430.3" cy="2017.0" r="13.0"/><circle cx="454.3" cy="2017.0" r="13.0"/><circle cx="489.3" cy="2021.4" r="13.0"/><circle cx="519.9" cy="2022.7" r="13.0"/><circle cx="544.0" cy="2021.4" r="13.0"/><circle cx="565.8" cy="2021.4" r="13.0"/><circle cx="585.5" cy="2019.2" r="13.0"/><circle cx="605.2" cy="2017.0" r="13.0"/><circle cx="624.9" cy="2014.8" r="13.0"/><circle cx="642.4" cy="2014.0" r="13.0"/><circle cx="655.5" cy="2012.6" r="13.0"/><circle cx="712.3" cy="2006.0" r="13.0"/><circle cx="725.4" cy="2003.9" r="13.0"/><circle cx="771.3" cy="1979.8" r="13.0"/><circle cx="821.6" cy="1883.6" r="13.0"/><circle cx="826.0" cy="1874.9" r="13.0"/><circle cx="896.0" cy="1770.0" r="13.0"/><circle cx="902.5" cy="1761.2" r="13.0"/><circle cx="970.3" cy="1739.4" r="13.0"/><circle cx="1025.0" cy="1744.7" r="13.0"/><circle cx="1073.0" cy="1750.7" r="13.0"/><circle cx="1115.0" cy="1755.5" r="13.0"/><circle cx="1158.6" cy="1759.7" r="13.0"/><circle cx="1204.8" cy="1764.0" r="13.0"/><circle cx="1237.8" cy="1768.7" r="13.0"/><circle cx="1285.7" cy="1771.0" r="13.0"/></g>
<g fill="#ff0000"><circle cx="1285.7" cy="1771.0" r="13.0"/><circle cx="1296.2" cy="1771.5" r="13.0"/><circle cx="1306.7" cy="1771.9" r="13.0"/><circle cx="1317.2" cy="1772.4" r="13.0"/><circle cx="1327.7" cy="1772.8" r="13.0"/><circle cx="1338.2" cy="1773.3" r="13.0"/><circle cx="1348.7" cy="1773.8" r="13.0"/><circle cx="1359.2" cy="1774.2" r="13.0"/><circle cx="1369.7" cy="1774.7" r="13.0"/><circle cx="1380.6" cy="1774.9" r="13.0"/><circle cx="1391.5" cy="1775.1" r="13.0"/><circle cx="1402.4" cy="1775.3" r="13.0"/><circle cx="1413.3" cy="1775.5" r="13.0"/><circle cx="1424.2" cy="1775.7" r="13.0"/><circle cx="1435.1" cy="1776.0" r="13.0"/><circle cx="1446.0" cy="1776.2" r="13.0"/><circle cx="1456.9" cy="1776.4" r="13.0"/><circle cx="1467.8" cy="1776.6" r="13.0"/><circle cx="1478.7" cy="1776.8" r="13.0"/><circle cx="1489.6" cy="1777.0" r="13.0"/><circle cx="1500.5" cy="1777.0" r="13.0"/><circle cx="1511.4" cy="1777.0" r="13.0"/><circle cx="1522.3" cy="1777.0" r="13.0"/><circle cx="1533.2" cy="1777.0" r="13.0"/><circle cx="1544.1" cy="1777.0" r="13.0"/><circle cx="1555.0" cy="1777.0" r="13.0"/><circle cx="1565.9" cy="1777.0" r="13.0"/><circle cx="1576.8" cy="1777.0" r="13.0"/><circle cx="1587.7" cy="1777.0" r="13.0"/><circle cx="1598.6" cy="1777.0" r="13.0"/><circle cx="1609.5" cy="1777.0" r="13.0"/><circle cx="1619.5" cy="1776.9" r="13.0"/><circle cx="1629.5" cy="1776.8" r="13.0"/><circle cx="1639.5" cy="1776.7" r="13.0"/><circle cx="1649.5" cy="1776.6" r="13.0"/><circle cx="1659.4" cy="1776.4" r="13.0"/><circle cx="1669.4" cy="1776.3" r="13.0"/><circle cx="1679.4" cy="1776.2" r="13.0"/><circle cx="1689.4" cy="1776.1" r="13.0"/><circle cx="1699.4" cy="1776.0" r="13.0"/><circle cx="1709.4" cy="1774.3" r="13.0"/><circle cx="1719.4" cy="1772.7" r="13.0"/><circle cx="1729.4" cy="1771.0" r="13.0"/><circle cx="1737.1" cy="1766.3" r="13.0"/><circle cx="1744.7" cy="1761.7" r="13.0"/><circle cx="1752.3" cy="1757.1" r="13.0"/><circle cx="1760.0" cy="1752.4" r="13.0"/><circle cx="1766.8" cy="1745.6" r="13.0"/><circle cx="1773.6" cy="1738.8" r="13.0"/><circle cx="1780.4" cy="1732.0" r="13.0"/><circle cx="1787.2" cy="1725.2" r="13.0"/><circle cx="1792.0" cy="1718.4" r="13.0"/><circle cx="1796.7" cy="1711.6" r="13.0"/><circle cx="1801.5" cy="1704.8" r="13.0"/><circle cx="1806.2" cy="1698.0" r="13.0"/><circle cx="1811.5" cy="1688.7" r="13.0"/><circle cx="1816.7" cy="1679.3" r="13.0"/><circle cx="1822.0" cy="1670.0" r="13.0"/><circle cx="1826.3" cy="1661.7" r="13.0"/><circle cx="1830.7" cy="1653.3" r="13.0"/><circle cx="1835.0" cy="1645.0" r="13.0"/><circle cx="1839.6" cy="1636.7" r="13.0"/><circle cx="1844.1" cy="1628.3" r="13.0"/><circle cx="1848.7" cy="1620.0" r="13.0"/><circle cx="1851.8" cy="1611.0" r="13.0"/><circle cx="1854.9" cy="1602.0" r="13.0"/><circle cx="1858.0" cy="1593.0" r="13.0"/><circle cx="1860.7" cy="1583.7" r="13.0"/><circle cx="1863.3" cy="1574.3" r="13.0"/><circle cx="1866.0" cy="1565.0" r="13.0"/><circle cx="1871.1" cy="1538.8" r="13.0"/><circle cx="1885.6" cy="1461.8" r="13.0"/><circle cx="1898.4" cy="1359.2" r="13.0"/><circle cx="1901.6" cy="1333.5" r="13.0"/><circle cx="1903.2" cy="1311.0" r="13.0"/><circle cx="1904.8" cy="1291.8" r="13.0"/><circle cx="1906.4" cy="1272.5" r="13.0"/><circle cx="1917.7" cy="1201.9" r="13.0"/><circle cx="1930.0" cy="1175.0" r="13.0"/><circle cx="1935.0" cy="1168.5" r="13.0"/><circle cx="1940.0" cy="1162.0" r="13.0"/><circle cx="1946.0" cy="1157.0" r="13.0"/><circle cx="1952.0" cy="1152.0" r="13.0"/><circle cx="1958.0" cy="1147.0" r="13.0"/><circle cx="1965.3" cy="1143.4" r="13.0"/><circle cx="1972.6" cy="1139.9" r="13.0"/><circle cx="1979.9" cy="1136.3" r="13.0"/></g>
</g>
<text transform="translate(240.0,2055.2) scale(0.9616,1)" font-size="66.3" text-anchor="end" stroke="#000" stroke-width="1.1">30</text>
<text transform="translate(240.0,1906.1) scale(0.9616,1)" font-size="66.3" text-anchor="end" stroke="#000" stroke-width="1.1">60</text>
<text transform="translate(240.0,1756.9) scale(0.9616,1)" font-size="66.3" text-anchor="end" stroke="#000" stroke-width="1.1">90</text>
<text transform="translate(240.0,1607.8) scale(0.9616,1)" font-size="66.3" text-anchor="end" stroke="#000" stroke-width="1.1">120</text>
<text transform="translate(240.0,1458.7) scale(0.9616,1)" font-size="66.3" text-anchor="end" stroke="#000" stroke-width="1.1">150</text>
<text transform="translate(240.0,1309.5) scale(0.9616,1)" font-size="66.3" text-anchor="end" stroke="#000" stroke-width="1.1">180</text>
<text transform="translate(240.0,1160.4) scale(0.9616,1)" font-size="66.3" text-anchor="end" stroke="#000" stroke-width="1.1">210</text>
<text transform="translate(289.2,2144.8) scale(0.9382,1)" font-size="66.3" text-anchor="middle" stroke="#000" stroke-width="1.1">10</text>
<text transform="translate(458.9,2144.8) scale(0.9382,1)" font-size="66.3" text-anchor="middle" stroke="#000" stroke-width="1.1">20</text>
<text transform="translate(628.7,2144.8) scale(0.9382,1)" font-size="66.3" text-anchor="middle" stroke="#000" stroke-width="1.1">30</text>
<text transform="translate(798.5,2144.8) scale(0.9382,1)" font-size="66.3" text-anchor="middle" stroke="#000" stroke-width="1.1">40</text>
<text transform="translate(968.2,2144.8) scale(0.9382,1)" font-size="66.3" text-anchor="middle" stroke="#000" stroke-width="1.1">50</text>
<text transform="translate(1138.0,2144.8) scale(0.9382,1)" font-size="66.3" text-anchor="middle" stroke="#000" stroke-width="1.1">60</text>
<text transform="translate(1307.7,2144.8) scale(0.9382,1)" font-size="66.3" text-anchor="middle" stroke="#000" stroke-width="1.1">70</text>
<text transform="translate(1477.5,2144.8) scale(0.9382,1)" font-size="66.3" text-anchor="middle" stroke="#000" stroke-width="1.1">80</text>
<text transform="translate(1647.2,2144.8) scale(0.9382,1)" font-size="66.3" text-anchor="middle" stroke="#000" stroke-width="1.1">90</text>
<text transform="translate(1817.0,2144.8) scale(0.9382,1)" font-size="66.3" text-anchor="middle" stroke="#000" stroke-width="1.1">100</text>
<text transform="translate(1986.7,2144.8) scale(0.9382,1)" font-size="66.3" text-anchor="middle" stroke="#000" stroke-width="1.1">110</text>
<text transform="translate(1134.8,2247.0) scale(1.0150,1)" font-size="62.1" text-anchor="middle" stroke="#000" stroke-width="1.1">T (K)</text>
<text transform="translate(99.0,1560.5) rotate(-90) scale(0.9700,1)" font-size="64.1" text-anchor="middle" stroke="#000" stroke-width="1.1">E (GPa)</text>
<text transform="translate(1871.0,1948.9) scale(0.9660,1)" font-size="66.6" text-anchor="end" stroke="#000" stroke-width="1.1">(b)</text>
<line x1="1169.0" y1="1145.8" x2="1261.6" y2="1145.8" stroke="#0000ff" stroke-width="4.5" stroke-linecap="round"/>
<circle cx="1215" cy="1145.8" r="10.8" fill="#fff" stroke="#0000ff" stroke-width="4.5"/>
<text transform="translate(1272.7,1166.6) scale(0.9680,1)" font-size="58.5" stroke="#000" stroke-width="1.1">Cooling 1</text>
<line x1="1169.0" y1="1222.0" x2="1261.6" y2="1222.0" stroke="#000" stroke-width="4.5" stroke-linecap="round"/>
<circle cx="1215" cy="1222" r="13" fill="#000"/>
<text transform="translate(1272.7,1242.8) scale(0.9680,1)" font-size="58.5" stroke="#000" stroke-width="1.1">Heating 1, comp. OFF</text>
<line x1="1169.0" y1="1299.0" x2="1261.6" y2="1299.0" stroke="#0000ff" stroke-width="4.5" stroke-linecap="round"/>
<circle cx="1215" cy="1299" r="13" fill="#0000ff"/>
<text transform="translate(1272.7,1319.8) scale(0.9680,1)" font-size="58.5" stroke="#000" stroke-width="1.1">Cooling 2</text>
<line x1="1169.0" y1="1375.5" x2="1261.6" y2="1375.5" stroke="#008000" stroke-width="4.5" stroke-linecap="round"/>
<circle cx="1215" cy="1375.5" r="13" fill="#008000"/>
<text transform="translate(1272.7,1396.3) scale(0.9680,1)" font-size="58.5" stroke="#000" stroke-width="1.1">Heating 2, comp. ON</text>
<line x1="1169.0" y1="1452.0" x2="1261.6" y2="1452.0" stroke="#ff0000" stroke-width="4.5" stroke-linecap="round"/>
<circle cx="1215" cy="1452" r="13" fill="#ff0000"/>
<text transform="translate(1272.7,1472.8) scale(0.9680,1)" font-size="58.5" stroke="#000" stroke-width="1.1">Heating 3, comp. OFF</text>
<g id="inset">
<polyline points="571.6,1448.1 571.6,1455.7 615.4,1476.7 642.7,1491.3 668.1,1497.6 690.3,1495.7 709.4,1497.6 724.0,1492.5 737.9,1484.9 750.6,1479.8 763.3,1471.6 776.0,1464.0 788.7,1457.0 801.4,1449.4 814.1,1440.5 826.8,1432.9 839.5,1425.3 852.2,1417.6 864.9,1408.8 877.6,1399.9 887.1,1392.3 894.7,1394.2 899.8,1368.8 906.1,1356.1 914.4,1340.2 922.0,1335.1 926.4,1311.7 930.2,1286.3 933.4,1233.6 941.0,1203.8 946.1,1162.5" fill="none" stroke="#000" stroke-width="3.2" stroke-linejoin="round" stroke-linecap="round"/>
<g fill="#000"><circle cx="571.6" cy="1448.1" r="12.7"/><circle cx="571.6" cy="1455.7" r="12.7"/><circle cx="615.4" cy="1476.7" r="12.7"/><circle cx="642.7" cy="1491.3" r="12.7"/><circle cx="668.1" cy="1497.6" r="12.7"/><circle cx="690.3" cy="1495.7" r="12.7"/><circle cx="709.4" cy="1497.6" r="12.7"/><circle cx="724.0" cy="1492.5" r="12.7"/><circle cx="737.9" cy="1484.9" r="12.7"/><circle cx="750.6" cy="1479.8" r="12.7"/><circle cx="763.3" cy="1471.6" r="12.7"/><circle cx="776.0" cy="1464.0" r="12.7"/><circle cx="788.7" cy="1457.0" r="12.7"/><circle cx="801.4" cy="1449.4" r="12.7"/><circle cx="814.1" cy="1440.5" r="12.7"/><circle cx="826.8" cy="1432.9" r="12.7"/><circle cx="839.5" cy="1425.3" r="12.7"/><circle cx="852.2" cy="1417.6" r="12.7"/><circle cx="864.9" cy="1408.8" r="12.7"/><circle cx="877.6" cy="1399.9" r="12.7"/><circle cx="887.1" cy="1392.3" r="12.7"/><circle cx="894.7" cy="1394.2" r="12.7"/><circle cx="899.8" cy="1368.8" r="12.7"/><circle cx="906.1" cy="1356.1" r="12.7"/><circle cx="914.4" cy="1340.2" r="12.7"/><circle cx="922.0" cy="1335.1" r="12.7"/><circle cx="926.4" cy="1311.7" r="12.7"/><circle cx="930.2" cy="1286.3" r="12.7"/><circle cx="933.4" cy="1233.6" r="12.7"/><circle cx="941.0" cy="1203.8" r="12.7"/></g>
<polyline points="569.7,1232.3 569.7,1229.1 615.4,1300.9 642.7,1316.1 668.1,1322.4 690.3,1327.5 709.4,1330.7 725.2,1341.5 737.9,1359.3 751.9,1375.1 765.2,1394.2 776.0,1406.9 787.4,1420.2 798.2,1432.2 807.7,1440.5 817.3,1446.8 826.8,1451.3 836.3,1454.5 845.8,1458.3 855.3,1460.8 864.9,1464.0 874.4,1465.9 883.9,1470.3 893.4,1459.5 899.8,1474.8 909.3,1478.6 918.8,1481.8 925.2,1489.4 931.5,1502.1 937.9,1511.6 944.2,1517.9 953.7,1524.3 960.1,1529.4 979.1,1527.4 985.5,1538.2 995.0,1542.0 1004.5,1543.3 1014.0,1542.0 1023.5,1543.3 1034.3,1544.6 1048.9,1546.5" fill="none" stroke="#0000ff" stroke-width="3.2" stroke-linejoin="round" stroke-linecap="round"/>
<g fill="#fff" stroke="#0000ff" stroke-width="4.4"><circle cx="569.7" cy="1232.3" r="10.5"/><circle cx="569.7" cy="1229.1" r="10.5"/><circle cx="615.4" cy="1300.9" r="10.5"/><circle cx="642.7" cy="1316.1" r="10.5"/><circle cx="668.1" cy="1322.4" r="10.5"/><circle cx="690.3" cy="1327.5" r="10.5"/><circle cx="709.4" cy="1330.7" r="10.5"/><circle cx="725.2" cy="1341.5" r="10.5"/><circle cx="737.9" cy="1359.3" r="10.5"/><circle cx="751.9" cy="1375.1" r="10.5"/><circle cx="765.2" cy="1394.2" r="10.5"/><circle cx="776.0" cy="1406.9" r="10.5"/><circle cx="787.4" cy="1420.2" r="10.5"/><circle cx="798.2" cy="1432.2" r="10.5"/><circle cx="807.7" cy="1440.5" r="10.5"/><circle cx="817.3" cy="1446.8" r="10.5"/><circle cx="826.8" cy="1451.3" r="10.5"/><circle cx="836.3" cy="1454.5" r="10.5"/><circle cx="845.8" cy="1458.3" r="10.5"/><circle cx="855.3" cy="1460.8" r="10.5"/><circle cx="864.9" cy="1464.0" r="10.5"/><circle cx="874.4" cy="1465.9" r="10.5"/><circle cx="883.9" cy="1470.3" r="10.5"/><circle cx="893.4" cy="1459.5" r="10.5"/><circle cx="899.8" cy="1474.8" r="10.5"/><circle cx="909.3" cy="1478.6" r="10.5"/><circle cx="918.8" cy="1481.8" r="10.5"/><circle cx="925.2" cy="1489.4" r="10.5"/><circle cx="931.5" cy="1502.1" r="10.5"/><circle cx="937.9" cy="1511.6" r="10.5"/><circle cx="944.2" cy="1517.9" r="10.5"/><circle cx="953.7" cy="1524.3" r="10.5"/><circle cx="960.1" cy="1529.4" r="10.5"/><circle cx="979.1" cy="1527.4" r="10.5"/><circle cx="985.5" cy="1538.2" r="10.5"/><circle cx="995.0" cy="1542.0" r="10.5"/><circle cx="1004.5" cy="1543.3" r="10.5"/><circle cx="1014.0" cy="1542.0" r="10.5"/><circle cx="1023.5" cy="1543.3" r="10.5"/><circle cx="1034.3" cy="1544.6" r="10.5"/></g>
</g>
<rect x="433.3" y="1174" width="607.4000000000001" height="372.5" fill="none" stroke="#000" stroke-width="4.4"/>
<line x1="416.5" y1="1546.5" x2="433.3" y2="1546.5" stroke="#000" stroke-width="4" />
<line x1="420.0" y1="1521.7" x2="433.3" y2="1521.7" stroke="#000" stroke-width="4" />
<line x1="420.0" y1="1496.8" x2="433.3" y2="1496.8" stroke="#000" stroke-width="4" />
<line x1="420.0" y1="1472.0" x2="433.3" y2="1472.0" stroke="#000" stroke-width="4" />
<line x1="420.0" y1="1447.2" x2="433.3" y2="1447.2" stroke="#000" stroke-width="4" />
<line x1="420.0" y1="1422.3" x2="433.3" y2="1422.3" stroke="#000" stroke-width="4" />
<line x1="420.0" y1="1397.5" x2="433.3" y2="1397.5" stroke="#000" stroke-width="4" />
<line x1="420.0" y1="1372.7" x2="433.3" y2="1372.7" stroke="#000" stroke-width="4" />
<line x1="420.0" y1="1347.8" x2="433.3" y2="1347.8" stroke="#000" stroke-width="4" />
<line x1="420.0" y1="1323.0" x2="433.3" y2="1323.0" stroke="#000" stroke-width="4" />
<line x1="416.5" y1="1298.2" x2="433.3" y2="1298.2" stroke="#000" stroke-width="4" />
<line x1="420.0" y1="1273.3" x2="433.3" y2="1273.3" stroke="#000" stroke-width="4" />
<line x1="420.0" y1="1248.5" x2="433.3" y2="1248.5" stroke="#000" stroke-width="4" />
<line x1="420.0" y1="1223.7" x2="433.3" y2="1223.7" stroke="#000" stroke-width="4" />
<line x1="420.0" y1="1198.8" x2="433.3" y2="1198.8" stroke="#000" stroke-width="4" />
<line x1="420.0" y1="1174.0" x2="433.3" y2="1174.0" stroke="#000" stroke-width="4" />
<line x1="1040.7" y1="1546.5" x2="1057.7" y2="1546.5" stroke="#000" stroke-width="4.4" />
<line x1="1040.7" y1="1527.5" x2="1053.2" y2="1527.5" stroke="#000" stroke-width="4.4" />
<line x1="1040.7" y1="1508.4" x2="1053.2" y2="1508.4" stroke="#000" stroke-width="4.4" />
<line x1="1040.7" y1="1489.4" x2="1053.2" y2="1489.4" stroke="#000" stroke-width="4.4" />
<line x1="1040.7" y1="1470.3" x2="1053.2" y2="1470.3" stroke="#000" stroke-width="4.4" />
<line x1="1040.7" y1="1451.3" x2="1057.7" y2="1451.3" stroke="#000" stroke-width="4.4" />
<line x1="1040.7" y1="1432.3" x2="1053.2" y2="1432.3" stroke="#000" stroke-width="4.4" />
<line x1="1040.7" y1="1413.2" x2="1053.2" y2="1413.2" stroke="#000" stroke-width="4.4" />
<line x1="1040.7" y1="1394.2" x2="1053.2" y2="1394.2" stroke="#000" stroke-width="4.4" />
<line x1="1040.7" y1="1375.1" x2="1053.2" y2="1375.1" stroke="#000" stroke-width="4.4" />
<line x1="1040.7" y1="1356.1" x2="1057.7" y2="1356.1" stroke="#000" stroke-width="4.4" />
<line x1="1040.7" y1="1337.1" x2="1053.2" y2="1337.1" stroke="#000" stroke-width="4.4" />
<line x1="1040.7" y1="1318.0" x2="1053.2" y2="1318.0" stroke="#000" stroke-width="4.4" />
<line x1="1040.7" y1="1299.0" x2="1053.2" y2="1299.0" stroke="#000" stroke-width="4.4" />
<line x1="1040.7" y1="1279.9" x2="1053.2" y2="1279.9" stroke="#000" stroke-width="4.4" />
<line x1="1040.7" y1="1260.9" x2="1057.7" y2="1260.9" stroke="#000" stroke-width="4.4" />
<line x1="1040.7" y1="1241.9" x2="1053.2" y2="1241.9" stroke="#000" stroke-width="4.4" />
<line x1="1040.7" y1="1222.8" x2="1053.2" y2="1222.8" stroke="#000" stroke-width="4.4" />
<line x1="1040.7" y1="1203.8" x2="1053.2" y2="1203.8" stroke="#000" stroke-width="4.4" />
<line x1="1040.7" y1="1184.7" x2="1053.2" y2="1184.7" stroke="#000" stroke-width="4.4" />
<line x1="433.3" y1="1546.5" x2="433.3" y2="1564.0" stroke="#000" stroke-width="3.5" />
<line x1="450.7" y1="1546.5" x2="450.7" y2="1560.0" stroke="#000" stroke-width="3.5" />
<line x1="468.0" y1="1546.5" x2="468.0" y2="1560.0" stroke="#000" stroke-width="3.5" />
<line x1="485.4" y1="1546.5" x2="485.4" y2="1560.0" stroke="#000" stroke-width="3.5" />
<line x1="502.7" y1="1546.5" x2="502.7" y2="1560.0" stroke="#000" stroke-width="3.5" />
<line x1="520.1" y1="1546.5" x2="520.1" y2="1560.0" stroke="#000" stroke-width="3.5" />
<line x1="537.4" y1="1546.5" x2="537.4" y2="1560.0" stroke="#000" stroke-width="3.5" />
<line x1="554.8" y1="1546.5" x2="554.8" y2="1560.0" stroke="#000" stroke-width="3.5" />
<line x1="572.1" y1="1546.5" x2="572.1" y2="1560.0" stroke="#000" stroke-width="3.5" />
<line x1="589.5" y1="1546.5" x2="589.5" y2="1560.0" stroke="#000" stroke-width="3.5" />
<line x1="606.8" y1="1546.5" x2="606.8" y2="1564.0" stroke="#000" stroke-width="3.5" />
<line x1="624.2" y1="1546.5" x2="624.2" y2="1560.0" stroke="#000" stroke-width="3.5" />
<line x1="641.6" y1="1546.5" x2="641.6" y2="1560.0" stroke="#000" stroke-width="3.5" />
<line x1="658.9" y1="1546.5" x2="658.9" y2="1560.0" stroke="#000" stroke-width="3.5" />
<line x1="676.3" y1="1546.5" x2="676.3" y2="1560.0" stroke="#000" stroke-width="3.5" />
<line x1="693.6" y1="1546.5" x2="693.6" y2="1560.0" stroke="#000" stroke-width="3.5" />
<line x1="711.0" y1="1546.5" x2="711.0" y2="1560.0" stroke="#000" stroke-width="3.5" />
<line x1="728.3" y1="1546.5" x2="728.3" y2="1560.0" stroke="#000" stroke-width="3.5" />
<line x1="745.7" y1="1546.5" x2="745.7" y2="1560.0" stroke="#000" stroke-width="3.5" />
<line x1="763.0" y1="1546.5" x2="763.0" y2="1560.0" stroke="#000" stroke-width="3.5" />
<line x1="780.4" y1="1546.5" x2="780.4" y2="1564.0" stroke="#000" stroke-width="3.5" />
<line x1="797.7" y1="1546.5" x2="797.7" y2="1560.0" stroke="#000" stroke-width="3.5" />
<line x1="815.1" y1="1546.5" x2="815.1" y2="1560.0" stroke="#000" stroke-width="3.5" />
<line x1="832.4" y1="1546.5" x2="832.4" y2="1560.0" stroke="#000" stroke-width="3.5" />
<line x1="849.8" y1="1546.5" x2="849.8" y2="1560.0" stroke="#000" stroke-width="3.5" />
<line x1="867.2" y1="1546.5" x2="867.2" y2="1560.0" stroke="#000" stroke-width="3.5" />
<line x1="884.5" y1="1546.5" x2="884.5" y2="1560.0" stroke="#000" stroke-width="3.5" />
<line x1="901.9" y1="1546.5" x2="901.9" y2="1560.0" stroke="#000" stroke-width="3.5" />
<line x1="919.2" y1="1546.5" x2="919.2" y2="1560.0" stroke="#000" stroke-width="3.5" />
<line x1="936.6" y1="1546.5" x2="936.6" y2="1560.0" stroke="#000" stroke-width="3.5" />
<line x1="953.9" y1="1546.5" x2="953.9" y2="1564.0" stroke="#000" stroke-width="3.5" />
<line x1="971.3" y1="1546.5" x2="971.3" y2="1560.0" stroke="#000" stroke-width="3.5" />
<line x1="988.6" y1="1546.5" x2="988.6" y2="1560.0" stroke="#000" stroke-width="3.5" />
<line x1="1006.0" y1="1546.5" x2="1006.0" y2="1560.0" stroke="#000" stroke-width="3.5" />
<line x1="1023.3" y1="1546.5" x2="1023.3" y2="1560.0" stroke="#000" stroke-width="3.5" />
<line x1="1040.7" y1="1546.5" x2="1040.7" y2="1560.0" stroke="#000" stroke-width="3.5" />
<text transform="translate(396.0,1319.3) scale(0.9500,1)" font-size="57.3" text-anchor="end" stroke="#000" stroke-width="1.1">40</text>
<text transform="translate(396.0,1567.6) scale(0.9500,1)" font-size="57.3" text-anchor="end" stroke="#000" stroke-width="1.1">30</text>
<text transform="translate(433.6,1639.0) scale(0.9700,1)" font-size="53.8" text-anchor="middle" stroke="#000" stroke-width="1.1">10</text>
<text transform="translate(607.1,1639.0) scale(0.9700,1)" font-size="53.8" text-anchor="middle" stroke="#000" stroke-width="1.1">20</text>
<text transform="translate(780.7,1639.0) scale(0.9700,1)" font-size="53.8" text-anchor="middle" stroke="#000" stroke-width="1.1">30</text>
<text transform="translate(954.2,1639.0) scale(0.9700,1)" font-size="53.8" text-anchor="middle" stroke="#000" stroke-width="1.1">40</text>
<text transform="translate(1081.0,1562.4) scale(0.9456,1)" font-size="55.5" stroke="#000" stroke-width="1.1">0.0</text>
<text transform="translate(1081.0,1467.2) scale(0.9456,1)" font-size="55.5" stroke="#000" stroke-width="1.1">0.1</text>
<text transform="translate(1081.0,1372.0) scale(0.9456,1)" font-size="55.5" stroke="#000" stroke-width="1.1">0.2</text>
<text transform="translate(1081.0,1276.8) scale(0.9456,1)" font-size="55.5" stroke="#000" stroke-width="1.1">0.3</text>
<text transform="translate(755.2,1702.1) scale(1.0400,1)" font-size="51.4" text-anchor="middle" stroke="#000" stroke-width="1.1">T (K)</text>
<text transform="translate(352.8,1146.0)" font-size="52.0" stroke="#000" stroke-width="1.1">E (GPa)</text>
<text transform="translate(1046.7,1168.8) scale(0.9535,1)" font-size="60.3" font-family="'DejaVu Serif',serif" stroke="#000" stroke-width="1.1">δ</text>
<text transform="translate(592.8,1432.0) scale(0.9570,1)" font-size="63.8" stroke="#000" stroke-width="1.1">E</text>
<text transform="translate(699.5,1316.0) scale(0.9470,1)" font-size="61.4" font-family="'DejaVu Serif',serif" fill="#0000ff" stroke="#0000ff" stroke-width="1.1">δ</text>
<g id="dataC">
<polyline points="718.5,2653.8 738.2,2646.4 787.6,2644.9 827.0,2646.4 861.6,2644.9 901.1,2646.4 935.7,2641.5 960.4,2644.0 990.0,2636.5 1039.4,2639.0 1073.9,2636.5 1098.6,2634.0 1133.2,2633.0 1162.8,2629.1 1192.4,2629.1 1222.0,2626.6 1259.0,2614.3 1300.0,2614.3 1327.6,2606.5 1405.2,2600.7 1498.3,2591.0 1560.3,2593.0 1657.3,2587.2 1731.0,2587.2" fill="none" stroke="#000080" stroke-width="4.5" stroke-linejoin="round" stroke-linecap="round"/>
<g fill="#000080"><polygon points="707.5,2653.8 718.5,2640.8 729.5,2653.8 718.5,2666.8"/><polygon points="727.2,2646.4 738.2,2633.4 749.2,2646.4 738.2,2659.4"/><polygon points="751.9,2645.7 762.9,2632.7 773.9,2645.7 762.9,2658.7"/><polygon points="776.6,2644.9 787.6,2631.9 798.6,2644.9 787.6,2657.9"/><polygon points="796.3,2645.7 807.3,2632.7 818.3,2645.7 807.3,2658.7"/><polygon points="816.0,2646.4 827.0,2633.4 838.0,2646.4 827.0,2659.4"/><polygon points="833.3,2645.7 844.3,2632.7 855.3,2645.7 844.3,2658.7"/><polygon points="850.6,2644.9 861.6,2631.9 872.6,2644.9 861.6,2657.9"/><polygon points="870.4,2645.7 881.4,2632.7 892.4,2645.7 881.4,2658.7"/><polygon points="890.1,2646.4 901.1,2633.4 912.1,2646.4 901.1,2659.4"/><polygon points="907.4,2643.9 918.4,2630.9 929.4,2643.9 918.4,2656.9"/><polygon points="924.7,2641.5 935.7,2628.5 946.7,2641.5 935.7,2654.5"/><polygon points="949.4,2644.0 960.4,2631.0 971.4,2644.0 960.4,2657.0"/><polygon points="979.0,2636.5 990.0,2623.5 1001.0,2636.5 990.0,2649.5"/><polygon points="1003.7,2637.8 1014.7,2624.8 1025.7,2637.8 1014.7,2650.8"/><polygon points="1028.4,2639.0 1039.4,2626.0 1050.4,2639.0 1039.4,2652.0"/><polygon points="1045.7,2637.8 1056.7,2624.8 1067.7,2637.8 1056.7,2650.8"/><polygon points="1062.9,2636.5 1073.9,2623.5 1084.9,2636.5 1073.9,2649.5"/><polygon points="1087.6,2634.0 1098.6,2621.0 1109.6,2634.0 1098.6,2647.0"/><polygon points="1104.9,2633.5 1115.9,2620.5 1126.9,2633.5 1115.9,2646.5"/><polygon points="1122.2,2633.0 1133.2,2620.0 1144.2,2633.0 1133.2,2646.0"/><polygon points="1151.8,2629.1 1162.8,2616.1 1173.8,2629.1 1162.8,2642.1"/><polygon points="1181.4,2629.1 1192.4,2616.1 1203.4,2629.1 1192.4,2642.1"/><polygon points="1211.0,2626.6 1222.0,2613.6 1233.0,2626.6 1222.0,2639.6"/><polygon points="1229.5,2620.4 1240.5,2607.4 1251.5,2620.4 1240.5,2633.4"/><polygon points="1248.0,2614.3 1259.0,2601.3 1270.0,2614.3 1259.0,2627.3"/><polygon points="1268.5,2614.3 1279.5,2601.3 1290.5,2614.3 1279.5,2627.3"/><polygon points="1289.0,2614.3 1300.0,2601.3 1311.0,2614.3 1300.0,2627.3"/><polygon points="1316.6,2606.5 1327.6,2593.5 1338.6,2606.5 1327.6,2619.5"/><polygon points="1342.5,2604.6 1353.5,2591.6 1364.5,2604.6 1353.5,2617.6"/><polygon points="1368.3,2602.6 1379.3,2589.6 1390.3,2602.6 1379.3,2615.6"/><polygon points="1394.2,2600.7 1405.2,2587.7 1416.2,2600.7 1405.2,2613.7"/><polygon points="1425.2,2597.5 1436.2,2584.5 1447.2,2597.5 1436.2,2610.5"/><polygon points="1456.3,2594.2 1467.3,2581.2 1478.3,2594.2 1467.3,2607.2"/><polygon points="1487.3,2591.0 1498.3,2578.0 1509.3,2591.0 1498.3,2604.0"/><polygon points="1518.3,2592.0 1529.3,2579.0 1540.3,2592.0 1529.3,2605.0"/><polygon points="1549.3,2593.0 1560.3,2580.0 1571.3,2593.0 1560.3,2606.0"/><polygon points="1581.6,2591.1 1592.6,2578.1 1603.6,2591.1 1592.6,2604.1"/><polygon points="1614.0,2589.1 1625.0,2576.1 1636.0,2589.1 1625.0,2602.1"/><polygon points="1646.3,2587.2 1657.3,2574.2 1668.3,2587.2 1657.3,2600.2"/><polygon points="1670.9,2587.2 1681.9,2574.2 1692.9,2587.2 1681.9,2600.2"/><polygon points="1695.4,2587.2 1706.4,2574.2 1717.4,2587.2 1706.4,2600.2"/><polygon points="1720.0,2587.2 1731.0,2574.2 1742.0,2587.2 1731.0,2600.2"/></g>
<polyline points="637.0,2690.8 661.7,2690.8 696.3,2683.4 735.8,2681.0 782.7,2685.9 817.2,2681.0 837.0,2676.0 876.4,2673.5 935.7,2668.6 970.2,2666.1 1044.3,2661.2 1093.6,2656.3 1143.0,2651.3 1192.4,2646.4 1241.8,2639.0 1300.0,2634.0 1400.0,2626.0 1500.0,2618.0 1600.0,2612.0 1660.0,2610.0 1729.0,2606.5" fill="none" stroke="#9640ff" stroke-width="4" stroke-linejoin="round" stroke-linecap="round"/>
<g fill="#9640ff"><rect x="626.5" y="2680.3" width="21" height="21"/><rect x="651.2" y="2680.3" width="21" height="21"/><rect x="668.5" y="2676.6" width="21" height="21"/><rect x="685.8" y="2672.9" width="21" height="21"/><rect x="705.5" y="2671.7" width="21" height="21"/><rect x="725.3" y="2670.5" width="21" height="21"/><rect x="748.8" y="2672.9" width="21" height="21"/><rect x="772.2" y="2675.4" width="21" height="21"/><rect x="789.5" y="2672.9" width="21" height="21"/><rect x="806.7" y="2670.5" width="21" height="21"/><rect x="826.5" y="2665.5" width="21" height="21"/><rect x="846.2" y="2664.2" width="21" height="21"/><rect x="865.9" y="2663.0" width="21" height="21"/><rect x="885.7" y="2661.4" width="21" height="21"/><rect x="905.4" y="2659.7" width="21" height="21"/><rect x="925.2" y="2658.1" width="21" height="21"/><rect x="942.5" y="2656.8" width="21" height="21"/><rect x="959.7" y="2655.6" width="21" height="21"/><rect x="984.4" y="2654.0" width="21" height="21"/><rect x="1009.1" y="2652.3" width="21" height="21"/><rect x="1033.8" y="2650.7" width="21" height="21"/><rect x="1058.4" y="2648.2" width="21" height="21"/><rect x="1083.1" y="2645.8" width="21" height="21"/><rect x="1107.8" y="2643.3" width="21" height="21"/><rect x="1132.5" y="2640.8" width="21" height="21"/><rect x="1157.2" y="2638.4" width="21" height="21"/><rect x="1181.9" y="2635.9" width="21" height="21"/><rect x="1206.6" y="2632.2" width="21" height="21"/><rect x="1231.3" y="2628.5" width="21" height="21"/><rect x="1250.7" y="2626.8" width="21" height="21"/><rect x="1270.1" y="2625.2" width="21" height="21"/><rect x="1289.5" y="2623.5" width="21" height="21"/><rect x="1314.5" y="2621.5" width="21" height="21"/><rect x="1339.5" y="2619.5" width="21" height="21"/><rect x="1364.5" y="2617.5" width="21" height="21"/><rect x="1389.5" y="2615.5" width="21" height="21"/><rect x="1414.5" y="2613.5" width="21" height="21"/><rect x="1439.5" y="2611.5" width="21" height="21"/><rect x="1464.5" y="2609.5" width="21" height="21"/><rect x="1489.5" y="2607.5" width="21" height="21"/><rect x="1514.5" y="2606.0" width="21" height="21"/><rect x="1539.5" y="2604.5" width="21" height="21"/><rect x="1564.5" y="2603.0" width="21" height="21"/><rect x="1589.5" y="2601.5" width="21" height="21"/><rect x="1609.5" y="2600.8" width="21" height="21"/><rect x="1629.5" y="2600.2" width="21" height="21"/><rect x="1649.5" y="2599.5" width="21" height="21"/><rect x="1672.5" y="2598.3" width="21" height="21"/><rect x="1695.5" y="2597.2" width="21" height="21"/><rect x="1718.5" y="2596.0" width="21" height="21"/></g>
<polyline points="666.6,2703.2 698.7,2700.7 733.3,2698.2 777.7,2700.7 822.1,2698.2 866.6,2690.8 896.2,2681.0 935.7,2681.0 975.2,2678.5 1019.6,2673.5 1078.8,2666.1 1143.0,2653.8 1192.4,2648.9 1241.8,2643.9 1300.0,2634.0 1400.0,2625.0 1500.0,2616.0 1600.0,2608.0 1660.0,2602.0 1729.0,2606.5" fill="none" stroke="#66ffcc" stroke-width="3.5" stroke-linejoin="round" stroke-linecap="round"/>
<path d="M656.6,2693.2L676.6,2713.2M656.6,2713.2L676.6,2693.2M672.7,2691.9L692.7,2711.9M672.7,2711.9L692.7,2691.9M688.7,2690.7L708.7,2710.7M688.7,2710.7L708.7,2690.7M706.0,2689.4L726.0,2709.4M706.0,2709.4L726.0,2689.4M723.3,2688.2L743.3,2708.2M723.3,2708.2L743.3,2688.2M745.5,2689.4L765.5,2709.4M745.5,2709.4L765.5,2689.4M767.7,2690.7L787.7,2710.7M767.7,2710.7L787.7,2690.7M789.9,2689.4L809.9,2709.4M789.9,2709.4L809.9,2689.4M812.1,2688.2L832.1,2708.2M812.1,2708.2L832.1,2688.2M834.4,2684.5L854.4,2704.5M834.4,2704.5L854.4,2684.5M856.6,2680.8L876.6,2700.8M856.6,2700.8L876.6,2680.8M871.4,2675.9L891.4,2695.9M871.4,2695.9L891.4,2675.9M886.2,2671.0L906.2,2691.0M886.2,2691.0L906.2,2671.0M906.0,2671.0L926.0,2691.0M906.0,2691.0L926.0,2671.0M925.7,2671.0L945.7,2691.0M925.7,2691.0L945.7,2671.0M945.5,2669.8L965.5,2689.8M945.5,2689.8L965.5,2669.8M965.2,2668.5L985.2,2688.5M965.2,2688.5L985.2,2668.5M987.4,2666.0L1007.4,2686.0M987.4,2686.0L1007.4,2666.0M1009.6,2663.5L1029.6,2683.5M1009.6,2683.5L1029.6,2663.5M1029.3,2661.0L1049.3,2681.0M1029.3,2681.0L1049.3,2661.0M1049.1,2658.6L1069.1,2678.6M1049.1,2678.6L1069.1,2658.6M1068.8,2656.1L1088.8,2676.1M1068.8,2676.1L1088.8,2656.1M1090.2,2652.0L1110.2,2672.0M1090.2,2672.0L1110.2,2652.0M1111.6,2647.9L1131.6,2667.9M1111.6,2667.9L1131.6,2647.9M1133.0,2643.8L1153.0,2663.8M1133.0,2663.8L1153.0,2643.8M1149.5,2642.2L1169.5,2662.2M1149.5,2662.2L1169.5,2642.2M1165.9,2640.5L1185.9,2660.5M1165.9,2660.5L1185.9,2640.5M1182.4,2638.9L1202.4,2658.9M1182.4,2658.9L1202.4,2638.9M1198.9,2637.2L1218.9,2657.2M1198.9,2657.2L1218.9,2637.2M1215.3,2635.6L1235.3,2655.6M1215.3,2655.6L1235.3,2635.6M1231.8,2633.9L1251.8,2653.9M1231.8,2653.9L1251.8,2633.9M1251.2,2630.6L1271.2,2650.6M1251.2,2650.6L1271.2,2630.6M1270.6,2627.3L1290.6,2647.3M1270.6,2647.3L1290.6,2627.3M1290.0,2624.0L1310.0,2644.0M1290.0,2644.0L1310.0,2624.0M1310.0,2622.2L1330.0,2642.2M1310.0,2642.2L1330.0,2622.2M1330.0,2620.4L1350.0,2640.4M1330.0,2640.4L1350.0,2620.4M1350.0,2618.6L1370.0,2638.6M1350.0,2638.6L1370.0,2618.6M1370.0,2616.8L1390.0,2636.8M1370.0,2636.8L1390.0,2616.8M1390.0,2615.0L1410.0,2635.0M1390.0,2635.0L1410.0,2615.0M1410.0,2613.2L1430.0,2633.2M1410.0,2633.2L1430.0,2613.2M1430.0,2611.4L1450.0,2631.4M1430.0,2631.4L1450.0,2611.4M1450.0,2609.6L1470.0,2629.6M1450.0,2629.6L1470.0,2609.6M1470.0,2607.8L1490.0,2627.8M1470.0,2627.8L1490.0,2607.8M1490.0,2606.0L1510.0,2626.0M1490.0,2626.0L1510.0,2606.0M1510.0,2604.4L1530.0,2624.4M1510.0,2624.4L1530.0,2604.4M1530.0,2602.8L1550.0,2622.8M1530.0,2622.8L1550.0,2602.8M1550.0,2601.2L1570.0,2621.2M1550.0,2621.2L1570.0,2601.2M1570.0,2599.6L1590.0,2619.6M1570.0,2619.6L1590.0,2599.6M1590.0,2598.0L1610.0,2618.0M1590.0,2618.0L1610.0,2598.0M1610.0,2596.0L1630.0,2616.0M1610.0,2616.0L1630.0,2596.0M1630.0,2594.0L1650.0,2614.0M1630.0,2614.0L1650.0,2594.0M1650.0,2592.0L1670.0,2612.0M1650.0,2612.0L1670.0,2592.0M1673.0,2593.5L1693.0,2613.5M1673.0,2613.5L1693.0,2593.5M1696.0,2595.0L1716.0,2615.0M1696.0,2615.0L1716.0,2595.0M1719.0,2596.5L1739.0,2616.5M1719.0,2616.5L1739.0,2596.5" stroke="#66ffcc" stroke-width="3.5" fill="none"/>
<polyline points="767.8,2725.4 807.3,2722.9 841.9,2722.9 876.4,2715.5 906.1,2710.6 945.6,2703.2 985.0,2700.7 1024.5,2698.2 1064.0,2690.8 1093.6,2685.9 1133.2,2678.5 1192.4,2671.1 1241.8,2663.7 1300.0,2656.3 1400.0,2645.0 1500.0,2634.0 1600.0,2622.0 1692.2,2606.5" fill="none" stroke="#5a00f0" stroke-width="4" stroke-linejoin="round" stroke-linecap="round"/>
<path d="M755.8,2713.4L779.8,2737.4M755.8,2737.4L779.8,2713.4M767.8,2713.4L767.8,2737.4M775.5,2712.2L799.5,2736.2M775.5,2736.2L799.5,2712.2M787.5,2712.2L787.5,2736.2M795.3,2710.9L819.3,2734.9M795.3,2734.9L819.3,2710.9M807.3,2710.9L807.3,2734.9M812.6,2710.9L836.6,2734.9M812.6,2734.9L836.6,2710.9M824.6,2710.9L824.6,2734.9M829.9,2710.9L853.9,2734.9M829.9,2734.9L853.9,2710.9M841.9,2710.9L841.9,2734.9M847.1,2707.2L871.1,2731.2M847.1,2731.2L871.1,2707.2M859.1,2707.2L859.1,2731.2M864.4,2703.5L888.4,2727.5M864.4,2727.5L888.4,2703.5M876.4,2703.5L876.4,2727.5M879.2,2701.1L903.2,2725.1M879.2,2725.1L903.2,2701.1M891.2,2701.1L891.2,2725.1M894.1,2698.6L918.1,2722.6M894.1,2722.6L918.1,2698.6M906.1,2698.6L906.1,2722.6M907.3,2696.1L931.3,2720.1M907.3,2720.1L931.3,2696.1M919.3,2696.1L919.3,2720.1M920.4,2693.7L944.4,2717.7M920.4,2717.7L944.4,2693.7M932.4,2693.7L932.4,2717.7M933.6,2691.2L957.6,2715.2M933.6,2715.2L957.6,2691.2M945.6,2691.2L945.6,2715.2M953.3,2689.9L977.3,2713.9M953.3,2713.9L977.3,2689.9M965.3,2689.9L965.3,2713.9M973.0,2688.7L997.0,2712.7M973.0,2712.7L997.0,2688.7M985.0,2688.7L985.0,2712.7M992.8,2687.4L1016.8,2711.4M992.8,2711.4L1016.8,2687.4M1004.8,2687.4L1004.8,2711.4M1012.5,2686.2L1036.5,2710.2M1012.5,2710.2L1036.5,2686.2M1024.5,2686.2L1024.5,2710.2M1025.7,2683.7L1049.7,2707.7M1025.7,2707.7L1049.7,2683.7M1037.7,2683.7L1037.7,2707.7M1038.8,2681.3L1062.8,2705.3M1038.8,2705.3L1062.8,2681.3M1050.8,2681.3L1050.8,2705.3M1052.0,2678.8L1076.0,2702.8M1052.0,2702.8L1076.0,2678.8M1064.0,2678.8L1064.0,2702.8M1066.8,2676.4L1090.8,2700.4M1066.8,2700.4L1090.8,2676.4M1078.8,2676.4L1078.8,2700.4M1081.6,2673.9L1105.6,2697.9M1081.6,2697.9L1105.6,2673.9M1093.6,2673.9L1093.6,2697.9M1094.8,2671.4L1118.8,2695.4M1094.8,2695.4L1118.8,2671.4M1106.8,2671.4L1106.8,2695.4M1108.0,2669.0L1132.0,2693.0M1108.0,2693.0L1132.0,2669.0M1120.0,2669.0L1120.0,2693.0M1121.2,2666.5L1145.2,2690.5M1121.2,2690.5L1145.2,2666.5M1133.2,2666.5L1133.2,2690.5M1140.9,2664.0L1164.9,2688.0M1140.9,2688.0L1164.9,2664.0M1152.9,2664.0L1152.9,2688.0M1160.7,2661.6L1184.7,2685.6M1160.7,2685.6L1184.7,2661.6M1172.7,2661.6L1172.7,2685.6M1180.4,2659.1L1204.4,2683.1M1180.4,2683.1L1204.4,2659.1M1192.4,2659.1L1192.4,2683.1M1196.9,2656.6L1220.9,2680.6M1196.9,2680.6L1220.9,2656.6M1208.9,2656.6L1208.9,2680.6M1213.3,2654.2L1237.3,2678.2M1213.3,2678.2L1237.3,2654.2M1225.3,2654.2L1225.3,2678.2M1229.8,2651.7L1253.8,2675.7M1229.8,2675.7L1253.8,2651.7M1241.8,2651.7L1241.8,2675.7M1249.2,2649.2L1273.2,2673.2M1249.2,2673.2L1273.2,2649.2M1261.2,2649.2L1261.2,2673.2M1268.6,2646.8L1292.6,2670.8M1268.6,2670.8L1292.6,2646.8M1280.6,2646.8L1280.6,2670.8M1288.0,2644.3L1312.0,2668.3M1288.0,2668.3L1312.0,2644.3M1300.0,2644.3L1300.0,2668.3M1304.7,2642.4L1328.7,2666.4M1304.7,2666.4L1328.7,2642.4M1316.7,2642.4L1316.7,2666.4M1321.3,2640.5L1345.3,2664.5M1321.3,2664.5L1345.3,2640.5M1333.3,2640.5L1333.3,2664.5M1338.0,2638.7L1362.0,2662.7M1338.0,2662.7L1362.0,2638.7M1350.0,2638.7L1350.0,2662.7M1354.7,2636.8L1378.7,2660.8M1354.7,2660.8L1378.7,2636.8M1366.7,2636.8L1366.7,2660.8M1371.3,2634.9L1395.3,2658.9M1371.3,2658.9L1395.3,2634.9M1383.3,2634.9L1383.3,2658.9M1388.0,2633.0L1412.0,2657.0M1388.0,2657.0L1412.0,2633.0M1400.0,2633.0L1400.0,2657.0M1404.7,2631.2L1428.7,2655.2M1404.7,2655.2L1428.7,2631.2M1416.7,2631.2L1416.7,2655.2M1421.3,2629.3L1445.3,2653.3M1421.3,2653.3L1445.3,2629.3M1433.3,2629.3L1433.3,2653.3M1438.0,2627.5L1462.0,2651.5M1438.0,2651.5L1462.0,2627.5M1450.0,2627.5L1450.0,2651.5M1454.7,2625.7L1478.7,2649.7M1454.7,2649.7L1478.7,2625.7M1466.7,2625.7L1466.7,2649.7M1471.3,2623.8L1495.3,2647.8M1471.3,2647.8L1495.3,2623.8M1483.3,2623.8L1483.3,2647.8M1488.0,2622.0L1512.0,2646.0M1488.0,2646.0L1512.0,2622.0M1500.0,2622.0L1500.0,2646.0M1504.7,2620.0L1528.7,2644.0M1504.7,2644.0L1528.7,2620.0M1516.7,2620.0L1516.7,2644.0M1521.3,2618.0L1545.3,2642.0M1521.3,2642.0L1545.3,2618.0M1533.3,2618.0L1533.3,2642.0M1538.0,2616.0L1562.0,2640.0M1538.0,2640.0L1562.0,2616.0M1550.0,2616.0L1550.0,2640.0M1554.7,2614.0L1578.7,2638.0M1554.7,2638.0L1578.7,2614.0M1566.7,2614.0L1566.7,2638.0M1571.3,2612.0L1595.3,2636.0M1571.3,2636.0L1595.3,2612.0M1583.3,2612.0L1583.3,2636.0M1588.0,2610.0L1612.0,2634.0M1588.0,2634.0L1612.0,2610.0M1600.0,2610.0L1600.0,2634.0M1606.4,2606.9L1630.4,2630.9M1606.4,2630.9L1630.4,2606.9M1618.4,2606.9L1618.4,2630.9M1624.9,2603.8L1648.9,2627.8M1624.9,2627.8L1648.9,2603.8M1636.9,2603.8L1636.9,2627.8M1643.3,2600.7L1667.3,2624.7M1643.3,2624.7L1667.3,2600.7M1655.3,2600.7L1655.3,2624.7M1661.8,2597.6L1685.8,2621.6M1661.8,2621.6L1685.8,2597.6M1673.8,2597.6L1673.8,2621.6M1680.2,2594.5L1704.2,2618.5M1680.2,2618.5L1704.2,2594.5M1692.2,2594.5L1692.2,2618.5" stroke="#5a00f0" stroke-width="4.5" fill="none"/>
<polyline points="661.7,2776.9 688.2,2774.0 705.8,2774.0 734.0,2768.8 755.1,2765.2 771.0,2767.0 802.7,2763.5 846.8,2765.2 875.0,2761.7 889.1,2752.9 920.9,2749.4 943.8,2744.1 963.2,2738.8 987.9,2733.5 1017.8,2731.7 1053.1,2728.2 1076.0,2721.2 1100.0,2722.9 1143.0,2710.6 1192.4,2703.2 1250.0,2691.9 1366.4,2664.7 1482.7,2643.4 1599.1,2629.8 1700.0,2618.2" fill="none" stroke="#129a68" stroke-width="3.5" stroke-linejoin="round" stroke-linecap="round"/>
<polyline points="748.1,2745.8 760.0,2755.0 823.9,2756.4 855.6,2754.7 889.1,2752.9" fill="none" stroke="#129a68" stroke-width="3.5" stroke-linejoin="round" stroke-linecap="round"/>
<path d="M661.7,2765.9L661.7,2787.9M650.7,2776.9L672.7,2776.9M675.0,2764.4L675.0,2786.4M664.0,2775.4L686.0,2775.4M688.2,2763.0L688.2,2785.0M677.2,2774.0L699.2,2774.0M705.8,2763.0L705.8,2785.0M694.8,2774.0L716.8,2774.0M719.9,2760.4L719.9,2782.4M708.9,2771.4L730.9,2771.4M734.0,2757.8L734.0,2779.8M723.0,2768.8L745.0,2768.8M755.1,2754.2L755.1,2776.2M744.1,2765.2L766.1,2765.2M771.0,2756.0L771.0,2778.0M760.0,2767.0L782.0,2767.0M786.9,2754.2L786.9,2776.2M775.9,2765.2L797.9,2765.2M802.7,2752.5L802.7,2774.5M791.7,2763.5L813.7,2763.5M824.8,2753.3L824.8,2775.3M813.8,2764.3L835.8,2764.3M846.8,2754.2L846.8,2776.2M835.8,2765.2L857.8,2765.2M860.9,2752.4L860.9,2774.4M849.9,2763.4L871.9,2763.4M875.0,2750.7L875.0,2772.7M864.0,2761.7L886.0,2761.7M889.1,2741.9L889.1,2763.9M878.1,2752.9L900.1,2752.9M905.0,2740.2L905.0,2762.2M894.0,2751.2L916.0,2751.2M920.9,2738.4L920.9,2760.4M909.9,2749.4L931.9,2749.4M943.8,2733.1L943.8,2755.1M932.8,2744.1L954.8,2744.1M963.2,2727.8L963.2,2749.8M952.2,2738.8L974.2,2738.8M987.9,2722.5L987.9,2744.5M976.9,2733.5L998.9,2733.5M1002.8,2721.6L1002.8,2743.6M991.8,2732.6L1013.8,2732.6M1017.8,2720.7L1017.8,2742.7M1006.8,2731.7L1028.8,2731.7M1035.4,2718.9L1035.4,2740.9M1024.4,2729.9L1046.4,2729.9M1053.1,2717.2L1053.1,2739.2M1042.1,2728.2L1064.1,2728.2M1076.0,2710.2L1076.0,2732.2M1065.0,2721.2L1087.0,2721.2M1100.0,2711.9L1100.0,2733.9M1089.0,2722.9L1111.0,2722.9M1121.5,2705.8L1121.5,2727.8M1110.5,2716.8L1132.5,2716.8M1143.0,2699.6L1143.0,2721.6M1132.0,2710.6L1154.0,2710.6M1167.7,2695.9L1167.7,2717.9M1156.7,2706.9L1178.7,2706.9M1192.4,2692.2L1192.4,2714.2M1181.4,2703.2L1203.4,2703.2M1211.6,2688.4L1211.6,2710.4M1200.6,2699.4L1222.6,2699.4M1230.8,2684.7L1230.8,2706.7M1219.8,2695.7L1241.8,2695.7M1250.0,2680.9L1250.0,2702.9M1239.0,2691.9L1261.0,2691.9M1273.3,2675.5L1273.3,2697.5M1262.3,2686.5L1284.3,2686.5M1296.6,2670.0L1296.6,2692.0M1285.6,2681.0L1307.6,2681.0M1319.8,2664.6L1319.8,2686.6M1308.8,2675.6L1330.8,2675.6M1343.1,2659.1L1343.1,2681.1M1332.1,2670.1L1354.1,2670.1M1366.4,2653.7L1366.4,2675.7M1355.4,2664.7L1377.4,2664.7M1389.7,2649.4L1389.7,2671.4M1378.7,2660.4L1400.7,2660.4M1412.9,2645.2L1412.9,2667.2M1401.9,2656.2L1423.9,2656.2M1436.2,2640.9L1436.2,2662.9M1425.2,2651.9L1447.2,2651.9M1459.4,2636.7L1459.4,2658.7M1448.4,2647.7L1470.4,2647.7M1482.7,2632.4L1482.7,2654.4M1471.7,2643.4L1493.7,2643.4M1506.0,2629.7L1506.0,2651.7M1495.0,2640.7L1517.0,2640.7M1529.3,2627.0L1529.3,2649.0M1518.3,2638.0L1540.3,2638.0M1552.5,2624.2L1552.5,2646.2M1541.5,2635.2L1563.5,2635.2M1575.8,2621.5L1575.8,2643.5M1564.8,2632.5L1586.8,2632.5M1599.1,2618.8L1599.1,2640.8M1588.1,2629.8L1610.1,2629.8M1624.3,2615.9L1624.3,2637.9M1613.3,2626.9L1635.3,2626.9M1649.5,2613.0L1649.5,2635.0M1638.5,2624.0L1660.5,2624.0M1674.8,2610.1L1674.8,2632.1M1663.8,2621.1L1685.8,2621.1M1700.0,2607.2L1700.0,2629.2M1689.0,2618.2L1711.0,2618.2M748.1,2734.8L748.1,2756.8M737.1,2745.8L759.1,2745.8M760.0,2744.0L760.0,2766.0M749.0,2755.0L771.0,2755.0M823.9,2745.4L823.9,2767.4M812.9,2756.4L834.9,2756.4M855.6,2743.7L855.6,2765.7M844.6,2754.7L866.6,2754.7M889.1,2741.9L889.1,2763.9M878.1,2752.9L900.1,2752.9" stroke="#129a68" stroke-width="3.5" fill="none"/>
<polyline points="859.2,2826.9 892.7,2823.4 927.9,2821.7 952.6,2818.1 987.9,2812.8 1040.8,2802.3 1100.0,2784.6 1167.7,2767.3 1250.0,2742.3 1366.4,2703.5 1482.7,2672.5 1599.1,2649.2 1692.2,2635.6" fill="none" stroke="#1840ff" stroke-width="4.5" stroke-linejoin="round" stroke-linecap="round"/>
<g fill="#1840ff"><rect x="853.2" y="2823.4" width="12" height="7" rx="2"/><rect x="870.0" y="2821.7" width="12" height="7" rx="2"/><rect x="886.7" y="2819.9" width="12" height="7" rx="2"/><rect x="904.3" y="2819.1" width="12" height="7" rx="2"/><rect x="921.9" y="2818.2" width="12" height="7" rx="2"/><rect x="934.2" y="2816.4" width="12" height="7" rx="2"/><rect x="946.6" y="2814.6" width="12" height="7" rx="2"/><rect x="964.2" y="2811.9" width="12" height="7" rx="2"/><rect x="981.9" y="2809.3" width="12" height="7" rx="2"/><rect x="999.5" y="2805.8" width="12" height="7" rx="2"/><rect x="1017.2" y="2802.3" width="12" height="7" rx="2"/><rect x="1034.8" y="2798.8" width="12" height="7" rx="2"/><rect x="1054.5" y="2792.9" width="12" height="7" rx="2"/><rect x="1074.3" y="2787.0" width="12" height="7" rx="2"/><rect x="1094.0" y="2781.1" width="12" height="7" rx="2"/><rect x="1110.9" y="2776.8" width="12" height="7" rx="2"/><rect x="1127.8" y="2772.4" width="12" height="7" rx="2"/><rect x="1144.8" y="2768.1" width="12" height="7" rx="2"/><rect x="1161.7" y="2763.8" width="12" height="7" rx="2"/><rect x="1182.3" y="2757.6" width="12" height="7" rx="2"/><rect x="1202.8" y="2751.3" width="12" height="7" rx="2"/><rect x="1223.4" y="2745.1" width="12" height="7" rx="2"/><rect x="1244.0" y="2738.8" width="12" height="7" rx="2"/><rect x="1263.4" y="2732.3" width="12" height="7" rx="2"/><rect x="1282.8" y="2725.9" width="12" height="7" rx="2"/><rect x="1302.2" y="2719.4" width="12" height="7" rx="2"/><rect x="1321.6" y="2712.9" width="12" height="7" rx="2"/><rect x="1341.0" y="2706.5" width="12" height="7" rx="2"/><rect x="1360.4" y="2700.0" width="12" height="7" rx="2"/><rect x="1379.8" y="2694.8" width="12" height="7" rx="2"/><rect x="1399.2" y="2689.7" width="12" height="7" rx="2"/><rect x="1418.6" y="2684.5" width="12" height="7" rx="2"/><rect x="1437.9" y="2679.3" width="12" height="7" rx="2"/><rect x="1457.3" y="2674.2" width="12" height="7" rx="2"/><rect x="1476.7" y="2669.0" width="12" height="7" rx="2"/><rect x="1496.1" y="2665.1" width="12" height="7" rx="2"/><rect x="1515.5" y="2661.2" width="12" height="7" rx="2"/><rect x="1534.9" y="2657.3" width="12" height="7" rx="2"/><rect x="1554.3" y="2653.5" width="12" height="7" rx="2"/><rect x="1573.7" y="2649.6" width="12" height="7" rx="2"/><rect x="1593.1" y="2645.7" width="12" height="7" rx="2"/><rect x="1611.7" y="2643.0" width="12" height="7" rx="2"/><rect x="1630.3" y="2640.3" width="12" height="7" rx="2"/><rect x="1649.0" y="2637.5" width="12" height="7" rx="2"/><rect x="1667.6" y="2634.8" width="12" height="7" rx="2"/><rect x="1686.2" y="2632.1" width="12" height="7" rx="2"/></g>
<polyline points="987.9,2819.8 1040.8,2809.3 1100.0,2791.6 1167.7,2774.3 1250.0,2749.3 1366.4,2710.5 1482.7,2679.5" fill="none" stroke="#1840ff" stroke-width="4.5" stroke-linejoin="round" stroke-linecap="round"/>
<g fill="#1840ff"><rect x="981.9" y="2816.3" width="12" height="7" rx="2"/><rect x="999.5" y="2812.8" width="12" height="7" rx="2"/><rect x="1017.2" y="2809.3" width="12" height="7" rx="2"/><rect x="1034.8" y="2805.8" width="12" height="7" rx="2"/><rect x="1054.5" y="2799.9" width="12" height="7" rx="2"/><rect x="1074.3" y="2794.0" width="12" height="7" rx="2"/><rect x="1094.0" y="2788.1" width="12" height="7" rx="2"/><rect x="1110.9" y="2783.8" width="12" height="7" rx="2"/><rect x="1127.8" y="2779.4" width="12" height="7" rx="2"/><rect x="1144.8" y="2775.1" width="12" height="7" rx="2"/><rect x="1161.7" y="2770.8" width="12" height="7" rx="2"/><rect x="1182.3" y="2764.6" width="12" height="7" rx="2"/><rect x="1202.8" y="2758.3" width="12" height="7" rx="2"/><rect x="1223.4" y="2752.1" width="12" height="7" rx="2"/><rect x="1244.0" y="2745.8" width="12" height="7" rx="2"/><rect x="1263.4" y="2739.3" width="12" height="7" rx="2"/><rect x="1282.8" y="2732.9" width="12" height="7" rx="2"/><rect x="1302.2" y="2726.4" width="12" height="7" rx="2"/><rect x="1321.6" y="2719.9" width="12" height="7" rx="2"/><rect x="1341.0" y="2713.5" width="12" height="7" rx="2"/><rect x="1360.4" y="2707.0" width="12" height="7" rx="2"/><rect x="1379.8" y="2701.8" width="12" height="7" rx="2"/><rect x="1399.2" y="2696.7" width="12" height="7" rx="2"/><rect x="1418.6" y="2691.5" width="12" height="7" rx="2"/><rect x="1437.9" y="2686.3" width="12" height="7" rx="2"/><rect x="1457.3" y="2681.2" width="12" height="7" rx="2"/><rect x="1476.7" y="2676.0" width="12" height="7" rx="2"/></g>
<polyline points="940.3,2862.2 977.3,2856.9 1023.1,2851.6 1058.4,2844.6 1100.0,2830.5 1143.0,2816.7 1192.4,2801.9 1250.0,2792.7 1366.4,2754.0 1482.7,2722.9 1599.1,2695.8 1700.0,2679.5" fill="none" stroke="#55ffff" stroke-width="4" stroke-linejoin="round" stroke-linecap="round"/>
<g fill="#55ffff"><rect x="929.3" y="2858.2" width="22" height="8" rx="3"/><rect x="947.8" y="2855.6" width="22" height="8" rx="3"/><rect x="966.3" y="2852.9" width="22" height="8" rx="3"/><rect x="981.6" y="2851.1" width="22" height="8" rx="3"/><rect x="996.8" y="2849.4" width="22" height="8" rx="3"/><rect x="1012.1" y="2847.6" width="22" height="8" rx="3"/><rect x="1029.8" y="2844.1" width="22" height="8" rx="3"/><rect x="1047.4" y="2840.6" width="22" height="8" rx="3"/><rect x="1068.2" y="2833.6" width="22" height="8" rx="3"/><rect x="1089.0" y="2826.5" width="22" height="8" rx="3"/><rect x="1103.3" y="2821.9" width="22" height="8" rx="3"/><rect x="1117.7" y="2817.3" width="22" height="8" rx="3"/><rect x="1132.0" y="2812.7" width="22" height="8" rx="3"/><rect x="1148.5" y="2807.8" width="22" height="8" rx="3"/><rect x="1164.9" y="2802.8" width="22" height="8" rx="3"/><rect x="1181.4" y="2797.9" width="22" height="8" rx="3"/><rect x="1200.6" y="2794.8" width="22" height="8" rx="3"/><rect x="1219.8" y="2791.8" width="22" height="8" rx="3"/><rect x="1239.0" y="2788.7" width="22" height="8" rx="3"/><rect x="1258.4" y="2782.2" width="22" height="8" rx="3"/><rect x="1277.8" y="2775.8" width="22" height="8" rx="3"/><rect x="1297.2" y="2769.3" width="22" height="8" rx="3"/><rect x="1316.6" y="2762.9" width="22" height="8" rx="3"/><rect x="1336.0" y="2756.4" width="22" height="8" rx="3"/><rect x="1355.4" y="2750.0" width="22" height="8" rx="3"/><rect x="1374.8" y="2744.8" width="22" height="8" rx="3"/><rect x="1394.2" y="2739.6" width="22" height="8" rx="3"/><rect x="1413.6" y="2734.4" width="22" height="8" rx="3"/><rect x="1432.9" y="2729.3" width="22" height="8" rx="3"/><rect x="1452.3" y="2724.1" width="22" height="8" rx="3"/><rect x="1471.7" y="2718.9" width="22" height="8" rx="3"/><rect x="1491.1" y="2714.4" width="22" height="8" rx="3"/><rect x="1510.5" y="2709.9" width="22" height="8" rx="3"/><rect x="1529.9" y="2705.4" width="22" height="8" rx="3"/><rect x="1549.3" y="2700.8" width="22" height="8" rx="3"/><rect x="1568.7" y="2696.3" width="22" height="8" rx="3"/><rect x="1588.1" y="2691.8" width="22" height="8" rx="3"/><rect x="1608.3" y="2688.5" width="22" height="8" rx="3"/><rect x="1628.5" y="2685.3" width="22" height="8" rx="3"/><rect x="1648.6" y="2682.0" width="22" height="8" rx="3"/><rect x="1668.8" y="2678.8" width="22" height="8" rx="3"/><rect x="1689.0" y="2675.5" width="22" height="8" rx="3"/></g>
<polyline points="1023.1,2859.6 1058.4,2852.6 1100.0,2838.5 1143.0,2824.7 1192.4,2809.9 1250.0,2800.7 1366.4,2762.0 1482.7,2730.9" fill="none" stroke="#55ffff" stroke-width="4" stroke-linejoin="round" stroke-linecap="round"/>
<g fill="#55ffff"><rect x="1012.1" y="2855.6" width="22" height="8" rx="3"/><rect x="1029.8" y="2852.1" width="22" height="8" rx="3"/><rect x="1047.4" y="2848.6" width="22" height="8" rx="3"/><rect x="1068.2" y="2841.6" width="22" height="8" rx="3"/><rect x="1089.0" y="2834.5" width="22" height="8" rx="3"/><rect x="1103.3" y="2829.9" width="22" height="8" rx="3"/><rect x="1117.7" y="2825.3" width="22" height="8" rx="3"/><rect x="1132.0" y="2820.7" width="22" height="8" rx="3"/><rect x="1148.5" y="2815.8" width="22" height="8" rx="3"/><rect x="1164.9" y="2810.8" width="22" height="8" rx="3"/><rect x="1181.4" y="2805.9" width="22" height="8" rx="3"/><rect x="1200.6" y="2802.8" width="22" height="8" rx="3"/><rect x="1219.8" y="2799.8" width="22" height="8" rx="3"/><rect x="1239.0" y="2796.7" width="22" height="8" rx="3"/><rect x="1258.4" y="2790.2" width="22" height="8" rx="3"/><rect x="1277.8" y="2783.8" width="22" height="8" rx="3"/><rect x="1297.2" y="2777.3" width="22" height="8" rx="3"/><rect x="1316.6" y="2770.9" width="22" height="8" rx="3"/><rect x="1336.0" y="2764.4" width="22" height="8" rx="3"/><rect x="1355.4" y="2758.0" width="22" height="8" rx="3"/><rect x="1374.8" y="2752.8" width="22" height="8" rx="3"/><rect x="1394.2" y="2747.6" width="22" height="8" rx="3"/><rect x="1413.6" y="2742.4" width="22" height="8" rx="3"/><rect x="1432.9" y="2737.3" width="22" height="8" rx="3"/><rect x="1452.3" y="2732.1" width="22" height="8" rx="3"/><rect x="1471.7" y="2726.9" width="22" height="8" rx="3"/></g>
<polyline points="912.1,3000.4 956.1,3001.5 994.9,2999.7 1030.2,2998.0 1067.2,2996.2 1099.4,2992.3 1133.9,2989.8 1173.4,2982.4 1208.0,2970.0 1247.5,2957.7 1282.0,2942.9 1316.6,2933.0 1356.1,2920.7 1395.6,2910.8 1435.0,2905.9 1469.6,2900.9 1519.0,2898.5 1568.3,2891.0 1617.7,2883.7 1686.8,2873.8" fill="none" stroke="#1840ff" stroke-width="4.5" stroke-linejoin="round" stroke-linecap="round"/>
<g fill="#1840ff"><polygon points="901.6,3000.4 912.1,2987.9 922.6,3000.4 912.1,3012.9"/><polygon points="916.3,3000.8 926.8,2988.3 937.3,3000.8 926.8,3013.3"/><polygon points="930.9,3001.1 941.4,2988.6 951.9,3001.1 941.4,3013.6"/><polygon points="945.6,3001.5 956.1,2989.0 966.6,3001.5 956.1,3014.0"/><polygon points="965.0,3000.6 975.5,2988.1 986.0,3000.6 975.5,3013.1"/><polygon points="984.4,2999.7 994.9,2987.2 1005.4,2999.7 994.9,3012.2"/><polygon points="1002.0,2998.8 1012.5,2986.3 1023.0,2998.8 1012.5,3011.3"/><polygon points="1019.7,2998.0 1030.2,2985.5 1040.7,2998.0 1030.2,3010.5"/><polygon points="1038.2,2997.1 1048.7,2984.6 1059.2,2997.1 1048.7,3009.6"/><polygon points="1056.7,2996.2 1067.2,2983.7 1077.7,2996.2 1067.2,3008.7"/><polygon points="1072.8,2994.2 1083.3,2981.8 1093.8,2994.2 1083.3,3006.8"/><polygon points="1088.9,2992.3 1099.4,2979.8 1109.9,2992.3 1099.4,3004.8"/><polygon points="1106.2,2991.1 1116.7,2978.6 1127.2,2991.1 1116.7,3003.6"/><polygon points="1123.4,2989.8 1133.9,2977.3 1144.4,2989.8 1133.9,3002.3"/><polygon points="1136.6,2987.3 1147.1,2974.8 1157.6,2987.3 1147.1,2999.8"/><polygon points="1149.7,2984.9 1160.2,2972.4 1170.7,2984.9 1160.2,2997.4"/><polygon points="1162.9,2982.4 1173.4,2969.9 1183.9,2982.4 1173.4,2994.9"/><polygon points="1180.2,2976.2 1190.7,2963.7 1201.2,2976.2 1190.7,2988.7"/><polygon points="1197.5,2970.0 1208.0,2957.5 1218.5,2970.0 1208.0,2982.5"/><polygon points="1210.7,2965.9 1221.2,2953.4 1231.7,2965.9 1221.2,2978.4"/><polygon points="1223.8,2961.8 1234.3,2949.3 1244.8,2961.8 1234.3,2974.3"/><polygon points="1237.0,2957.7 1247.5,2945.2 1258.0,2957.7 1247.5,2970.2"/><polygon points="1254.2,2950.3 1264.8,2937.8 1275.2,2950.3 1264.8,2962.8"/><polygon points="1271.5,2942.9 1282.0,2930.4 1292.5,2942.9 1282.0,2955.4"/><polygon points="1288.8,2937.9 1299.3,2925.4 1309.8,2937.9 1299.3,2950.4"/><polygon points="1306.1,2933.0 1316.6,2920.5 1327.1,2933.0 1316.6,2945.5"/><polygon points="1319.3,2928.9 1329.8,2916.4 1340.3,2928.9 1329.8,2941.4"/><polygon points="1332.4,2924.8 1342.9,2912.3 1353.4,2924.8 1342.9,2937.3"/><polygon points="1345.6,2920.7 1356.1,2908.2 1366.6,2920.7 1356.1,2933.2"/><polygon points="1358.8,2917.4 1369.3,2904.9 1379.8,2917.4 1369.3,2929.9"/><polygon points="1371.9,2914.1 1382.4,2901.6 1392.9,2914.1 1382.4,2926.6"/><polygon points="1385.1,2910.8 1395.6,2898.3 1406.1,2910.8 1395.6,2923.3"/><polygon points="1404.8,2908.4 1415.3,2895.9 1425.8,2908.4 1415.3,2920.9"/><polygon points="1424.5,2905.9 1435.0,2893.4 1445.5,2905.9 1435.0,2918.4"/><polygon points="1441.8,2903.4 1452.3,2890.9 1462.8,2903.4 1452.3,2915.9"/><polygon points="1459.1,2900.9 1469.6,2888.4 1480.1,2900.9 1469.6,2913.4"/><polygon points="1475.6,2900.1 1486.1,2887.6 1496.6,2900.1 1486.1,2912.6"/><polygon points="1492.0,2899.3 1502.5,2886.8 1513.0,2899.3 1502.5,2911.8"/><polygon points="1508.5,2898.5 1519.0,2886.0 1529.5,2898.5 1519.0,2911.0"/><polygon points="1524.9,2896.0 1535.4,2883.5 1545.9,2896.0 1535.4,2908.5"/><polygon points="1541.4,2893.5 1551.9,2881.0 1562.4,2893.5 1551.9,2906.0"/><polygon points="1557.8,2891.0 1568.3,2878.5 1578.8,2891.0 1568.3,2903.5"/><polygon points="1574.3,2888.6 1584.8,2876.1 1595.3,2888.6 1584.8,2901.1"/><polygon points="1590.7,2886.1 1601.2,2873.6 1611.7,2886.1 1601.2,2898.6"/><polygon points="1607.2,2883.7 1617.7,2871.2 1628.2,2883.7 1617.7,2896.2"/><polygon points="1624.5,2881.2 1635.0,2868.7 1645.5,2881.2 1635.0,2893.7"/><polygon points="1641.8,2878.8 1652.2,2866.2 1662.8,2878.8 1652.2,2891.2"/><polygon points="1659.0,2876.3 1669.5,2863.8 1680.0,2876.3 1669.5,2888.8"/><polygon points="1676.3,2873.8 1686.8,2861.3 1697.3,2873.8 1686.8,2886.3"/></g>
<polyline points="1300.0,2960.0 1346.2,2952.8 1395.6,2942.9 1445.0,2933.0 1494.3,2923.2 1543.7,2910.8 1590.0,2898.0" fill="none" stroke="#1840ff" stroke-width="4.5" stroke-linejoin="round" stroke-linecap="round"/>
<g fill="#1840ff"><polygon points="1289.5,2960.0 1300.0,2947.5 1310.5,2960.0 1300.0,2972.5"/><polygon points="1304.9,2957.6 1315.4,2945.1 1325.9,2957.6 1315.4,2970.1"/><polygon points="1320.3,2955.2 1330.8,2942.7 1341.3,2955.2 1330.8,2967.7"/><polygon points="1335.7,2952.8 1346.2,2940.3 1356.7,2952.8 1346.2,2965.3"/><polygon points="1352.2,2949.5 1362.7,2937.0 1373.2,2949.5 1362.7,2962.0"/><polygon points="1368.6,2946.2 1379.1,2933.7 1389.6,2946.2 1379.1,2958.7"/><polygon points="1385.1,2942.9 1395.6,2930.4 1406.1,2942.9 1395.6,2955.4"/><polygon points="1401.6,2939.6 1412.1,2927.1 1422.6,2939.6 1412.1,2952.1"/><polygon points="1418.0,2936.3 1428.5,2923.8 1439.0,2936.3 1428.5,2948.8"/><polygon points="1434.5,2933.0 1445.0,2920.5 1455.5,2933.0 1445.0,2945.5"/><polygon points="1450.9,2929.7 1461.4,2917.2 1471.9,2929.7 1461.4,2942.2"/><polygon points="1467.4,2926.5 1477.9,2914.0 1488.4,2926.5 1477.9,2939.0"/><polygon points="1483.8,2923.2 1494.3,2910.7 1504.8,2923.2 1494.3,2935.7"/><polygon points="1500.3,2919.1 1510.8,2906.6 1521.3,2919.1 1510.8,2931.6"/><polygon points="1516.7,2914.9 1527.2,2902.4 1537.7,2914.9 1527.2,2927.4"/><polygon points="1533.2,2910.8 1543.7,2898.3 1554.2,2910.8 1543.7,2923.3"/><polygon points="1548.6,2906.5 1559.1,2894.0 1569.6,2906.5 1559.1,2919.0"/><polygon points="1564.1,2902.3 1574.6,2889.8 1585.1,2902.3 1574.6,2914.8"/><polygon points="1579.5,2898.0 1590.0,2885.5 1600.5,2898.0 1590.0,2910.5"/></g>
<polyline points="1361.0,2957.7 1491.8,2997.2 1454.8,2965.1 1491.8,2997.2" fill="none" stroke="#0aa80a" stroke-width="4" stroke-linejoin="round" stroke-linecap="round"/>
<g fill="#0aa80a"><circle cx="1361.0" cy="2957.7" r="11.0"/><circle cx="1491.8" cy="2997.2" r="11.0"/><circle cx="1454.8" cy="2965.1" r="11.0"/><circle cx="1491.8" cy="2997.2" r="11.0"/></g>
<polyline points="1361.0,2957.7 1469.6,3019.4 1501.7,3049.0" fill="none" stroke="#0aa80a" stroke-width="4" stroke-linejoin="round" stroke-linecap="round"/>
<g fill="#0aa80a"><circle cx="1361.0" cy="2957.7" r="11.0"/><circle cx="1469.6" cy="3019.4" r="11.0"/><circle cx="1501.7" cy="3049.0" r="11.0"/></g>
<polyline points="1454.8,2965.1 1543.7,2989.8 1593.0,2994.7 1654.7,3007.1 1642.4,3026.8 1630.0,3041.6 1607.8,3051.5 1602.9,3066.3 1573.3,3068.8 1553.5,3076.2 1533.0,3081.7 1519.0,3092.3 1496.0,3097.6 1473.1,3102.9 1469.6,3120.5 1467.8,3141.7 1434.3,3145.2 1390.3,3159.3 1370.9,3168.1 1346.2,3166.4 1332.1,3175.2 1318.0,3178.7 1289.8,3180.5 1272.1,3198.1 1251.0,3182.2 1240.4,3191.0 1206.9,3196.3 1176.9,3203.4" fill="none" stroke="#0aa80a" stroke-width="4" stroke-linejoin="round" stroke-linecap="round"/>
<g fill="#0aa80a"><circle cx="1454.8" cy="2965.1" r="11.0"/><circle cx="1543.7" cy="2989.8" r="11.0"/><circle cx="1593.0" cy="2994.7" r="11.0"/><circle cx="1654.7" cy="3007.1" r="11.0"/><circle cx="1642.4" cy="3026.8" r="11.0"/><circle cx="1630.0" cy="3041.6" r="11.0"/><circle cx="1607.8" cy="3051.5" r="11.0"/><circle cx="1602.9" cy="3066.3" r="11.0"/><circle cx="1573.3" cy="3068.8" r="11.0"/><circle cx="1553.5" cy="3076.2" r="11.0"/><circle cx="1533.0" cy="3081.7" r="11.0"/><circle cx="1519.0" cy="3092.3" r="11.0"/><circle cx="1496.0" cy="3097.6" r="11.0"/><circle cx="1473.1" cy="3102.9" r="11.0"/><circle cx="1469.6" cy="3120.5" r="11.0"/><circle cx="1467.8" cy="3141.7" r="11.0"/><circle cx="1434.3" cy="3145.2" r="11.0"/><circle cx="1390.3" cy="3159.3" r="11.0"/><circle cx="1370.9" cy="3168.1" r="11.0"/><circle cx="1346.2" cy="3166.4" r="11.0"/><circle cx="1332.1" cy="3175.2" r="11.0"/><circle cx="1318.0" cy="3178.7" r="11.0"/><circle cx="1289.8" cy="3180.5" r="11.0"/><circle cx="1272.1" cy="3198.1" r="11.0"/><circle cx="1251.0" cy="3182.2" r="11.0"/><circle cx="1240.4" cy="3191.0" r="11.0"/><circle cx="1206.9" cy="3196.3" r="11.0"/><circle cx="1176.9" cy="3203.4" r="11.0"/></g>
<polyline points="1501.7,3049.0 1444.9,3039.2 1415.3,3041.6 1395.6,3049.0 1366.0,3051.5 1366.0,3071.3 1336.3,3105.8 1316.6,3118.1 1272.1,3108.3 1337.4,3157.5" fill="none" stroke="#0aa80a" stroke-width="4" stroke-linejoin="round" stroke-linecap="round"/>
<g fill="#0aa80a"><circle cx="1501.7" cy="3049.0" r="11.0"/><circle cx="1444.9" cy="3039.2" r="11.0"/><circle cx="1415.3" cy="3041.6" r="11.0"/><circle cx="1395.6" cy="3049.0" r="11.0"/><circle cx="1366.0" cy="3051.5" r="11.0"/><circle cx="1366.0" cy="3071.3" r="11.0"/><circle cx="1336.3" cy="3105.8" r="11.0"/><circle cx="1316.6" cy="3118.1" r="11.0"/><circle cx="1272.1" cy="3108.3" r="11.0"/><circle cx="1337.4" cy="3157.5" r="11.0"/></g>
<polyline points="1270.4,3110.0 1318.0,3115.2 1342.7,3102.9 1360.3,3064.1 1367.3,3053.5" fill="none" stroke="#0aa80a" stroke-width="4" stroke-linejoin="round" stroke-linecap="round"/>
<g fill="#0aa80a"><circle cx="1270.4" cy="3110.0" r="11.0"/><circle cx="1318.0" cy="3115.2" r="11.0"/><circle cx="1342.7" cy="3102.9" r="11.0"/><circle cx="1360.3" cy="3064.1" r="11.0"/><circle cx="1367.3" cy="3053.5" r="11.0"/></g>
<polyline points="1740.7,2752.0 1713.5,2754.0 1680.6,2754.0 1645.7,2740.4 1606.9,2738.4 1581.7,2726.8 1523.5,2719.0 1469.2,2711.3 1432.3,2707.4 1420.7,2734.6 1445.0,2745.0 1577.8,2810.2" fill="none" stroke="#ff1111" stroke-width="4" stroke-linejoin="round" stroke-linecap="round"/>
<g fill="#ff1111"><circle cx="1740.7" cy="2752.0" r="11.0"/><circle cx="1713.5" cy="2754.0" r="11.0"/><circle cx="1680.6" cy="2754.0" r="11.0"/><circle cx="1645.7" cy="2740.4" r="11.0"/><circle cx="1606.9" cy="2738.4" r="11.0"/><circle cx="1581.7" cy="2726.8" r="11.0"/><circle cx="1523.5" cy="2719.0" r="11.0"/><circle cx="1469.2" cy="2711.3" r="11.0"/><circle cx="1432.3" cy="2707.4" r="11.0"/><circle cx="1420.7" cy="2734.6" r="11.0"/><circle cx="1445.0" cy="2745.0" r="11.0"/><circle cx="1577.8" cy="2810.2" r="11.0"/></g>
<polyline points="1577.8,2810.2 1362.5,2738.4 1370.2,2757.8 1354.7,2781.1 1350.9,2792.7 1319.8,2792.7" fill="none" stroke="#ff1111" stroke-width="4" stroke-linejoin="round" stroke-linecap="round"/>
<g fill="#ff1111"><circle cx="1577.8" cy="2810.2" r="11.0"/><circle cx="1362.5" cy="2738.4" r="11.0"/><circle cx="1370.2" cy="2757.8" r="11.0"/><circle cx="1354.7" cy="2781.1" r="11.0"/><circle cx="1350.9" cy="2792.7" r="11.0"/><circle cx="1319.8" cy="2792.7" r="11.0"/></g>
<polyline points="1319.8,2792.7 1362.5,2823.8" fill="none" stroke="#ff1111" stroke-width="4" stroke-linejoin="round" stroke-linecap="round"/>
<g fill="#ff1111"><circle cx="1319.8" cy="2792.7" r="11.0"/><circle cx="1362.5" cy="2823.8" r="11.0"/></g>
<polyline points="1680.6,2751.0 1579.7,2740.4 1556.4,2746.2 1533.2,2752.0 1508.0,2755.9 1486.6,2761.7 1463.3,2765.6 1451.7,2785.0 1424.6,2792.7 1409.0,2800.5 1385.8,2808.3 1362.5,2823.8 1339.2,2831.5 1319.8,2845.1 1304.3,2858.7 1301.8,2876.3 1311.6,2893.5 1306.7,2905.9 1269.7,2900.9 1282.0,2923.2 1282.0,2952.8 1301.8,2947.8 1316.6,2982.4 1291.9,2992.3 1269.7,3009.5 1306.7,3046.6 1324.0,3088.5 1361.0,3088.5 1375.8,3076.2 1385.7,3100.9 1375.8,3115.7 1361.0,3125.6" fill="none" stroke="#ff1111" stroke-width="4" stroke-linejoin="round" stroke-linecap="round"/>
<g fill="#ff1111"><circle cx="1680.6" cy="2751.0" r="11.0"/><circle cx="1579.7" cy="2740.4" r="11.0"/><circle cx="1556.4" cy="2746.2" r="11.0"/><circle cx="1533.2" cy="2752.0" r="11.0"/><circle cx="1508.0" cy="2755.9" r="11.0"/><circle cx="1486.6" cy="2761.7" r="11.0"/><circle cx="1463.3" cy="2765.6" r="11.0"/><circle cx="1451.7" cy="2785.0" r="11.0"/><circle cx="1424.6" cy="2792.7" r="11.0"/><circle cx="1409.0" cy="2800.5" r="11.0"/><circle cx="1385.8" cy="2808.3" r="11.0"/><circle cx="1362.5" cy="2823.8" r="11.0"/><circle cx="1339.2" cy="2831.5" r="11.0"/><circle cx="1319.8" cy="2845.1" r="11.0"/><circle cx="1304.3" cy="2858.7" r="11.0"/><circle cx="1301.8" cy="2876.3" r="11.0"/><circle cx="1311.6" cy="2893.5" r="11.0"/><circle cx="1306.7" cy="2905.9" r="11.0"/><circle cx="1269.7" cy="2900.9" r="11.0"/><circle cx="1282.0" cy="2923.2" r="11.0"/><circle cx="1282.0" cy="2952.8" r="11.0"/><circle cx="1301.8" cy="2947.8" r="11.0"/><circle cx="1316.6" cy="2982.4" r="11.0"/><circle cx="1291.9" cy="2992.3" r="11.0"/><circle cx="1269.7" cy="3009.5" r="11.0"/><circle cx="1306.7" cy="3046.6" r="11.0"/><circle cx="1324.0" cy="3088.5" r="11.0"/><circle cx="1361.0" cy="3088.5" r="11.0"/><circle cx="1375.8" cy="3076.2" r="11.0"/><circle cx="1385.7" cy="3100.9" r="11.0"/><circle cx="1375.8" cy="3115.7" r="11.0"/><circle cx="1361.0" cy="3125.6" r="11.0"/></g>
<polyline points="1362.5,2823.8 1389.6,2862.6 1393.5,2885.8 1395.6,2903.4 1395.6,2928.1 1400.5,2942.9 1415.3,2965.1 1412.8,2977.5 1400.5,2987.3 1417.8,3012.0 1430.1,3034.2 1447.4,3061.4 1449.9,3076.2 1462.6,3102.9 1325.0,3088.8 1362.0,3087.0 1376.2,3078.2 1385.0,3099.4 1374.4,3115.2 1360.3,3125.8 1325.0,3088.8" fill="none" stroke="#ff1111" stroke-width="4" stroke-linejoin="round" stroke-linecap="round"/>
<g fill="#ff1111"><circle cx="1362.5" cy="2823.8" r="11.0"/><circle cx="1389.6" cy="2862.6" r="11.0"/><circle cx="1393.5" cy="2885.8" r="11.0"/><circle cx="1395.6" cy="2903.4" r="11.0"/><circle cx="1395.6" cy="2928.1" r="11.0"/><circle cx="1400.5" cy="2942.9" r="11.0"/><circle cx="1415.3" cy="2965.1" r="11.0"/><circle cx="1412.8" cy="2977.5" r="11.0"/><circle cx="1400.5" cy="2987.3" r="11.0"/><circle cx="1417.8" cy="3012.0" r="11.0"/><circle cx="1430.1" cy="3034.2" r="11.0"/><circle cx="1447.4" cy="3061.4" r="11.0"/><circle cx="1449.9" cy="3076.2" r="11.0"/><circle cx="1462.6" cy="3102.9" r="11.0"/><circle cx="1325.0" cy="3088.8" r="11.0"/><circle cx="1362.0" cy="3087.0" r="11.0"/><circle cx="1376.2" cy="3078.2" r="11.0"/><circle cx="1385.0" cy="3099.4" r="11.0"/><circle cx="1374.4" cy="3115.2" r="11.0"/><circle cx="1360.3" cy="3125.8" r="11.0"/><circle cx="1325.0" cy="3088.8" r="11.0"/></g>
<polyline points="1104.7,3069.4 1316.2,3159.3 1104.7,3069.4" fill="none" stroke="#ff1111" stroke-width="4" stroke-linejoin="round" stroke-linecap="round"/>
<g fill="#ff1111"><circle cx="1104.7" cy="3069.4" r="11.0"/><circle cx="1316.2" cy="3159.3" r="11.0"/><circle cx="1104.7" cy="3069.4" r="11.0"/></g>
<polyline points="1205.1,3064.1 1360.3,3125.8" fill="none" stroke="#ff1111" stroke-width="4" stroke-linejoin="round" stroke-linecap="round"/>
<g fill="#ff1111"><circle cx="1205.1" cy="3064.1" r="11.0"/><circle cx="1360.3" cy="3125.8" r="11.0"/></g>
<polyline points="1206.9,3085.3 1316.2,3159.3" fill="none" stroke="#ff1111" stroke-width="4" stroke-linejoin="round" stroke-linecap="round"/>
<g fill="#ff1111"><circle cx="1206.9" cy="3085.3" r="11.0"/><circle cx="1316.2" cy="3159.3" r="11.0"/></g>
<polyline points="1104.7,3069.4 1245.7,3159.3 1291.5,3206.9 1266.9,3215.7 1210.4,3201.6 1258.0,3258.0 1249.2,3277.4 1279.2,3272.1 1309.2,3266.9 1339.1,3263.3 1367.3,3261.6 1399.1,3258.0 1429.0,3252.7 1457.3,3251.0 1427.3,3205.1 1434.3,3185.8 1422.0,3157.5 1360.3,3125.8" fill="none" stroke="#ff1111" stroke-width="4" stroke-linejoin="round" stroke-linecap="round"/>
<g fill="#ff1111"><circle cx="1104.7" cy="3069.4" r="11.0"/><circle cx="1245.7" cy="3159.3" r="11.0"/><circle cx="1291.5" cy="3206.9" r="11.0"/><circle cx="1266.9" cy="3215.7" r="11.0"/><circle cx="1210.4" cy="3201.6" r="11.0"/><circle cx="1258.0" cy="3258.0" r="11.0"/><circle cx="1249.2" cy="3277.4" r="11.0"/><circle cx="1279.2" cy="3272.1" r="11.0"/><circle cx="1309.2" cy="3266.9" r="11.0"/><circle cx="1339.1" cy="3263.3" r="11.0"/><circle cx="1367.3" cy="3261.6" r="11.0"/><circle cx="1399.1" cy="3258.0" r="11.0"/><circle cx="1429.0" cy="3252.7" r="11.0"/><circle cx="1457.3" cy="3251.0" r="11.0"/><circle cx="1427.3" cy="3205.1" r="11.0"/><circle cx="1434.3" cy="3185.8" r="11.0"/><circle cx="1422.0" cy="3157.5" r="11.0"/><circle cx="1360.3" cy="3125.8" r="11.0"/></g>
<polyline points="1462.6,3102.9 1452.0,3078.2 1448.4,3060.6" fill="none" stroke="#ff1111" stroke-width="4" stroke-linejoin="round" stroke-linecap="round"/>
<g fill="#ff1111"><circle cx="1462.6" cy="3102.9" r="11.0"/><circle cx="1452.0" cy="3078.2" r="11.0"/><circle cx="1448.4" cy="3060.6" r="11.0"/></g>
<line x1="1277.1" y1="2826.9" x2="1244.2" y2="2894.4" stroke="#000" stroke-width="4" />
<polygon points="1230.2,2923.2 1232.5,2888.7 1255.9,2900.1" fill="#000"/>
<line x1="1427.6" y1="2901.0" x2="1424.8" y2="2858.8" stroke="#000" stroke-width="4" />
<polygon points="1422.7,2826.9 1437.8,2858.0 1411.8,2859.7" fill="#000"/>
<line x1="1620.2" y1="2979.9" x2="1555.4" y2="2968.3" stroke="#000" stroke-width="4" />
<polygon points="1523.9,2962.7 1557.7,2955.5 1553.1,2981.1" fill="#000"/>
<line x1="1491.8" y1="3155.2" x2="1564.8" y2="3116.0" stroke="#000" stroke-width="4" />
<polygon points="1593.0,3100.9 1570.9,3127.5 1558.7,3104.6" fill="#000"/>
<line x1="1300.4" y1="3295.1" x2="1407.7" y2="3288.2" stroke="#000" stroke-width="4" />
<polygon points="1439.6,3286.2 1408.5,3301.2 1406.8,3275.3" fill="#000"/>
</g>
<line x1="259.0" y1="3468.4" x2="280.4" y2="3468.4" stroke="#000" stroke-width="3" />
<line x1="264.0" y1="3368.3" x2="280.4" y2="3368.3" stroke="#000" stroke-width="3" />
<line x1="264.0" y1="3309.8" x2="280.4" y2="3309.8" stroke="#000" stroke-width="3" />
<line x1="264.0" y1="3268.2" x2="280.4" y2="3268.2" stroke="#000" stroke-width="3" />
<line x1="264.0" y1="3236.0" x2="280.4" y2="3236.0" stroke="#000" stroke-width="3" />
<line x1="264.0" y1="3209.7" x2="280.4" y2="3209.7" stroke="#000" stroke-width="3" />
<line x1="264.0" y1="3187.4" x2="280.4" y2="3187.4" stroke="#000" stroke-width="3" />
<line x1="264.0" y1="3168.2" x2="280.4" y2="3168.2" stroke="#000" stroke-width="3" />
<line x1="264.0" y1="3151.1" x2="280.4" y2="3151.1" stroke="#000" stroke-width="3" />
<line x1="259.0" y1="3135.9" x2="280.4" y2="3135.9" stroke="#000" stroke-width="3" />
<line x1="264.0" y1="3035.9" x2="280.4" y2="3035.9" stroke="#000" stroke-width="3" />
<line x1="264.0" y1="2977.3" x2="280.4" y2="2977.3" stroke="#000" stroke-width="3" />
<line x1="264.0" y1="2935.8" x2="280.4" y2="2935.8" stroke="#000" stroke-width="3" />
<line x1="264.0" y1="2903.5" x2="280.4" y2="2903.5" stroke="#000" stroke-width="3" />
<line x1="264.0" y1="2877.2" x2="280.4" y2="2877.2" stroke="#000" stroke-width="3" />
<line x1="264.0" y1="2855.0" x2="280.4" y2="2855.0" stroke="#000" stroke-width="3" />
<line x1="264.0" y1="2835.7" x2="280.4" y2="2835.7" stroke="#000" stroke-width="3" />
<line x1="264.0" y1="2818.7" x2="280.4" y2="2818.7" stroke="#000" stroke-width="3" />
<line x1="259.0" y1="2803.5" x2="280.4" y2="2803.5" stroke="#000" stroke-width="3" />
<line x1="264.0" y1="2703.4" x2="280.4" y2="2703.4" stroke="#000" stroke-width="3" />
<line x1="264.0" y1="2644.8" x2="280.4" y2="2644.8" stroke="#000" stroke-width="3" />
<line x1="264.0" y1="2603.3" x2="280.4" y2="2603.3" stroke="#000" stroke-width="3" />
<line x1="264.0" y1="2571.1" x2="280.4" y2="2571.1" stroke="#000" stroke-width="3" />
<line x1="264.0" y1="2544.8" x2="280.4" y2="2544.8" stroke="#000" stroke-width="3" />
<line x1="264.0" y1="2522.5" x2="280.4" y2="2522.5" stroke="#000" stroke-width="3" />
<line x1="264.0" y1="2503.2" x2="280.4" y2="2503.2" stroke="#000" stroke-width="3" />
<line x1="264.0" y1="2486.2" x2="280.4" y2="2486.2" stroke="#000" stroke-width="3" />
<line x1="259.0" y1="2471.0" x2="280.4" y2="2471.0" stroke="#000" stroke-width="3" />
<line x1="280.4" y1="3468.4" x2="280.4" y2="3486.0" stroke="#000" stroke-width="3" />
<line x1="534.1" y1="3468.4" x2="534.1" y2="3484.0" stroke="#000" stroke-width="3" />
<line x1="682.5" y1="3468.4" x2="682.5" y2="3484.0" stroke="#000" stroke-width="3" />
<line x1="787.8" y1="3468.4" x2="787.8" y2="3484.0" stroke="#000" stroke-width="3" />
<line x1="869.5" y1="3468.4" x2="869.5" y2="3484.0" stroke="#000" stroke-width="3" />
<line x1="936.2" y1="3468.4" x2="936.2" y2="3484.0" stroke="#000" stroke-width="3" />
<line x1="992.6" y1="3468.4" x2="992.6" y2="3484.0" stroke="#000" stroke-width="3" />
<line x1="1041.5" y1="3468.4" x2="1041.5" y2="3484.0" stroke="#000" stroke-width="3" />
<line x1="1084.6" y1="3468.4" x2="1084.6" y2="3484.0" stroke="#000" stroke-width="3" />
<line x1="1123.2" y1="3468.4" x2="1123.2" y2="3486.0" stroke="#000" stroke-width="3" />
<line x1="1376.9" y1="3468.4" x2="1376.9" y2="3484.0" stroke="#000" stroke-width="3" />
<line x1="1525.3" y1="3468.4" x2="1525.3" y2="3484.0" stroke="#000" stroke-width="3" />
<line x1="1630.6" y1="3468.4" x2="1630.6" y2="3484.0" stroke="#000" stroke-width="3" />
<line x1="1712.3" y1="3468.4" x2="1712.3" y2="3484.0" stroke="#000" stroke-width="3" />
<line x1="1779.0" y1="3468.4" x2="1779.0" y2="3484.0" stroke="#000" stroke-width="3" />
<line x1="1835.4" y1="3468.4" x2="1835.4" y2="3484.0" stroke="#000" stroke-width="3" />
<line x1="1884.3" y1="3468.4" x2="1884.3" y2="3484.0" stroke="#000" stroke-width="3" />
<line x1="1927.4" y1="3468.4" x2="1927.4" y2="3484.0" stroke="#000" stroke-width="3" />
<line x1="1966.0" y1="3468.4" x2="1966.0" y2="3486.0" stroke="#000" stroke-width="3" />
<line x1="1967.0" y1="3468.4" x2="1967.0" y2="3488.0" stroke="#000" stroke-width="3" />
<rect x="280.4" y="2471" width="1686.6" height="997.4000000000001" fill="none" stroke="#000" stroke-width="3.5"/>
<text transform="translate(230.0,2493.6) scale(0.8500,1)" font-size="68.3" text-anchor="end" stroke="#000" stroke-width="1.1">1</text>
<text transform="translate(230.0,2826.1) scale(0.8500,1)" font-size="68.3" text-anchor="end" stroke="#000" stroke-width="1.1">0.1</text>
<text transform="translate(230.0,3158.5) scale(0.8500,1)" font-size="68.3" text-anchor="end" stroke="#000" stroke-width="1.1">0.01</text>
<text transform="translate(230.0,3491.0) scale(0.8500,1)" font-size="68.3" text-anchor="end" stroke="#000" stroke-width="1.1">0.001</text>
<text transform="translate(150.5,3618.8) scale(0.9200,1)" font-size="69.2" stroke="#000" stroke-width="1.1">10</text>
<text transform="translate(225.0,3599.0)" font-size="45.2" stroke="#000" stroke-width="1.1">-8</text>
<text transform="translate(1002.9,3618.8) scale(0.9200,1)" font-size="69.2" stroke="#000" stroke-width="1.1">10</text>
<text transform="translate(1077.0,3599.0)" font-size="45.2" stroke="#000" stroke-width="1.1">-7</text>
<text transform="translate(1811.0,3618.8) scale(0.9200,1)" font-size="69.2" stroke="#000" stroke-width="1.1">10</text>
<text transform="translate(1884.9,3599.0)" font-size="45.2" stroke="#000" stroke-width="1.1">-6</text>
<text transform="translate(790.0,3695.0) scale(0.9930,1)" font-size="75.7" stroke="#000" stroke-width="1.1">Strain amplitude</text>
<text transform="translate(86.9,3025.5) rotate(-90) scale(0.9060,1)" font-size="75.5" text-anchor="middle" font-family="'DejaVu Serif',serif" stroke="#000" stroke-width="1.1">δ</text>
<text transform="translate(1859.1,3395.8) scale(0.9780,1)" font-size="67.0" text-anchor="end" stroke="#000" stroke-width="1.1">(c)</text>
<line x1="369.3" y1="2632.3" x2="444.6" y2="2632.3" stroke="#000080" stroke-width="2.8" stroke-linecap="round"/>
<text transform="translate(452.8,2653.7) scale(0.9000,1)" font-size="69.7" stroke="#000" stroke-width="1.1">18</text>
<text transform="translate(533.9,2653.7)" font-size="71.0" stroke="#000" stroke-width="1.1">K</text>
<line x1="369.3" y1="2710.1" x2="444.6" y2="2710.1" stroke="#9640ff" stroke-width="4" stroke-linecap="round"/>
<text transform="translate(452.8,2731.5) scale(0.9000,1)" font-size="69.7" stroke="#000" stroke-width="1.1">21</text>
<text transform="translate(533.9,2731.5)" font-size="71.0" stroke="#000" stroke-width="1.1">K</text>
<line x1="369.3" y1="2787.9" x2="444.6" y2="2787.9" stroke="#66ffcc" stroke-width="4" stroke-linecap="round"/>
<text transform="translate(452.8,2809.3) scale(0.9000,1)" font-size="69.7" stroke="#000" stroke-width="1.1">24</text>
<text transform="translate(533.9,2809.3)" font-size="71.0" stroke="#000" stroke-width="1.1">K</text>
<line x1="369.3" y1="2865.7" x2="444.6" y2="2865.7" stroke="#5a00f0" stroke-width="4" stroke-linecap="round"/>
<text transform="translate(452.8,2887.1) scale(0.9000,1)" font-size="69.7" stroke="#000" stroke-width="1.1">28</text>
<text transform="translate(533.9,2887.1)" font-size="71.0" stroke="#000" stroke-width="1.1">K</text>
<line x1="369.3" y1="2943.5" x2="444.6" y2="2943.5" stroke="#129a68" stroke-width="4" stroke-linecap="round"/>
<text transform="translate(452.8,2964.9) scale(0.9000,1)" font-size="69.7" stroke="#000" stroke-width="1.1">30</text>
<text transform="translate(533.9,2964.9)" font-size="71.0" stroke="#000" stroke-width="1.1">K</text>
<line x1="369.3" y1="3021.3" x2="444.6" y2="3021.3" stroke="#1840ff" stroke-width="4" stroke-linecap="round"/>
<text transform="translate(452.8,3042.7) scale(0.9000,1)" font-size="69.7" stroke="#000" stroke-width="1.1">31</text>
<text transform="translate(533.9,3042.7)" font-size="71.0" stroke="#000" stroke-width="1.1">K</text>
<line x1="369.3" y1="3099.1" x2="444.6" y2="3099.1" stroke="#55ffff" stroke-width="4" stroke-linecap="round"/>
<text transform="translate(452.8,3120.5) scale(0.9000,1)" font-size="69.7" stroke="#000" stroke-width="1.1">36</text>
<text transform="translate(533.9,3120.5)" font-size="71.0" stroke="#000" stroke-width="1.1">K</text>
<line x1="369.3" y1="3176.9" x2="444.6" y2="3176.9" stroke="#1840ff" stroke-width="4" stroke-linecap="round"/>
<text transform="translate(452.8,3198.3) scale(0.9000,1)" font-size="69.7" stroke="#000" stroke-width="1.1">39</text>
<text transform="translate(533.9,3198.3)" font-size="71.0" stroke="#000" stroke-width="1.1">K</text>
<line x1="369.3" y1="3254.7" x2="444.6" y2="3254.7" stroke="#0aa80a" stroke-width="4" stroke-linecap="round"/>
<text transform="translate(452.8,3276.1) scale(0.9000,1)" font-size="69.7" stroke="#000" stroke-width="1.1">42</text>
<text transform="translate(533.9,3276.1)" font-size="71.0" stroke="#000" stroke-width="1.1">K</text>
<line x1="369.3" y1="3332.5" x2="444.6" y2="3332.5" stroke="#ff1111" stroke-width="4" stroke-linecap="round"/>
<text transform="translate(452.8,3353.9) scale(0.9000,1)" font-size="69.7" stroke="#000" stroke-width="1.1">46</text>
<text transform="translate(533.9,3353.9)" font-size="71.0" stroke="#000" stroke-width="1.1">K</text>
<g fill="#000080"><polygon points="397.0,2632.3 407.0,2620.8 417.0,2632.3 407.0,2643.8"/></g>
<g fill="#9640ff"><rect x="396.0" y="2699.1" width="22" height="22"/></g>
<path d="M397.0,2777.9L417.0,2797.9M397.0,2797.9L417.0,2777.9" stroke="#66ffcc" stroke-width="3.5" fill="none"/>
<path d="M397.0,2855.7L417.0,2875.7M397.0,2875.7L417.0,2855.7M407.0,2855.7L407.0,2875.7" stroke="#5a00f0" stroke-width="3.5" fill="none"/>
<path d="M407.0,2932.5L407.0,2954.5" stroke="#129a68" stroke-width="3.5" fill="none"/>
<g fill="#1840ff"><rect x="405.0" y="3017.8" width="12" height="7" rx="2"/></g>
<g fill="#55ffff"><rect x="396.0" y="3095.1" width="22" height="8" rx="3"/></g>
<g fill="#1840ff"><polygon points="398.0,3176.9 407.0,3166.4 416.0,3176.9 407.0,3187.4"/></g>
<g fill="#0aa80a"><circle cx="407.0" cy="3254.7" r="11.0"/></g>
<g fill="#ff1111"><circle cx="407.0" cy="3332.5" r="11.0"/></g>
</svg></body></html>
